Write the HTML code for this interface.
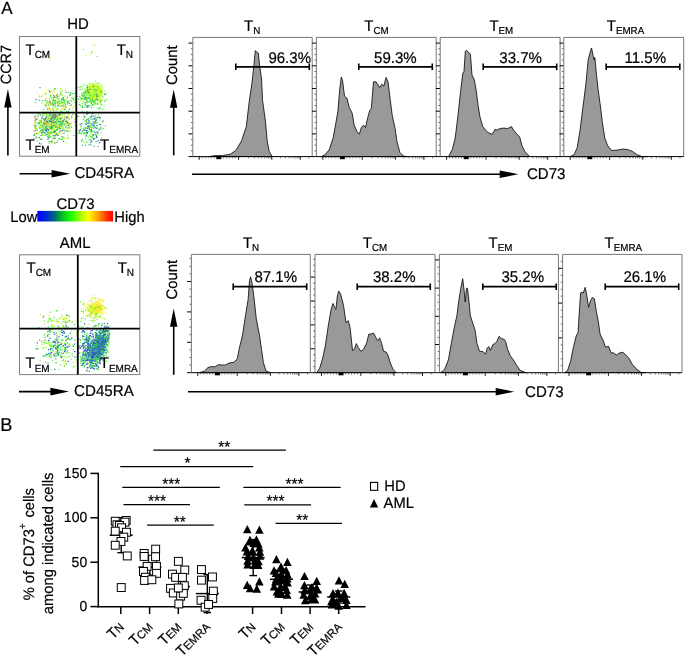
<!DOCTYPE html><html><head><meta charset="utf-8"><style>html,body{margin:0;padding:0;background:#fff;width:685px;height:655px;overflow:hidden}svg{display:block;will-change:transform}</style></head><body><svg width="685" height="655" viewBox="0 0 685 655" font-family='"Liberation Sans", sans-serif' fill="#000">
<style>text{stroke:#000;stroke-width:0.2px;text-rendering:geometricPrecision}</style>
<rect width="685" height="655" fill="#fff"/>
<defs><linearGradient id="cb" x1="0" x2="1" y1="0" y2="0"><stop offset="0" stop-color="rgb(0, 0, 255)"/><stop offset="0.1" stop-color="rgb(0, 32, 232)"/><stop offset="0.22" stop-color="rgb(0, 96, 128)"/><stop offset="0.33" stop-color="rgb(0, 192, 32)"/><stop offset="0.45" stop-color="rgb(32, 255, 0)"/><stop offset="0.58" stop-color="rgb(176, 255, 0)"/><stop offset="0.67" stop-color="rgb(255, 255, 0)"/><stop offset="0.8" stop-color="rgb(255, 160, 0)"/><stop offset="0.92" stop-color="rgb(255, 48, 0)"/><stop offset="1.0" stop-color="rgb(255, 0, 0)"/></linearGradient></defs>
<text transform="translate(1.20,13.80) scale(1,1.03)" font-size="17.00">A</text>
<text transform="translate(67.30,29.30) scale(1,1.03)" font-size="14.94">HD</text>
<path d="M95.2 92.0h1.2v1.2h-1.2zM96.0 89.4h1.2v1.2h-1.2zM90.3 92.4h1.2v1.2h-1.2zM88.9 91.0h1.2v1.2h-1.2zM93.8 89.7h1.2v1.2h-1.2zM94.4 91.5h1.2v1.2h-1.2zM97.4 85.5h1.2v1.2h-1.2zM96.7 91.2h1.2v1.2h-1.2zM92.1 92.9h1.2v1.2h-1.2zM91.7 87.0h1.2v1.2h-1.2zM92.7 94.9h1.2v1.2h-1.2zM100.1 90.9h1.2v1.2h-1.2zM95.4 90.7h1.2v1.2h-1.2zM89.5 91.2h1.2v1.2h-1.2zM96.7 91.9h1.2v1.2h-1.2zM89.9 94.2h1.2v1.2h-1.2zM89.8 92.1h1.2v1.2h-1.2zM97.9 88.4h1.2v1.2h-1.2zM91.6 92.4h1.2v1.2h-1.2zM89.5 83.6h1.2v1.2h-1.2zM93.7 98.1h1.2v1.2h-1.2zM97.9 91.4h1.2v1.2h-1.2zM92.5 92.0h1.2v1.2h-1.2zM89.8 89.2h1.2v1.2h-1.2zM88.2 97.9h1.2v1.2h-1.2zM91.8 93.9h1.2v1.2h-1.2zM95.2 89.9h1.2v1.2h-1.2zM93.4 90.7h1.2v1.2h-1.2zM96.7 96.9h1.2v1.2h-1.2zM95.0 83.1h1.2v1.2h-1.2zM96.0 85.1h1.2v1.2h-1.2zM90.5 87.8h1.2v1.2h-1.2zM95.4 88.7h1.2v1.2h-1.2zM97.0 90.1h1.2v1.2h-1.2zM98.5 88.0h1.2v1.2h-1.2zM93.8 92.2h1.2v1.2h-1.2zM96.2 95.4h1.2v1.2h-1.2zM88.9 96.6h1.2v1.2h-1.2zM94.4 94.8h1.2v1.2h-1.2zM93.2 90.9h1.2v1.2h-1.2zM96.2 98.3h1.2v1.2h-1.2zM94.3 94.1h1.2v1.2h-1.2zM93.1 90.4h1.2v1.2h-1.2zM87.6 92.5h1.2v1.2h-1.2zM100.1 94.4h1.2v1.2h-1.2zM94.8 89.5h1.2v1.2h-1.2zM95.2 89.9h1.2v1.2h-1.2zM95.2 92.9h1.2v1.2h-1.2zM94.8 91.8h1.2v1.2h-1.2zM87.3 92.2h1.2v1.2h-1.2zM93.8 87.1h1.2v1.2h-1.2zM96.1 90.0h1.2v1.2h-1.2zM97.2 85.9h1.2v1.2h-1.2zM94.7 88.7h1.2v1.2h-1.2zM98.1 90.4h1.2v1.2h-1.2zM99.4 94.5h1.2v1.2h-1.2zM87.3 92.7h1.2v1.2h-1.2zM90.9 98.3h1.2v1.2h-1.2zM96.4 91.3h1.2v1.2h-1.2zM93.6 87.4h1.2v1.2h-1.2zM90.4 96.0h1.2v1.2h-1.2zM101.4 84.3h1.2v1.2h-1.2zM93.9 93.0h1.2v1.2h-1.2zM89.7 96.4h1.2v1.2h-1.2zM92.4 84.0h1.2v1.2h-1.2zM95.0 91.6h1.2v1.2h-1.2zM90.2 88.9h1.2v1.2h-1.2zM94.9 89.7h1.2v1.2h-1.2zM94.6 92.4h1.2v1.2h-1.2zM91.8 90.9h1.2v1.2h-1.2zM94.9 86.9h1.2v1.2h-1.2zM95.8 85.0h1.2v1.2h-1.2zM98.0 96.9h1.2v1.2h-1.2zM97.8 85.5h1.2v1.2h-1.2zM93.6 98.7h1.2v1.2h-1.2zM98.3 94.5h1.2v1.2h-1.2zM96.3 85.1h1.2v1.2h-1.2zM87.2 93.3h1.2v1.2h-1.2zM97.6 90.6h1.2v1.2h-1.2zM93.4 100.2h1.2v1.2h-1.2zM99.4 92.8h1.2v1.2h-1.2zM90.1 98.2h1.2v1.2h-1.2zM90.3 85.7h1.2v1.2h-1.2zM90.6 88.2h1.2v1.2h-1.2zM96.7 89.1h1.2v1.2h-1.2zM94.3 88.1h1.2v1.2h-1.2zM90.1 91.5h1.2v1.2h-1.2zM91.0 91.9h1.2v1.2h-1.2zM93.1 100.6h1.2v1.2h-1.2zM91.0 93.5h1.2v1.2h-1.2zM86.0 92.3h1.2v1.2h-1.2zM95.2 85.7h1.2v1.2h-1.2zM87.3 89.4h1.2v1.2h-1.2zM93.7 91.8h1.2v1.2h-1.2zM92.3 92.4h1.2v1.2h-1.2zM89.5 95.0h1.2v1.2h-1.2zM95.1 95.9h1.2v1.2h-1.2zM91.3 98.5h1.2v1.2h-1.2zM95.4 91.5h1.2v1.2h-1.2zM93.3 85.9h1.2v1.2h-1.2zM92.3 85.9h1.2v1.2h-1.2zM96.2 95.4h1.2v1.2h-1.2zM91.6 95.9h1.2v1.2h-1.2zM87.0 89.9h1.2v1.2h-1.2zM92.3 95.1h1.2v1.2h-1.2zM94.5 90.8h1.2v1.2h-1.2zM97.0 91.1h1.2v1.2h-1.2zM91.3 92.8h1.2v1.2h-1.2zM94.6 94.9h1.2v1.2h-1.2zM95.4 89.3h1.2v1.2h-1.2zM92.0 89.7h1.2v1.2h-1.2zM91.7 92.1h1.2v1.2h-1.2zM97.2 88.5h1.2v1.2h-1.2zM92.6 96.4h1.2v1.2h-1.2zM95.4 88.5h1.2v1.2h-1.2zM95.7 90.4h1.2v1.2h-1.2zM85.1 91.1h1.2v1.2h-1.2zM91.1 89.0h1.2v1.2h-1.2zM95.2 86.2h1.2v1.2h-1.2zM97.5 90.8h1.2v1.2h-1.2zM90.5 87.3h1.2v1.2h-1.2zM97.5 95.7h1.2v1.2h-1.2zM90.2 88.9h1.2v1.2h-1.2zM92.9 87.4h1.2v1.2h-1.2zM95.1 92.7h1.2v1.2h-1.2zM85.4 96.8h1.2v1.2h-1.2zM94.5 89.0h1.2v1.2h-1.2zM88.2 101.7h1.2v1.2h-1.2zM97.1 102.5h1.2v1.2h-1.2zM91.8 91.1h1.2v1.2h-1.2zM97.0 89.7h1.2v1.2h-1.2zM89.2 90.1h1.2v1.2h-1.2zM96.0 93.5h1.2v1.2h-1.2zM93.5 92.2h1.2v1.2h-1.2zM86.0 88.9h1.2v1.2h-1.2zM101.1 88.8h1.2v1.2h-1.2zM94.6 97.4h1.2v1.2h-1.2zM90.2 92.2h1.2v1.2h-1.2zM89.9 92.2h1.2v1.2h-1.2zM85.2 98.8h1.2v1.2h-1.2zM94.0 91.7h1.2v1.2h-1.2zM99.0 94.7h1.2v1.2h-1.2zM92.7 89.2h1.2v1.2h-1.2zM93.5 85.6h1.2v1.2h-1.2zM97.6 90.4h1.2v1.2h-1.2zM90.1 90.1h1.2v1.2h-1.2zM99.5 89.0h1.2v1.2h-1.2zM98.0 99.2h1.2v1.2h-1.2zM94.3 91.2h1.2v1.2h-1.2zM97.4 92.8h1.2v1.2h-1.2zM96.5 89.5h1.2v1.2h-1.2zM95.1 98.5h1.2v1.2h-1.2zM89.1 97.6h1.2v1.2h-1.2zM87.5 86.3h1.2v1.2h-1.2zM97.7 89.1h1.2v1.2h-1.2zM100.8 90.6h1.2v1.2h-1.2zM88.7 87.1h1.2v1.2h-1.2zM90.0 92.4h1.2v1.2h-1.2zM88.7 90.8h1.2v1.2h-1.2zM91.0 98.9h1.2v1.2h-1.2zM96.8 89.0h1.2v1.2h-1.2zM95.2 95.4h1.2v1.2h-1.2zM91.7 94.6h1.2v1.2h-1.2zM90.2 91.4h1.2v1.2h-1.2zM94.7 87.7h1.2v1.2h-1.2zM89.8 91.7h1.2v1.2h-1.2zM97.4 103.2h1.2v1.2h-1.2zM92.4 87.8h1.2v1.2h-1.2zM92.4 95.1h1.2v1.2h-1.2zM91.5 89.1h1.2v1.2h-1.2zM92.3 91.2h1.2v1.2h-1.2zM100.3 92.5h1.2v1.2h-1.2zM94.0 96.1h1.2v1.2h-1.2zM96.6 95.1h1.2v1.2h-1.2zM94.3 88.3h1.2v1.2h-1.2zM93.3 83.5h1.2v1.2h-1.2zM87.2 90.1h1.2v1.2h-1.2zM89.0 94.7h1.2v1.2h-1.2zM92.4 96.6h1.2v1.2h-1.2zM90.6 88.3h1.2v1.2h-1.2zM91.4 93.4h1.2v1.2h-1.2zM96.6 91.3h1.2v1.2h-1.2zM93.7 91.5h1.2v1.2h-1.2zM97.5 83.0h1.2v1.2h-1.2zM93.0 90.2h1.2v1.2h-1.2zM94.6 93.2h1.2v1.2h-1.2zM90.7 89.6h1.2v1.2h-1.2zM91.4 86.0h1.2v1.2h-1.2zM90.9 90.0h1.2v1.2h-1.2zM99.8 91.6h1.2v1.2h-1.2zM90.3 92.4h1.2v1.2h-1.2zM91.2 88.5h1.2v1.2h-1.2zM89.6 92.6h1.2v1.2h-1.2zM95.2 88.8h1.2v1.2h-1.2zM91.1 96.3h1.2v1.2h-1.2zM90.6 99.7h1.2v1.2h-1.2zM91.5 89.6h1.2v1.2h-1.2zM92.3 83.4h1.2v1.2h-1.2zM89.3 86.3h1.2v1.2h-1.2zM100.2 96.3h1.2v1.2h-1.2zM98.1 87.4h1.2v1.2h-1.2zM94.9 93.7h1.2v1.2h-1.2zM97.9 91.6h1.2v1.2h-1.2zM91.1 86.6h1.2v1.2h-1.2zM89.9 93.3h1.2v1.2h-1.2zM93.7 91.0h1.2v1.2h-1.2zM98.5 92.0h1.2v1.2h-1.2zM92.9 91.4h1.2v1.2h-1.2zM92.0 88.2h1.2v1.2h-1.2zM95.2 91.6h1.2v1.2h-1.2zM92.7 99.6h1.2v1.2h-1.2zM88.4 90.5h1.2v1.2h-1.2zM86.3 98.4h1.2v1.2h-1.2zM93.4 92.4h1.2v1.2h-1.2zM88.9 91.6h1.2v1.2h-1.2zM91.3 83.2h1.2v1.2h-1.2zM90.5 86.7h1.2v1.2h-1.2zM98.4 97.5h1.2v1.2h-1.2zM95.6 86.3h1.2v1.2h-1.2zM82.6 97.2h1.2v1.2h-1.2zM80.8 98.2h1.2v1.2h-1.2zM87.4 87.5h1.2v1.2h-1.2zM78.9 101.7h1.2v1.2h-1.2zM38.4 95.3h1.2v1.2h-1.2zM53.4 112.2h1.2v1.2h-1.2zM48.8 97.7h1.2v1.2h-1.2zM72.4 106.8h1.2v1.2h-1.2zM66.7 101.1h1.2v1.2h-1.2zM62.8 103.5h1.2v1.2h-1.2zM61.3 101.3h1.2v1.2h-1.2zM36.8 92.4h1.2v1.2h-1.2zM60.2 88.0h1.2v1.2h-1.2zM52.9 97.2h1.2v1.2h-1.2zM62.7 107.9h1.2v1.2h-1.2zM66.3 129.2h1.2v1.2h-1.2zM73.9 118.5h1.2v1.2h-1.2zM49.9 117.7h1.2v1.2h-1.2zM52.7 118.6h1.2v1.2h-1.2zM76.7 129.9h1.2v1.2h-1.2zM55.3 135.0h1.2v1.2h-1.2zM51.5 119.4h1.2v1.2h-1.2zM46.4 126.3h1.2v1.2h-1.2zM39.4 126.4h1.2v1.2h-1.2zM52.6 129.9h1.2v1.2h-1.2zM58.2 120.6h1.2v1.2h-1.2zM42.1 133.4h1.2v1.2h-1.2zM51.6 131.7h1.2v1.2h-1.2zM40.1 125.8h1.2v1.2h-1.2zM59.2 118.5h1.2v1.2h-1.2zM59.5 120.9h1.2v1.2h-1.2zM55.7 119.1h1.2v1.2h-1.2zM48.5 129.7h1.2v1.2h-1.2zM54.3 123.8h1.2v1.2h-1.2zM54.6 113.9h1.2v1.2h-1.2zM61.4 130.1h1.2v1.2h-1.2zM52.5 127.3h1.2v1.2h-1.2zM54.4 124.8h1.2v1.2h-1.2zM65.8 127.8h1.2v1.2h-1.2zM52.6 121.2h1.2v1.2h-1.2zM46.0 128.1h1.2v1.2h-1.2zM35.2 119.3h1.2v1.2h-1.2zM62.9 123.0h1.2v1.2h-1.2zM42.2 129.9h1.2v1.2h-1.2zM46.4 55.5h1.2v1.2h-1.2z" fill="#befa32"/>
<path d="M92.2 88.3h1.2v1.2h-1.2zM99.4 92.3h1.2v1.2h-1.2zM88.6 94.9h1.2v1.2h-1.2zM92.1 85.6h1.2v1.2h-1.2zM98.2 88.6h1.2v1.2h-1.2zM97.5 91.9h1.2v1.2h-1.2zM99.8 94.8h1.2v1.2h-1.2zM92.8 83.5h1.2v1.2h-1.2zM93.8 89.7h1.2v1.2h-1.2zM92.7 89.1h1.2v1.2h-1.2zM94.3 91.9h1.2v1.2h-1.2zM99.9 99.9h1.2v1.2h-1.2zM97.3 84.9h1.2v1.2h-1.2zM94.2 91.0h1.2v1.2h-1.2zM93.3 85.6h1.2v1.2h-1.2zM90.0 93.7h1.2v1.2h-1.2zM85.2 91.9h1.2v1.2h-1.2zM94.2 97.6h1.2v1.2h-1.2zM96.0 87.6h1.2v1.2h-1.2zM94.3 91.7h1.2v1.2h-1.2zM97.5 88.4h1.2v1.2h-1.2zM93.2 90.9h1.2v1.2h-1.2zM89.0 93.3h1.2v1.2h-1.2zM93.2 100.2h1.2v1.2h-1.2zM90.2 96.0h1.2v1.2h-1.2zM94.9 101.5h1.2v1.2h-1.2zM94.5 87.2h1.2v1.2h-1.2zM100.4 91.3h1.2v1.2h-1.2zM89.8 93.4h1.2v1.2h-1.2zM93.8 90.1h1.2v1.2h-1.2zM92.8 88.5h1.2v1.2h-1.2zM94.0 85.6h1.2v1.2h-1.2zM97.4 87.9h1.2v1.2h-1.2zM96.6 84.8h1.2v1.2h-1.2zM89.6 85.6h1.2v1.2h-1.2zM95.5 87.3h1.2v1.2h-1.2zM96.3 89.0h1.2v1.2h-1.2zM101.6 92.2h1.2v1.2h-1.2zM97.3 95.1h1.2v1.2h-1.2zM92.4 95.4h1.2v1.2h-1.2zM93.6 91.6h1.2v1.2h-1.2zM93.5 99.8h1.2v1.2h-1.2zM91.6 91.7h1.2v1.2h-1.2zM92.5 90.2h1.2v1.2h-1.2zM95.5 93.2h1.2v1.2h-1.2zM95.4 90.7h1.2v1.2h-1.2zM96.0 94.1h1.2v1.2h-1.2zM91.5 95.8h1.2v1.2h-1.2zM96.7 86.0h1.2v1.2h-1.2zM96.0 90.6h1.2v1.2h-1.2zM89.2 88.2h1.2v1.2h-1.2zM93.7 90.7h1.2v1.2h-1.2zM92.8 95.2h1.2v1.2h-1.2zM88.0 90.4h1.2v1.2h-1.2zM87.9 91.2h1.2v1.2h-1.2zM93.6 90.8h1.2v1.2h-1.2zM90.0 102.8h1.2v1.2h-1.2zM97.1 88.5h1.2v1.2h-1.2zM93.9 90.0h1.2v1.2h-1.2zM86.9 91.2h1.2v1.2h-1.2zM96.5 88.3h1.2v1.2h-1.2zM98.6 92.9h1.2v1.2h-1.2zM97.1 102.4h1.2v1.2h-1.2zM97.3 93.3h1.2v1.2h-1.2zM94.7 87.5h1.2v1.2h-1.2zM92.2 96.4h1.2v1.2h-1.2zM91.4 97.0h1.2v1.2h-1.2zM96.5 82.5h1.2v1.2h-1.2zM93.1 96.0h1.2v1.2h-1.2zM90.4 93.6h1.2v1.2h-1.2zM94.3 91.3h1.2v1.2h-1.2zM97.8 99.5h1.2v1.2h-1.2zM85.8 87.5h1.2v1.2h-1.2zM94.5 92.8h1.2v1.2h-1.2zM90.7 96.2h1.2v1.2h-1.2zM87.8 87.3h1.2v1.2h-1.2zM97.0 82.6h1.2v1.2h-1.2zM91.0 92.1h1.2v1.2h-1.2zM94.6 89.2h1.2v1.2h-1.2zM91.5 94.6h1.2v1.2h-1.2zM92.0 96.4h1.2v1.2h-1.2zM96.0 92.1h1.2v1.2h-1.2zM86.7 90.9h1.2v1.2h-1.2zM92.5 92.9h1.2v1.2h-1.2zM93.4 84.1h1.2v1.2h-1.2zM94.8 86.3h1.2v1.2h-1.2zM87.0 90.5h1.2v1.2h-1.2zM93.2 91.7h1.2v1.2h-1.2zM84.2 93.4h1.2v1.2h-1.2zM92.1 97.0h1.2v1.2h-1.2zM95.7 93.0h1.2v1.2h-1.2zM92.1 95.3h1.2v1.2h-1.2zM97.1 92.8h1.2v1.2h-1.2zM95.3 97.3h1.2v1.2h-1.2zM95.0 84.9h1.2v1.2h-1.2zM96.2 97.3h1.2v1.2h-1.2zM88.5 93.3h1.2v1.2h-1.2zM96.3 94.2h1.2v1.2h-1.2zM95.7 90.7h1.2v1.2h-1.2zM94.6 96.1h1.2v1.2h-1.2zM98.8 91.8h1.2v1.2h-1.2zM88.3 93.9h1.2v1.2h-1.2zM100.0 85.6h1.2v1.2h-1.2zM88.1 92.4h1.2v1.2h-1.2zM91.7 94.7h1.2v1.2h-1.2zM90.6 91.3h1.2v1.2h-1.2zM95.7 89.2h1.2v1.2h-1.2zM100.4 90.1h1.2v1.2h-1.2zM89.3 92.0h1.2v1.2h-1.2zM97.3 86.4h1.2v1.2h-1.2zM94.4 91.8h1.2v1.2h-1.2zM91.2 97.6h1.2v1.2h-1.2zM89.9 88.4h1.2v1.2h-1.2zM94.8 89.9h1.2v1.2h-1.2zM91.9 90.3h1.2v1.2h-1.2zM88.9 93.7h1.2v1.2h-1.2zM92.7 90.3h1.2v1.2h-1.2zM88.5 87.1h1.2v1.2h-1.2zM90.8 87.8h1.2v1.2h-1.2zM96.6 91.6h1.2v1.2h-1.2zM97.9 86.0h1.2v1.2h-1.2zM94.3 101.6h1.2v1.2h-1.2zM91.8 96.3h1.2v1.2h-1.2zM88.7 86.1h1.2v1.2h-1.2zM89.3 95.2h1.2v1.2h-1.2zM99.6 92.8h1.2v1.2h-1.2zM93.3 94.5h1.2v1.2h-1.2zM93.5 89.6h1.2v1.2h-1.2zM96.8 88.3h1.2v1.2h-1.2zM99.0 95.9h1.2v1.2h-1.2zM92.6 91.6h1.2v1.2h-1.2zM96.0 90.2h1.2v1.2h-1.2zM89.6 97.1h1.2v1.2h-1.2zM99.7 98.5h1.2v1.2h-1.2zM91.4 87.0h1.2v1.2h-1.2zM97.7 86.9h1.2v1.2h-1.2zM94.2 90.6h1.2v1.2h-1.2zM96.6 99.3h1.2v1.2h-1.2zM99.5 99.7h1.2v1.2h-1.2zM93.3 93.4h1.2v1.2h-1.2zM91.8 95.3h1.2v1.2h-1.2zM95.0 90.4h1.2v1.2h-1.2zM85.1 99.7h1.2v1.2h-1.2zM84.9 99.3h1.2v1.2h-1.2zM99.3 82.8h1.2v1.2h-1.2zM85.8 98.2h1.2v1.2h-1.2zM91.7 96.7h1.2v1.2h-1.2zM81.2 86.0h1.2v1.2h-1.2zM92.5 101.6h1.2v1.2h-1.2zM86.9 100.8h1.2v1.2h-1.2zM66.6 97.3h1.2v1.2h-1.2zM50.0 95.0h1.2v1.2h-1.2zM56.3 101.4h1.2v1.2h-1.2zM44.7 107.3h1.2v1.2h-1.2zM56.9 95.0h1.2v1.2h-1.2zM55.1 96.2h1.2v1.2h-1.2zM57.0 93.2h1.2v1.2h-1.2zM42.4 113.4h1.2v1.2h-1.2zM47.5 127.0h1.2v1.2h-1.2zM61.7 137.0h1.2v1.2h-1.2zM55.7 121.6h1.2v1.2h-1.2zM49.4 131.7h1.2v1.2h-1.2zM42.5 121.5h1.2v1.2h-1.2zM58.3 116.1h1.2v1.2h-1.2zM52.7 131.9h1.2v1.2h-1.2zM56.3 133.0h1.2v1.2h-1.2zM48.4 113.7h1.2v1.2h-1.2zM41.8 135.1h1.2v1.2h-1.2zM66.2 142.3h1.2v1.2h-1.2zM58.5 125.1h1.2v1.2h-1.2zM62.8 126.5h1.2v1.2h-1.2zM59.6 120.9h1.2v1.2h-1.2zM52.4 126.1h1.2v1.2h-1.2zM40.9 125.3h1.2v1.2h-1.2zM47.2 134.7h1.2v1.2h-1.2zM63.3 121.0h1.2v1.2h-1.2zM54.1 122.2h1.2v1.2h-1.2zM52.3 131.4h1.2v1.2h-1.2zM58.0 126.6h1.2v1.2h-1.2zM43.3 129.8h1.2v1.2h-1.2zM44.7 122.0h1.2v1.2h-1.2zM43.9 120.5h1.2v1.2h-1.2zM86.4 121.7h1.2v1.2h-1.2zM95.1 118.0h1.2v1.2h-1.2zM87.3 135.4h1.2v1.2h-1.2zM85.6 127.3h1.2v1.2h-1.2zM84.7 125.7h1.2v1.2h-1.2zM89.8 127.1h1.2v1.2h-1.2zM84.0 117.9h1.2v1.2h-1.2zM83.4 132.6h1.2v1.2h-1.2zM85.7 55.4h1.2v1.2h-1.2zM91.1 51.0h1.2v1.2h-1.2zM90.1 53.2h1.2v1.2h-1.2z" fill="#aafa32"/>
<path d="M88.8 84.0h1.2v1.2h-1.2zM98.6 95.8h1.2v1.2h-1.2zM95.4 86.6h1.2v1.2h-1.2zM97.4 83.1h1.2v1.2h-1.2zM100.1 90.1h1.2v1.2h-1.2zM97.4 91.9h1.2v1.2h-1.2zM93.9 91.6h1.2v1.2h-1.2zM92.4 89.7h1.2v1.2h-1.2zM93.4 95.0h1.2v1.2h-1.2zM92.6 90.4h1.2v1.2h-1.2zM98.0 92.9h1.2v1.2h-1.2zM90.1 93.8h1.2v1.2h-1.2zM90.0 85.5h1.2v1.2h-1.2zM94.3 86.3h1.2v1.2h-1.2zM90.7 93.9h1.2v1.2h-1.2zM96.8 91.1h1.2v1.2h-1.2zM92.6 94.9h1.2v1.2h-1.2zM94.1 100.3h1.2v1.2h-1.2zM99.6 94.5h1.2v1.2h-1.2zM89.2 92.4h1.2v1.2h-1.2zM100.2 92.4h1.2v1.2h-1.2zM98.8 91.2h1.2v1.2h-1.2zM93.6 97.3h1.2v1.2h-1.2zM92.9 92.2h1.2v1.2h-1.2zM88.3 93.1h1.2v1.2h-1.2zM92.9 88.7h1.2v1.2h-1.2zM96.6 96.4h1.2v1.2h-1.2zM93.9 99.4h1.2v1.2h-1.2zM88.2 88.4h1.2v1.2h-1.2zM94.9 97.5h1.2v1.2h-1.2zM92.2 100.5h1.2v1.2h-1.2zM94.7 98.4h1.2v1.2h-1.2zM93.1 92.1h1.2v1.2h-1.2zM91.0 93.6h1.2v1.2h-1.2zM91.2 92.3h1.2v1.2h-1.2zM92.0 86.7h1.2v1.2h-1.2zM96.3 94.6h1.2v1.2h-1.2zM93.9 98.5h1.2v1.2h-1.2zM85.2 91.3h1.2v1.2h-1.2zM97.6 90.6h1.2v1.2h-1.2zM89.4 88.2h1.2v1.2h-1.2zM92.2 84.8h1.2v1.2h-1.2zM86.3 93.1h1.2v1.2h-1.2zM95.9 92.6h1.2v1.2h-1.2zM94.1 89.1h1.2v1.2h-1.2zM96.4 93.2h1.2v1.2h-1.2zM87.1 85.8h1.2v1.2h-1.2zM97.5 89.2h1.2v1.2h-1.2zM93.3 88.4h1.2v1.2h-1.2zM96.8 96.8h1.2v1.2h-1.2zM93.7 94.8h1.2v1.2h-1.2zM95.2 90.9h1.2v1.2h-1.2zM92.2 94.3h1.2v1.2h-1.2zM94.1 85.3h1.2v1.2h-1.2zM102.1 87.3h1.2v1.2h-1.2zM86.1 98.1h1.2v1.2h-1.2zM80.0 105.0h1.2v1.2h-1.2zM98.9 107.2h1.2v1.2h-1.2zM96.6 107.3h1.2v1.2h-1.2zM87.8 92.8h1.2v1.2h-1.2zM82.4 98.6h1.2v1.2h-1.2zM90.6 86.4h1.2v1.2h-1.2zM84.2 98.2h1.2v1.2h-1.2zM95.7 103.2h1.2v1.2h-1.2zM44.1 91.9h1.2v1.2h-1.2zM72.2 109.6h1.2v1.2h-1.2zM55.5 95.4h1.2v1.2h-1.2zM64.9 98.1h1.2v1.2h-1.2zM56.5 108.4h1.2v1.2h-1.2zM72.0 97.5h1.2v1.2h-1.2zM57.7 108.0h1.2v1.2h-1.2zM46.0 92.8h1.2v1.2h-1.2zM70.7 104.3h1.2v1.2h-1.2zM64.4 95.5h1.2v1.2h-1.2zM63.7 130.1h1.2v1.2h-1.2zM48.4 131.9h1.2v1.2h-1.2zM35.3 117.3h1.2v1.2h-1.2zM54.4 127.4h1.2v1.2h-1.2zM74.4 124.8h1.2v1.2h-1.2zM47.5 118.9h1.2v1.2h-1.2zM62.9 128.0h1.2v1.2h-1.2zM67.7 121.7h1.2v1.2h-1.2zM65.9 121.6h1.2v1.2h-1.2zM49.1 118.0h1.2v1.2h-1.2zM57.4 117.0h1.2v1.2h-1.2zM58.8 132.6h1.2v1.2h-1.2zM56.4 118.8h1.2v1.2h-1.2zM60.0 121.8h1.2v1.2h-1.2zM45.8 127.4h1.2v1.2h-1.2zM71.0 122.4h1.2v1.2h-1.2zM42.0 131.4h1.2v1.2h-1.2zM37.4 132.5h1.2v1.2h-1.2zM45.0 127.1h1.2v1.2h-1.2zM63.3 118.3h1.2v1.2h-1.2zM69.8 123.7h1.2v1.2h-1.2zM53.5 128.4h1.2v1.2h-1.2zM44.0 128.4h1.2v1.2h-1.2zM43.7 129.0h1.2v1.2h-1.2zM51.8 127.8h1.2v1.2h-1.2zM53.6 121.9h1.2v1.2h-1.2zM64.2 115.8h1.2v1.2h-1.2zM36.7 140.4h1.2v1.2h-1.2zM50.5 124.6h1.2v1.2h-1.2zM50.0 126.4h1.2v1.2h-1.2zM42.3 134.6h1.2v1.2h-1.2zM80.6 127.2h1.2v1.2h-1.2zM85.2 121.1h1.2v1.2h-1.2zM82.6 116.5h1.2v1.2h-1.2zM81.4 139.9h1.2v1.2h-1.2zM97.0 133.9h1.2v1.2h-1.2z" fill="#96fa32"/>
<path d="M93.3 92.7h1.2v1.2h-1.2zM96.6 88.7h1.2v1.2h-1.2zM92.8 89.4h1.2v1.2h-1.2zM90.5 89.5h1.2v1.2h-1.2zM96.7 94.4h1.2v1.2h-1.2zM92.6 89.5h1.2v1.2h-1.2zM100.0 89.8h1.2v1.2h-1.2zM90.3 94.3h1.2v1.2h-1.2zM92.1 88.0h1.2v1.2h-1.2zM100.8 99.8h1.2v1.2h-1.2zM101.0 91.8h1.2v1.2h-1.2zM99.9 85.3h1.2v1.2h-1.2zM90.9 96.8h1.2v1.2h-1.2zM91.1 94.6h1.2v1.2h-1.2zM98.3 93.0h1.2v1.2h-1.2zM95.1 93.5h1.2v1.2h-1.2zM89.7 95.9h1.2v1.2h-1.2zM95.5 90.5h1.2v1.2h-1.2zM83.6 94.4h1.2v1.2h-1.2zM93.1 96.8h1.2v1.2h-1.2zM81.4 93.8h1.2v1.2h-1.2zM90.3 98.8h1.2v1.2h-1.2zM89.5 82.8h1.2v1.2h-1.2zM93.8 85.3h1.2v1.2h-1.2zM92.2 104.9h1.2v1.2h-1.2zM92.6 97.3h1.2v1.2h-1.2zM103.7 90.8h1.2v1.2h-1.2zM79.6 97.1h1.2v1.2h-1.2zM83.8 103.6h1.2v1.2h-1.2zM79.7 99.7h1.2v1.2h-1.2zM51.5 103.9h1.2v1.2h-1.2zM70.0 93.7h1.2v1.2h-1.2zM57.4 95.4h1.2v1.2h-1.2zM63.6 100.5h1.2v1.2h-1.2zM50.1 109.4h1.2v1.2h-1.2zM60.9 100.6h1.2v1.2h-1.2zM55.5 112.2h1.2v1.2h-1.2zM58.9 103.6h1.2v1.2h-1.2zM62.2 102.5h1.2v1.2h-1.2zM58.1 95.8h1.2v1.2h-1.2zM41.0 95.9h1.2v1.2h-1.2zM54.5 96.0h1.2v1.2h-1.2zM60.6 88.9h1.2v1.2h-1.2zM61.3 98.5h1.2v1.2h-1.2zM61.8 90.3h1.2v1.2h-1.2zM72.8 98.3h1.2v1.2h-1.2zM58.4 102.3h1.2v1.2h-1.2zM58.5 97.9h1.2v1.2h-1.2zM39.8 120.7h1.2v1.2h-1.2zM35.1 128.3h1.2v1.2h-1.2zM49.7 121.0h1.2v1.2h-1.2zM49.0 137.2h1.2v1.2h-1.2zM53.8 129.0h1.2v1.2h-1.2zM57.0 140.1h1.2v1.2h-1.2zM58.1 126.8h1.2v1.2h-1.2zM59.0 122.3h1.2v1.2h-1.2zM48.7 123.5h1.2v1.2h-1.2zM34.0 126.5h1.2v1.2h-1.2zM53.2 118.8h1.2v1.2h-1.2zM50.6 116.7h1.2v1.2h-1.2zM50.3 128.3h1.2v1.2h-1.2zM46.5 123.6h1.2v1.2h-1.2zM53.3 124.2h1.2v1.2h-1.2zM52.7 114.9h1.2v1.2h-1.2zM55.8 119.3h1.2v1.2h-1.2zM45.5 116.8h1.2v1.2h-1.2zM58.7 131.6h1.2v1.2h-1.2zM34.9 126.9h1.2v1.2h-1.2zM51.7 122.0h1.2v1.2h-1.2zM56.9 126.9h1.2v1.2h-1.2zM69.1 125.2h1.2v1.2h-1.2zM57.2 113.0h1.2v1.2h-1.2zM68.0 137.6h1.2v1.2h-1.2zM39.9 122.1h1.2v1.2h-1.2zM39.5 138.6h1.2v1.2h-1.2zM61.6 116.5h1.2v1.2h-1.2zM53.5 124.0h1.2v1.2h-1.2zM53.4 131.0h1.2v1.2h-1.2zM54.9 123.2h1.2v1.2h-1.2zM50.1 121.2h1.2v1.2h-1.2zM35.6 114.4h1.2v1.2h-1.2zM46.7 133.6h1.2v1.2h-1.2zM44.5 123.2h1.2v1.2h-1.2zM55.0 121.5h1.2v1.2h-1.2zM37.2 117.9h1.2v1.2h-1.2zM58.6 120.6h1.2v1.2h-1.2zM58.2 132.8h1.2v1.2h-1.2zM86.3 133.0h1.2v1.2h-1.2zM100.4 132.0h1.2v1.2h-1.2zM101.8 121.5h1.2v1.2h-1.2zM82.5 128.1h1.2v1.2h-1.2zM89.4 123.5h1.2v1.2h-1.2zM83.4 128.9h1.2v1.2h-1.2zM96.9 122.8h1.2v1.2h-1.2zM89.3 112.6h1.2v1.2h-1.2zM82.9 49.0h1.2v1.2h-1.2zM93.7 44.5h1.2v1.2h-1.2z" fill="#82fa32"/>
<path d="M94.3 86.9h1.2v1.2h-1.2zM90.8 86.2h1.2v1.2h-1.2zM88.7 92.0h1.2v1.2h-1.2zM94.0 93.4h1.2v1.2h-1.2zM91.5 89.6h1.2v1.2h-1.2zM95.8 87.8h1.2v1.2h-1.2zM94.2 86.3h1.2v1.2h-1.2zM92.6 86.2h1.2v1.2h-1.2zM90.1 85.7h1.2v1.2h-1.2zM95.1 90.4h1.2v1.2h-1.2zM94.9 92.3h1.2v1.2h-1.2zM101.7 89.9h1.2v1.2h-1.2zM91.3 95.0h1.2v1.2h-1.2zM92.5 87.4h1.2v1.2h-1.2zM95.2 93.6h1.2v1.2h-1.2zM88.6 92.9h1.2v1.2h-1.2zM90.8 87.1h1.2v1.2h-1.2zM94.6 93.1h1.2v1.2h-1.2zM93.8 96.4h1.2v1.2h-1.2zM96.4 97.0h1.2v1.2h-1.2zM96.3 91.7h1.2v1.2h-1.2zM91.3 93.5h1.2v1.2h-1.2zM98.5 96.9h1.2v1.2h-1.2zM88.2 87.0h1.2v1.2h-1.2zM93.9 89.8h1.2v1.2h-1.2zM99.7 86.1h1.2v1.2h-1.2zM96.8 103.9h1.2v1.2h-1.2zM99.9 88.2h1.2v1.2h-1.2zM97.0 88.0h1.2v1.2h-1.2zM92.6 95.6h1.2v1.2h-1.2zM97.2 99.5h1.2v1.2h-1.2zM98.7 86.9h1.2v1.2h-1.2zM93.5 93.6h1.2v1.2h-1.2zM94.7 86.9h1.2v1.2h-1.2zM92.2 87.4h1.2v1.2h-1.2zM89.6 87.2h1.2v1.2h-1.2zM91.6 91.5h1.2v1.2h-1.2zM94.5 88.9h1.2v1.2h-1.2zM91.9 88.5h1.2v1.2h-1.2zM94.9 100.6h1.2v1.2h-1.2zM89.8 97.0h1.2v1.2h-1.2zM91.5 88.1h1.2v1.2h-1.2zM98.8 87.7h1.2v1.2h-1.2zM95.5 86.9h1.2v1.2h-1.2zM92.6 88.8h1.2v1.2h-1.2zM94.4 93.3h1.2v1.2h-1.2zM92.0 96.2h1.2v1.2h-1.2zM93.9 97.9h1.2v1.2h-1.2zM92.8 93.0h1.2v1.2h-1.2zM92.2 98.7h1.2v1.2h-1.2zM49.1 91.7h1.2v1.2h-1.2zM49.9 101.7h1.2v1.2h-1.2zM48.5 101.7h1.2v1.2h-1.2zM55.6 98.4h1.2v1.2h-1.2zM51.6 101.4h1.2v1.2h-1.2zM51.7 108.7h1.2v1.2h-1.2zM43.9 103.4h1.2v1.2h-1.2zM73.6 99.9h1.2v1.2h-1.2zM59.1 104.4h1.2v1.2h-1.2zM52.3 101.4h1.2v1.2h-1.2zM53.6 92.1h1.2v1.2h-1.2zM62.4 105.0h1.2v1.2h-1.2zM50.8 133.8h1.2v1.2h-1.2zM43.8 124.4h1.2v1.2h-1.2zM37.6 132.8h1.2v1.2h-1.2zM37.2 113.2h1.2v1.2h-1.2zM37.9 121.9h1.2v1.2h-1.2zM59.7 121.0h1.2v1.2h-1.2zM52.5 129.8h1.2v1.2h-1.2zM47.2 114.7h1.2v1.2h-1.2zM53.4 116.2h1.2v1.2h-1.2zM54.4 126.1h1.2v1.2h-1.2zM75.0 125.1h1.2v1.2h-1.2zM46.5 123.0h1.2v1.2h-1.2zM49.4 127.1h1.2v1.2h-1.2zM65.8 119.8h1.2v1.2h-1.2zM62.3 114.8h1.2v1.2h-1.2zM89.7 128.6h1.2v1.2h-1.2z" fill="#e6fa32"/>
<path d="M94.3 87.0h1.2v1.2h-1.2zM93.6 90.1h1.2v1.2h-1.2zM98.7 90.1h1.2v1.2h-1.2zM94.0 96.4h1.2v1.2h-1.2zM94.8 89.4h1.2v1.2h-1.2zM93.2 91.3h1.2v1.2h-1.2zM90.6 95.2h1.2v1.2h-1.2zM87.9 92.5h1.2v1.2h-1.2zM90.1 91.3h1.2v1.2h-1.2zM88.9 89.4h1.2v1.2h-1.2zM87.0 89.3h1.2v1.2h-1.2zM89.1 87.3h1.2v1.2h-1.2zM92.0 90.1h1.2v1.2h-1.2zM88.5 89.6h1.2v1.2h-1.2zM93.4 96.1h1.2v1.2h-1.2zM97.3 95.3h1.2v1.2h-1.2zM96.0 95.6h1.2v1.2h-1.2zM88.4 100.5h1.2v1.2h-1.2zM92.8 92.3h1.2v1.2h-1.2zM92.1 98.1h1.2v1.2h-1.2zM93.3 90.9h1.2v1.2h-1.2zM97.9 98.6h1.2v1.2h-1.2zM93.7 87.3h1.2v1.2h-1.2zM90.4 97.4h1.2v1.2h-1.2zM95.0 98.4h1.2v1.2h-1.2zM101.5 94.1h1.2v1.2h-1.2zM88.4 83.8h1.2v1.2h-1.2zM91.3 90.4h1.2v1.2h-1.2zM98.3 96.7h1.2v1.2h-1.2zM90.3 86.9h1.2v1.2h-1.2zM86.4 93.9h1.2v1.2h-1.2zM89.0 96.1h1.2v1.2h-1.2zM93.8 86.6h1.2v1.2h-1.2zM91.0 91.0h1.2v1.2h-1.2zM93.8 84.4h1.2v1.2h-1.2zM93.8 91.7h1.2v1.2h-1.2zM89.8 91.8h1.2v1.2h-1.2zM92.2 91.4h1.2v1.2h-1.2zM96.5 90.9h1.2v1.2h-1.2zM87.9 92.9h1.2v1.2h-1.2zM91.5 86.6h1.2v1.2h-1.2zM91.2 86.7h1.2v1.2h-1.2zM94.4 93.7h1.2v1.2h-1.2zM93.8 88.8h1.2v1.2h-1.2zM93.9 89.5h1.2v1.2h-1.2zM100.8 94.9h1.2v1.2h-1.2zM95.2 93.3h1.2v1.2h-1.2zM93.8 89.7h1.2v1.2h-1.2zM97.1 91.2h1.2v1.2h-1.2zM87.9 89.2h1.2v1.2h-1.2zM93.0 96.3h1.2v1.2h-1.2zM94.9 91.4h1.2v1.2h-1.2zM89.9 90.5h1.2v1.2h-1.2zM93.6 96.0h1.2v1.2h-1.2zM96.0 97.1h1.2v1.2h-1.2zM93.2 94.7h1.2v1.2h-1.2zM95.0 97.1h1.2v1.2h-1.2zM101.9 99.8h1.2v1.2h-1.2zM93.0 91.7h1.2v1.2h-1.2zM91.9 89.2h1.2v1.2h-1.2zM89.1 88.1h1.2v1.2h-1.2zM86.1 89.3h1.2v1.2h-1.2zM94.2 94.7h1.2v1.2h-1.2zM95.6 93.8h1.2v1.2h-1.2zM91.4 92.4h1.2v1.2h-1.2zM93.8 89.0h1.2v1.2h-1.2zM95.3 91.6h1.2v1.2h-1.2zM94.4 92.1h1.2v1.2h-1.2zM93.6 88.1h1.2v1.2h-1.2zM93.9 87.2h1.2v1.2h-1.2zM93.0 87.9h1.2v1.2h-1.2zM94.1 95.1h1.2v1.2h-1.2zM85.5 89.8h1.2v1.2h-1.2zM97.7 90.5h1.2v1.2h-1.2zM95.6 90.2h1.2v1.2h-1.2zM94.9 96.7h1.2v1.2h-1.2zM96.7 87.9h1.2v1.2h-1.2zM93.7 95.1h1.2v1.2h-1.2zM93.7 94.7h1.2v1.2h-1.2zM93.9 85.4h1.2v1.2h-1.2zM93.4 96.3h1.2v1.2h-1.2zM93.6 92.1h1.2v1.2h-1.2zM92.4 96.3h1.2v1.2h-1.2zM89.8 98.7h1.2v1.2h-1.2zM93.0 94.5h1.2v1.2h-1.2zM101.5 94.0h1.2v1.2h-1.2zM97.5 87.2h1.2v1.2h-1.2zM91.4 88.2h1.2v1.2h-1.2zM93.3 88.2h1.2v1.2h-1.2zM89.7 95.2h1.2v1.2h-1.2zM93.3 91.5h1.2v1.2h-1.2zM90.3 85.1h1.2v1.2h-1.2zM94.9 89.7h1.2v1.2h-1.2zM92.0 95.8h1.2v1.2h-1.2zM93.3 91.4h1.2v1.2h-1.2zM97.6 91.9h1.2v1.2h-1.2zM93.0 93.7h1.2v1.2h-1.2zM98.7 94.7h1.2v1.2h-1.2zM99.4 97.0h1.2v1.2h-1.2zM99.8 88.1h1.2v1.2h-1.2zM97.7 92.9h1.2v1.2h-1.2zM96.9 91.5h1.2v1.2h-1.2zM96.0 89.7h1.2v1.2h-1.2zM95.7 97.9h1.2v1.2h-1.2zM98.9 88.4h1.2v1.2h-1.2zM87.6 95.2h1.2v1.2h-1.2zM97.5 93.2h1.2v1.2h-1.2zM92.9 83.0h1.2v1.2h-1.2zM97.8 87.3h1.2v1.2h-1.2zM101.7 91.5h1.2v1.2h-1.2zM94.9 94.0h1.2v1.2h-1.2zM90.2 97.6h1.2v1.2h-1.2zM92.1 89.8h1.2v1.2h-1.2zM93.6 93.2h1.2v1.2h-1.2zM100.6 86.9h1.2v1.2h-1.2zM97.1 93.8h1.2v1.2h-1.2zM98.7 100.5h1.2v1.2h-1.2zM93.6 90.5h1.2v1.2h-1.2zM87.1 93.8h1.2v1.2h-1.2zM88.9 95.8h1.2v1.2h-1.2zM93.7 88.2h1.2v1.2h-1.2zM99.0 93.6h1.2v1.2h-1.2zM97.0 90.5h1.2v1.2h-1.2zM94.5 88.2h1.2v1.2h-1.2zM95.1 88.1h1.2v1.2h-1.2zM93.1 88.5h1.2v1.2h-1.2zM92.2 95.5h1.2v1.2h-1.2zM85.5 92.4h1.2v1.2h-1.2zM96.4 91.9h1.2v1.2h-1.2zM85.9 93.9h1.2v1.2h-1.2zM95.4 96.3h1.2v1.2h-1.2zM98.9 92.6h1.2v1.2h-1.2zM88.7 95.3h1.2v1.2h-1.2zM84.5 92.4h1.2v1.2h-1.2zM93.1 94.9h1.2v1.2h-1.2zM87.1 89.0h1.2v1.2h-1.2zM97.3 96.7h1.2v1.2h-1.2zM101.2 95.4h1.2v1.2h-1.2zM90.9 89.9h1.2v1.2h-1.2zM97.6 93.7h1.2v1.2h-1.2zM91.0 96.2h1.2v1.2h-1.2zM90.7 93.5h1.2v1.2h-1.2zM98.5 87.0h1.2v1.2h-1.2zM90.1 92.1h1.2v1.2h-1.2zM94.3 88.0h1.2v1.2h-1.2zM94.0 96.7h1.2v1.2h-1.2zM96.9 95.6h1.2v1.2h-1.2zM94.8 101.1h1.2v1.2h-1.2zM95.4 87.8h1.2v1.2h-1.2zM91.2 99.6h1.2v1.2h-1.2zM84.7 90.9h1.2v1.2h-1.2zM95.1 98.2h1.2v1.2h-1.2zM91.9 97.9h1.2v1.2h-1.2zM99.3 100.4h1.2v1.2h-1.2zM91.0 90.4h1.2v1.2h-1.2zM89.8 91.4h1.2v1.2h-1.2zM87.8 91.0h1.2v1.2h-1.2zM93.4 93.2h1.2v1.2h-1.2zM96.5 91.7h1.2v1.2h-1.2zM96.9 92.0h1.2v1.2h-1.2zM90.9 86.2h1.2v1.2h-1.2zM93.7 85.2h1.2v1.2h-1.2zM89.8 84.6h1.2v1.2h-1.2zM95.2 99.2h1.2v1.2h-1.2zM91.4 104.4h1.2v1.2h-1.2zM67.4 111.5h1.2v1.2h-1.2zM53.7 88.3h1.2v1.2h-1.2zM54.1 95.8h1.2v1.2h-1.2zM53.6 102.3h1.2v1.2h-1.2zM52.0 108.7h1.2v1.2h-1.2zM49.9 108.7h1.2v1.2h-1.2zM62.1 102.3h1.2v1.2h-1.2zM64.7 106.0h1.2v1.2h-1.2zM49.2 105.3h1.2v1.2h-1.2zM72.6 106.3h1.2v1.2h-1.2zM63.2 98.9h1.2v1.2h-1.2zM40.7 132.8h1.2v1.2h-1.2zM40.4 121.0h1.2v1.2h-1.2zM67.8 113.7h1.2v1.2h-1.2zM69.4 127.9h1.2v1.2h-1.2zM46.0 118.5h1.2v1.2h-1.2zM65.9 118.6h1.2v1.2h-1.2zM59.6 124.0h1.2v1.2h-1.2zM62.9 112.9h1.2v1.2h-1.2zM50.3 117.1h1.2v1.2h-1.2zM47.2 119.9h1.2v1.2h-1.2zM53.1 122.2h1.2v1.2h-1.2zM54.0 116.8h1.2v1.2h-1.2zM35.2 129.6h1.2v1.2h-1.2zM61.1 126.5h1.2v1.2h-1.2zM42.9 119.3h1.2v1.2h-1.2zM59.3 133.7h1.2v1.2h-1.2zM44.5 133.2h1.2v1.2h-1.2zM61.2 133.6h1.2v1.2h-1.2zM57.6 132.8h1.2v1.2h-1.2zM54.9 117.1h1.2v1.2h-1.2zM50.8 140.1h1.2v1.2h-1.2zM35.0 133.4h1.2v1.2h-1.2zM49.8 58.1h1.2v1.2h-1.2z" fill="#d2fa32"/>
<path d="M89.5 90.8h1.2v1.2h-1.2zM92.5 87.6h1.2v1.2h-1.2zM98.2 92.0h1.2v1.2h-1.2zM93.6 93.4h1.2v1.2h-1.2zM85.2 98.6h1.2v1.2h-1.2zM96.9 91.0h1.2v1.2h-1.2zM79.1 87.3h1.2v1.2h-1.2zM54.6 109.8h1.2v1.2h-1.2zM61.2 102.9h1.2v1.2h-1.2zM56.0 108.7h1.2v1.2h-1.2zM54.7 103.6h1.2v1.2h-1.2zM62.1 108.2h1.2v1.2h-1.2zM59.3 103.5h1.2v1.2h-1.2zM76.3 104.1h1.2v1.2h-1.2zM57.0 101.2h1.2v1.2h-1.2zM68.0 100.9h1.2v1.2h-1.2zM56.5 96.2h1.2v1.2h-1.2zM46.0 89.2h1.2v1.2h-1.2zM36.5 98.1h1.2v1.2h-1.2zM34.2 119.7h1.2v1.2h-1.2zM49.4 119.2h1.2v1.2h-1.2zM54.6 131.1h1.2v1.2h-1.2zM53.1 129.0h1.2v1.2h-1.2zM37.5 136.5h1.2v1.2h-1.2zM47.0 127.7h1.2v1.2h-1.2zM56.7 132.3h1.2v1.2h-1.2zM59.6 121.3h1.2v1.2h-1.2zM69.1 126.2h1.2v1.2h-1.2zM50.7 112.6h1.2v1.2h-1.2zM59.1 132.5h1.2v1.2h-1.2zM53.2 128.7h1.2v1.2h-1.2zM53.9 133.1h1.2v1.2h-1.2zM65.2 137.6h1.2v1.2h-1.2zM35.2 118.9h1.2v1.2h-1.2zM53.8 121.4h1.2v1.2h-1.2zM65.7 120.7h1.2v1.2h-1.2zM58.5 133.2h1.2v1.2h-1.2zM51.8 121.7h1.2v1.2h-1.2zM53.9 129.5h1.2v1.2h-1.2zM53.4 124.9h1.2v1.2h-1.2zM52.1 112.6h1.2v1.2h-1.2zM53.0 122.2h1.2v1.2h-1.2zM45.9 113.0h1.2v1.2h-1.2zM52.5 133.7h1.2v1.2h-1.2zM45.6 121.3h1.2v1.2h-1.2zM55.9 128.5h1.2v1.2h-1.2zM50.8 127.6h1.2v1.2h-1.2zM69.4 132.5h1.2v1.2h-1.2zM64.5 112.7h1.2v1.2h-1.2zM49.7 134.0h1.2v1.2h-1.2zM53.4 132.3h1.2v1.2h-1.2zM44.4 122.5h1.2v1.2h-1.2zM57.6 114.8h1.2v1.2h-1.2zM96.3 134.7h1.2v1.2h-1.2z" fill="#fafa32"/>
<path d="M87.7 92.7h1.2v1.2h-1.2zM94.7 80.4h1.2v1.2h-1.2zM81.7 97.7h1.2v1.2h-1.2zM92.6 94.6h1.2v1.2h-1.2zM92.6 104.3h1.2v1.2h-1.2zM91.0 102.2h1.2v1.2h-1.2zM77.2 87.1h1.2v1.2h-1.2zM84.6 97.4h1.2v1.2h-1.2zM103.7 105.4h1.2v1.2h-1.2zM86.4 105.3h1.2v1.2h-1.2zM81.4 99.0h1.2v1.2h-1.2zM87.8 97.9h1.2v1.2h-1.2zM90.2 88.6h1.2v1.2h-1.2zM93.8 89.6h1.2v1.2h-1.2zM86.0 99.7h1.2v1.2h-1.2zM92.8 86.0h1.2v1.2h-1.2zM79.5 86.1h1.2v1.2h-1.2zM94.1 103.5h1.2v1.2h-1.2zM91.6 104.7h1.2v1.2h-1.2zM88.6 87.1h1.2v1.2h-1.2zM99.3 107.0h1.2v1.2h-1.2zM81.6 92.5h1.2v1.2h-1.2zM63.1 104.3h1.2v1.2h-1.2zM44.8 93.9h1.2v1.2h-1.2zM60.6 105.6h1.2v1.2h-1.2zM57.5 99.3h1.2v1.2h-1.2zM58.6 104.8h1.2v1.2h-1.2zM66.0 110.8h1.2v1.2h-1.2zM54.2 101.4h1.2v1.2h-1.2zM55.4 106.2h1.2v1.2h-1.2zM70.7 97.3h1.2v1.2h-1.2zM52.6 105.2h1.2v1.2h-1.2zM44.8 111.5h1.2v1.2h-1.2zM50.5 96.8h1.2v1.2h-1.2zM54.2 88.3h1.2v1.2h-1.2zM61.2 105.2h1.2v1.2h-1.2zM65.5 106.5h1.2v1.2h-1.2zM41.1 132.6h1.2v1.2h-1.2zM56.9 129.1h1.2v1.2h-1.2zM63.1 136.6h1.2v1.2h-1.2zM68.8 127.2h1.2v1.2h-1.2zM44.3 122.0h1.2v1.2h-1.2zM57.7 115.2h1.2v1.2h-1.2zM51.6 114.8h1.2v1.2h-1.2zM43.7 124.5h1.2v1.2h-1.2zM53.7 142.2h1.2v1.2h-1.2zM57.9 120.2h1.2v1.2h-1.2zM35.5 138.0h1.2v1.2h-1.2zM59.0 114.3h1.2v1.2h-1.2zM60.3 117.6h1.2v1.2h-1.2zM48.5 121.9h1.2v1.2h-1.2zM67.2 135.2h1.2v1.2h-1.2zM51.2 132.2h1.2v1.2h-1.2zM42.2 130.8h1.2v1.2h-1.2zM52.2 114.2h1.2v1.2h-1.2zM45.3 122.8h1.2v1.2h-1.2zM51.6 140.1h1.2v1.2h-1.2zM61.4 124.4h1.2v1.2h-1.2zM49.0 136.1h1.2v1.2h-1.2zM40.6 122.4h1.2v1.2h-1.2zM51.5 113.9h1.2v1.2h-1.2zM47.7 125.3h1.2v1.2h-1.2zM33.3 124.5h1.2v1.2h-1.2zM89.3 134.6h1.2v1.2h-1.2zM95.4 117.5h1.2v1.2h-1.2zM86.2 127.3h1.2v1.2h-1.2zM87.7 136.3h1.2v1.2h-1.2zM88.9 126.9h1.2v1.2h-1.2zM96.5 117.5h1.2v1.2h-1.2zM82.8 118.9h1.2v1.2h-1.2zM96.5 55.9h1.2v1.2h-1.2z" fill="#5afa32"/>
<path d="M79.5 89.0h1.2v1.2h-1.2zM99.2 100.4h1.2v1.2h-1.2zM84.2 94.3h1.2v1.2h-1.2zM82.7 95.1h1.2v1.2h-1.2zM84.1 97.6h1.2v1.2h-1.2zM90.7 102.8h1.2v1.2h-1.2zM50.3 103.5h1.2v1.2h-1.2zM46.0 101.7h1.2v1.2h-1.2zM46.2 128.5h1.2v1.2h-1.2zM54.7 125.8h1.2v1.2h-1.2zM54.6 118.4h1.2v1.2h-1.2zM49.0 133.1h1.2v1.2h-1.2zM43.1 112.8h1.2v1.2h-1.2zM48.3 137.3h1.2v1.2h-1.2zM38.9 131.2h1.2v1.2h-1.2zM56.8 126.3h1.2v1.2h-1.2zM39.2 127.3h1.2v1.2h-1.2zM64.1 113.4h1.2v1.2h-1.2zM71.1 117.0h1.2v1.2h-1.2zM61.2 117.9h1.2v1.2h-1.2zM92.6 121.2h1.2v1.2h-1.2zM96.6 127.3h1.2v1.2h-1.2zM91.1 123.9h1.2v1.2h-1.2zM90.8 124.3h1.2v1.2h-1.2z" fill="#46e632"/>
<path d="M103.8 93.7h1.2v1.2h-1.2zM86.5 97.0h1.2v1.2h-1.2zM84.4 97.1h1.2v1.2h-1.2zM87.1 89.3h1.2v1.2h-1.2zM84.9 91.3h1.2v1.2h-1.2zM96.5 94.0h1.2v1.2h-1.2zM87.5 104.9h1.2v1.2h-1.2zM83.5 98.4h1.2v1.2h-1.2zM84.9 92.0h1.2v1.2h-1.2zM96.7 95.7h1.2v1.2h-1.2zM92.5 85.7h1.2v1.2h-1.2zM44.6 99.8h1.2v1.2h-1.2zM56.3 94.4h1.2v1.2h-1.2zM65.5 91.8h1.2v1.2h-1.2zM46.9 108.6h1.2v1.2h-1.2zM53.2 114.0h1.2v1.2h-1.2zM65.6 124.4h1.2v1.2h-1.2zM61.4 121.1h1.2v1.2h-1.2zM63.6 124.2h1.2v1.2h-1.2zM53.3 116.6h1.2v1.2h-1.2zM50.6 125.1h1.2v1.2h-1.2zM57.5 114.5h1.2v1.2h-1.2zM47.7 117.7h1.2v1.2h-1.2zM60.0 118.5h1.2v1.2h-1.2zM61.5 136.0h1.2v1.2h-1.2zM55.8 115.8h1.2v1.2h-1.2zM48.9 114.3h1.2v1.2h-1.2zM44.8 130.0h1.2v1.2h-1.2zM56.0 122.5h1.2v1.2h-1.2zM48.3 120.4h1.2v1.2h-1.2zM60.7 124.1h1.2v1.2h-1.2zM48.6 141.1h1.2v1.2h-1.2zM55.3 121.6h1.2v1.2h-1.2zM48.4 136.5h1.2v1.2h-1.2zM46.9 117.7h1.2v1.2h-1.2zM56.6 118.9h1.2v1.2h-1.2zM33.1 138.3h1.2v1.2h-1.2zM47.4 133.2h1.2v1.2h-1.2zM34.6 120.2h1.2v1.2h-1.2zM55.3 134.1h1.2v1.2h-1.2zM49.0 128.0h1.2v1.2h-1.2zM52.7 134.9h1.2v1.2h-1.2zM43.1 128.8h1.2v1.2h-1.2zM48.6 126.4h1.2v1.2h-1.2zM54.2 131.8h1.2v1.2h-1.2zM56.7 117.1h1.2v1.2h-1.2zM66.7 130.7h1.2v1.2h-1.2zM54.0 117.6h1.2v1.2h-1.2zM56.6 115.3h1.2v1.2h-1.2zM86.5 132.8h1.2v1.2h-1.2zM95.5 141.1h1.2v1.2h-1.2zM90.7 116.3h1.2v1.2h-1.2zM86.4 119.1h1.2v1.2h-1.2zM95.7 119.5h1.2v1.2h-1.2zM96.0 127.7h1.2v1.2h-1.2zM88.2 121.3h1.2v1.2h-1.2zM92.4 125.3h1.2v1.2h-1.2zM84.3 132.3h1.2v1.2h-1.2zM89.7 139.1h1.2v1.2h-1.2zM88.2 122.9h1.2v1.2h-1.2zM99.9 123.9h1.2v1.2h-1.2zM91.7 118.5h1.2v1.2h-1.2zM78.7 132.3h1.2v1.2h-1.2z" fill="#329682"/>
<path d="M94.6 103.0h1.2v1.2h-1.2zM87.4 91.6h1.2v1.2h-1.2zM78.0 98.6h1.2v1.2h-1.2zM97.1 98.9h1.2v1.2h-1.2zM82.2 95.0h1.2v1.2h-1.2zM91.9 98.1h1.2v1.2h-1.2zM88.9 105.3h1.2v1.2h-1.2zM89.5 95.2h1.2v1.2h-1.2zM97.1 103.3h1.2v1.2h-1.2zM90.5 101.1h1.2v1.2h-1.2zM81.5 107.1h1.2v1.2h-1.2zM98.1 108.3h1.2v1.2h-1.2zM86.3 99.1h1.2v1.2h-1.2zM83.6 95.2h1.2v1.2h-1.2zM92.1 104.3h1.2v1.2h-1.2zM105.4 93.0h1.2v1.2h-1.2zM84.5 102.6h1.2v1.2h-1.2zM62.5 97.7h1.2v1.2h-1.2zM59.4 93.9h1.2v1.2h-1.2zM52.7 109.7h1.2v1.2h-1.2zM65.3 106.7h1.2v1.2h-1.2zM68.0 101.4h1.2v1.2h-1.2zM57.2 104.7h1.2v1.2h-1.2zM71.6 97.9h1.2v1.2h-1.2zM57.5 101.9h1.2v1.2h-1.2zM61.5 94.2h1.2v1.2h-1.2zM54.5 102.5h1.2v1.2h-1.2zM60.8 99.5h1.2v1.2h-1.2zM67.7 91.7h1.2v1.2h-1.2zM73.2 99.1h1.2v1.2h-1.2zM48.1 104.2h1.2v1.2h-1.2zM63.7 99.5h1.2v1.2h-1.2zM57.0 95.6h1.2v1.2h-1.2zM54.6 88.3h1.2v1.2h-1.2zM68.9 94.8h1.2v1.2h-1.2zM74.1 92.7h1.2v1.2h-1.2zM46.2 124.5h1.2v1.2h-1.2zM60.3 117.7h1.2v1.2h-1.2zM61.4 124.4h1.2v1.2h-1.2zM41.5 115.7h1.2v1.2h-1.2zM67.6 126.8h1.2v1.2h-1.2zM55.9 123.9h1.2v1.2h-1.2zM49.9 128.0h1.2v1.2h-1.2zM57.3 128.4h1.2v1.2h-1.2zM56.8 128.2h1.2v1.2h-1.2zM40.4 124.3h1.2v1.2h-1.2zM44.9 125.8h1.2v1.2h-1.2zM58.6 117.4h1.2v1.2h-1.2zM58.2 138.3h1.2v1.2h-1.2zM45.2 129.0h1.2v1.2h-1.2zM48.6 134.4h1.2v1.2h-1.2zM68.9 123.3h1.2v1.2h-1.2zM35.4 122.2h1.2v1.2h-1.2zM47.2 135.8h1.2v1.2h-1.2zM63.6 123.4h1.2v1.2h-1.2zM59.8 117.9h1.2v1.2h-1.2zM33.9 134.9h1.2v1.2h-1.2zM66.9 116.6h1.2v1.2h-1.2zM61.8 113.2h1.2v1.2h-1.2zM59.9 114.3h1.2v1.2h-1.2zM65.4 120.5h1.2v1.2h-1.2zM50.3 121.5h1.2v1.2h-1.2zM50.1 121.5h1.2v1.2h-1.2zM51.2 120.0h1.2v1.2h-1.2zM38.7 123.0h1.2v1.2h-1.2zM47.7 123.3h1.2v1.2h-1.2zM55.0 131.0h1.2v1.2h-1.2zM50.7 121.1h1.2v1.2h-1.2zM41.2 126.9h1.2v1.2h-1.2zM66.9 130.2h1.2v1.2h-1.2zM38.7 121.9h1.2v1.2h-1.2zM45.4 120.6h1.2v1.2h-1.2zM50.3 141.0h1.2v1.2h-1.2zM59.8 114.1h1.2v1.2h-1.2zM44.7 120.9h1.2v1.2h-1.2zM45.4 126.9h1.2v1.2h-1.2zM56.3 129.8h1.2v1.2h-1.2zM69.6 130.4h1.2v1.2h-1.2zM59.2 125.2h1.2v1.2h-1.2zM61.3 125.9h1.2v1.2h-1.2zM53.1 117.1h1.2v1.2h-1.2zM90.0 142.1h1.2v1.2h-1.2zM86.3 141.5h1.2v1.2h-1.2zM96.3 121.7h1.2v1.2h-1.2zM96.2 122.0h1.2v1.2h-1.2zM89.9 129.9h1.2v1.2h-1.2zM83.5 132.2h1.2v1.2h-1.2zM89.4 119.2h1.2v1.2h-1.2zM93.3 123.1h1.2v1.2h-1.2zM91.3 126.8h1.2v1.2h-1.2zM88.3 144.1h1.2v1.2h-1.2zM104.9 125.4h1.2v1.2h-1.2zM90.3 115.9h1.2v1.2h-1.2zM83.8 133.3h1.2v1.2h-1.2zM94.8 121.2h1.2v1.2h-1.2zM85.8 134.4h1.2v1.2h-1.2zM99.9 127.6h1.2v1.2h-1.2zM95.7 135.0h1.2v1.2h-1.2zM93.8 118.3h1.2v1.2h-1.2zM100.5 128.9h1.2v1.2h-1.2zM79.8 129.6h1.2v1.2h-1.2zM84.7 127.5h1.2v1.2h-1.2zM89.7 116.7h1.2v1.2h-1.2zM101.4 137.4h1.2v1.2h-1.2zM95.0 122.4h1.2v1.2h-1.2zM86.7 129.9h1.2v1.2h-1.2zM78.6 129.4h1.2v1.2h-1.2zM81.6 139.1h1.2v1.2h-1.2zM94.8 120.5h1.2v1.2h-1.2z" fill="#32d246"/>
<path d="M87.2 90.3h1.2v1.2h-1.2zM86.5 101.2h1.2v1.2h-1.2zM85.1 97.3h1.2v1.2h-1.2zM91.7 99.8h1.2v1.2h-1.2zM86.7 86.9h1.2v1.2h-1.2zM88.3 91.7h1.2v1.2h-1.2zM87.9 97.8h1.2v1.2h-1.2zM81.8 105.5h1.2v1.2h-1.2zM49.3 101.0h1.2v1.2h-1.2zM49.0 91.3h1.2v1.2h-1.2zM52.9 99.3h1.2v1.2h-1.2zM44.7 105.0h1.2v1.2h-1.2zM52.7 96.8h1.2v1.2h-1.2zM61.5 101.8h1.2v1.2h-1.2zM58.1 102.5h1.2v1.2h-1.2zM64.8 106.8h1.2v1.2h-1.2zM54.0 96.6h1.2v1.2h-1.2zM67.1 102.6h1.2v1.2h-1.2zM41.7 125.6h1.2v1.2h-1.2zM43.7 132.2h1.2v1.2h-1.2zM54.3 131.2h1.2v1.2h-1.2zM46.4 127.9h1.2v1.2h-1.2zM55.5 120.9h1.2v1.2h-1.2zM41.0 138.8h1.2v1.2h-1.2zM39.7 114.3h1.2v1.2h-1.2zM54.5 130.0h1.2v1.2h-1.2zM61.5 123.1h1.2v1.2h-1.2zM41.6 129.5h1.2v1.2h-1.2zM46.2 128.3h1.2v1.2h-1.2zM49.5 126.3h1.2v1.2h-1.2zM51.1 141.2h1.2v1.2h-1.2zM49.7 114.4h1.2v1.2h-1.2zM50.4 132.0h1.2v1.2h-1.2zM54.7 137.4h1.2v1.2h-1.2zM56.3 133.7h1.2v1.2h-1.2zM58.9 124.9h1.2v1.2h-1.2zM38.7 137.0h1.2v1.2h-1.2zM63.7 119.0h1.2v1.2h-1.2zM68.5 118.4h1.2v1.2h-1.2zM40.3 134.9h1.2v1.2h-1.2zM39.9 130.6h1.2v1.2h-1.2zM55.2 120.9h1.2v1.2h-1.2zM51.1 128.8h1.2v1.2h-1.2zM45.2 131.9h1.2v1.2h-1.2zM44.6 123.2h1.2v1.2h-1.2zM63.4 129.2h1.2v1.2h-1.2zM52.8 125.3h1.2v1.2h-1.2zM85.7 119.8h1.2v1.2h-1.2zM94.4 117.4h1.2v1.2h-1.2zM98.9 142.1h1.2v1.2h-1.2zM98.3 129.4h1.2v1.2h-1.2zM93.6 130.9h1.2v1.2h-1.2zM92.6 124.9h1.2v1.2h-1.2zM91.9 113.0h1.2v1.2h-1.2zM94.5 115.4h1.2v1.2h-1.2zM89.1 125.9h1.2v1.2h-1.2zM84.9 129.5h1.2v1.2h-1.2z" fill="#328296"/>
<path d="M89.4 88.7h1.2v1.2h-1.2zM95.7 90.0h1.2v1.2h-1.2zM81.6 94.8h1.2v1.2h-1.2zM85.1 98.2h1.2v1.2h-1.2zM88.5 101.0h1.2v1.2h-1.2zM95.5 92.9h1.2v1.2h-1.2zM95.1 99.6h1.2v1.2h-1.2zM86.6 111.2h1.2v1.2h-1.2zM86.9 105.1h1.2v1.2h-1.2zM86.7 88.4h1.2v1.2h-1.2zM92.9 102.0h1.2v1.2h-1.2zM46.1 105.0h1.2v1.2h-1.2zM57.5 105.0h1.2v1.2h-1.2zM49.2 102.5h1.2v1.2h-1.2zM56.8 102.2h1.2v1.2h-1.2zM71.8 93.0h1.2v1.2h-1.2zM54.2 102.2h1.2v1.2h-1.2zM67.9 110.6h1.2v1.2h-1.2zM54.8 100.1h1.2v1.2h-1.2zM50.4 90.7h1.2v1.2h-1.2zM55.9 95.0h1.2v1.2h-1.2zM52.3 100.3h1.2v1.2h-1.2zM61.2 98.8h1.2v1.2h-1.2zM67.0 96.4h1.2v1.2h-1.2zM38.7 99.8h1.2v1.2h-1.2zM41.7 100.2h1.2v1.2h-1.2zM50.4 124.2h1.2v1.2h-1.2zM50.2 128.3h1.2v1.2h-1.2zM49.5 119.9h1.2v1.2h-1.2zM60.1 120.5h1.2v1.2h-1.2zM36.5 133.2h1.2v1.2h-1.2zM52.2 114.8h1.2v1.2h-1.2zM40.6 143.2h1.2v1.2h-1.2zM44.4 134.7h1.2v1.2h-1.2zM66.6 120.7h1.2v1.2h-1.2zM44.1 125.1h1.2v1.2h-1.2zM41.4 133.2h1.2v1.2h-1.2zM54.2 123.4h1.2v1.2h-1.2zM54.9 124.7h1.2v1.2h-1.2zM56.6 141.8h1.2v1.2h-1.2zM50.2 120.9h1.2v1.2h-1.2zM51.2 121.3h1.2v1.2h-1.2zM40.3 138.8h1.2v1.2h-1.2zM51.9 114.3h1.2v1.2h-1.2zM59.2 124.3h1.2v1.2h-1.2zM59.0 117.9h1.2v1.2h-1.2zM51.7 120.8h1.2v1.2h-1.2zM62.9 121.0h1.2v1.2h-1.2zM38.3 113.6h1.2v1.2h-1.2zM45.4 129.0h1.2v1.2h-1.2zM51.7 127.4h1.2v1.2h-1.2zM33.1 134.7h1.2v1.2h-1.2zM41.1 121.4h1.2v1.2h-1.2zM54.2 142.0h1.2v1.2h-1.2zM36.7 129.5h1.2v1.2h-1.2zM40.2 120.1h1.2v1.2h-1.2zM43.7 123.6h1.2v1.2h-1.2zM86.3 131.7h1.2v1.2h-1.2zM81.8 131.3h1.2v1.2h-1.2zM85.7 123.9h1.2v1.2h-1.2zM80.5 125.6h1.2v1.2h-1.2zM97.4 146.1h1.2v1.2h-1.2zM87.2 113.1h1.2v1.2h-1.2zM98.5 128.5h1.2v1.2h-1.2zM87.6 117.9h1.2v1.2h-1.2zM81.1 140.8h1.2v1.2h-1.2zM93.1 134.3h1.2v1.2h-1.2zM92.0 134.6h1.2v1.2h-1.2z" fill="#32be5a"/>
<path d="M101.1 104.3h1.2v1.2h-1.2zM102.4 96.0h1.2v1.2h-1.2zM100.1 101.2h1.2v1.2h-1.2zM97.2 87.3h1.2v1.2h-1.2zM87.8 97.0h1.2v1.2h-1.2zM81.8 103.1h1.2v1.2h-1.2zM99.9 102.2h1.2v1.2h-1.2zM86.3 98.9h1.2v1.2h-1.2zM85.2 96.1h1.2v1.2h-1.2zM92.6 95.7h1.2v1.2h-1.2zM90.7 103.0h1.2v1.2h-1.2zM82.4 85.4h1.2v1.2h-1.2zM83.5 83.8h1.2v1.2h-1.2zM89.1 97.1h1.2v1.2h-1.2zM81.6 110.4h1.2v1.2h-1.2zM89.5 93.4h1.2v1.2h-1.2zM93.2 100.4h1.2v1.2h-1.2zM93.9 91.6h1.2v1.2h-1.2zM105.9 99.0h1.2v1.2h-1.2zM100.8 103.8h1.2v1.2h-1.2zM83.3 95.7h1.2v1.2h-1.2zM89.8 99.8h1.2v1.2h-1.2zM82.9 101.3h1.2v1.2h-1.2zM51.6 102.5h1.2v1.2h-1.2zM45.9 103.4h1.2v1.2h-1.2zM49.8 95.8h1.2v1.2h-1.2zM57.2 101.6h1.2v1.2h-1.2zM50.3 94.6h1.2v1.2h-1.2zM66.9 102.5h1.2v1.2h-1.2zM64.5 99.8h1.2v1.2h-1.2zM62.9 105.9h1.2v1.2h-1.2zM59.9 102.7h1.2v1.2h-1.2zM64.2 102.1h1.2v1.2h-1.2zM48.5 107.2h1.2v1.2h-1.2zM72.8 99.3h1.2v1.2h-1.2zM60.0 110.7h1.2v1.2h-1.2zM70.7 104.2h1.2v1.2h-1.2zM64.1 102.9h1.2v1.2h-1.2zM55.6 111.5h1.2v1.2h-1.2zM63.7 101.0h1.2v1.2h-1.2zM53.9 100.0h1.2v1.2h-1.2zM62.3 102.1h1.2v1.2h-1.2zM47.3 102.3h1.2v1.2h-1.2zM60.7 123.5h1.2v1.2h-1.2zM45.2 132.4h1.2v1.2h-1.2zM53.4 124.5h1.2v1.2h-1.2zM56.0 129.2h1.2v1.2h-1.2zM61.2 128.3h1.2v1.2h-1.2zM36.9 118.4h1.2v1.2h-1.2zM57.2 120.9h1.2v1.2h-1.2zM59.6 126.4h1.2v1.2h-1.2zM72.1 114.0h1.2v1.2h-1.2zM47.6 135.1h1.2v1.2h-1.2zM46.3 115.6h1.2v1.2h-1.2zM48.5 120.6h1.2v1.2h-1.2zM52.7 124.1h1.2v1.2h-1.2zM41.9 125.2h1.2v1.2h-1.2zM64.9 130.5h1.2v1.2h-1.2zM46.8 135.5h1.2v1.2h-1.2zM42.7 129.1h1.2v1.2h-1.2zM43.6 119.0h1.2v1.2h-1.2zM43.0 126.4h1.2v1.2h-1.2zM59.5 114.8h1.2v1.2h-1.2zM57.7 122.3h1.2v1.2h-1.2zM50.6 131.1h1.2v1.2h-1.2zM45.0 119.1h1.2v1.2h-1.2zM42.9 128.2h1.2v1.2h-1.2zM60.1 138.8h1.2v1.2h-1.2zM54.0 119.1h1.2v1.2h-1.2zM53.5 126.4h1.2v1.2h-1.2zM51.2 122.9h1.2v1.2h-1.2zM67.1 117.2h1.2v1.2h-1.2zM43.5 118.8h1.2v1.2h-1.2zM43.8 129.8h1.2v1.2h-1.2zM46.3 114.3h1.2v1.2h-1.2zM51.2 119.7h1.2v1.2h-1.2zM51.6 127.3h1.2v1.2h-1.2zM43.5 127.4h1.2v1.2h-1.2zM59.7 126.1h1.2v1.2h-1.2zM46.8 120.9h1.2v1.2h-1.2zM38.7 120.4h1.2v1.2h-1.2zM47.7 116.0h1.2v1.2h-1.2zM42.9 127.3h1.2v1.2h-1.2zM43.0 123.1h1.2v1.2h-1.2zM58.8 137.9h1.2v1.2h-1.2zM54.5 119.1h1.2v1.2h-1.2zM41.1 131.5h1.2v1.2h-1.2zM39.1 127.7h1.2v1.2h-1.2zM51.8 137.5h1.2v1.2h-1.2zM45.3 113.2h1.2v1.2h-1.2zM62.2 123.6h1.2v1.2h-1.2zM49.0 135.6h1.2v1.2h-1.2zM55.9 119.9h1.2v1.2h-1.2zM44.5 118.7h1.2v1.2h-1.2zM46.0 121.4h1.2v1.2h-1.2zM35.1 127.6h1.2v1.2h-1.2zM46.8 136.4h1.2v1.2h-1.2zM51.3 131.3h1.2v1.2h-1.2zM61.6 119.7h1.2v1.2h-1.2zM55.5 123.5h1.2v1.2h-1.2zM62.0 122.1h1.2v1.2h-1.2zM94.8 126.7h1.2v1.2h-1.2zM91.0 114.7h1.2v1.2h-1.2zM92.0 131.2h1.2v1.2h-1.2zM84.1 132.9h1.2v1.2h-1.2zM89.7 125.8h1.2v1.2h-1.2zM93.1 123.2h1.2v1.2h-1.2zM85.1 138.2h1.2v1.2h-1.2zM93.4 130.2h1.2v1.2h-1.2zM87.8 130.9h1.2v1.2h-1.2zM92.6 127.5h1.2v1.2h-1.2zM99.0 119.6h1.2v1.2h-1.2zM96.5 132.9h1.2v1.2h-1.2zM90.5 117.5h1.2v1.2h-1.2zM94.8 126.7h1.2v1.2h-1.2zM98.1 114.3h1.2v1.2h-1.2zM90.4 136.7h1.2v1.2h-1.2zM90.3 123.4h1.2v1.2h-1.2zM85.6 120.4h1.2v1.2h-1.2zM83.3 114.5h1.2v1.2h-1.2zM91.0 136.6h1.2v1.2h-1.2zM84.7 135.4h1.2v1.2h-1.2z" fill="#46fa32"/>
<path d="M91.5 95.2h1.2v1.2h-1.2zM84.1 90.4h1.2v1.2h-1.2zM95.0 100.4h1.2v1.2h-1.2zM99.2 90.4h1.2v1.2h-1.2zM85.4 105.3h1.2v1.2h-1.2zM105.5 94.2h1.2v1.2h-1.2zM94.7 93.9h1.2v1.2h-1.2zM100.6 104.1h1.2v1.2h-1.2zM85.9 91.7h1.2v1.2h-1.2zM79.5 87.1h1.2v1.2h-1.2zM71.1 100.9h1.2v1.2h-1.2zM67.1 112.1h1.2v1.2h-1.2zM51.4 98.5h1.2v1.2h-1.2zM60.1 100.4h1.2v1.2h-1.2zM49.4 110.3h1.2v1.2h-1.2zM59.8 92.6h1.2v1.2h-1.2zM74.1 102.1h1.2v1.2h-1.2zM53.3 100.8h1.2v1.2h-1.2zM53.3 90.3h1.2v1.2h-1.2zM56.5 109.3h1.2v1.2h-1.2zM76.5 95.9h1.2v1.2h-1.2zM53.6 98.9h1.2v1.2h-1.2zM61.1 110.5h1.2v1.2h-1.2zM75.8 107.8h1.2v1.2h-1.2zM58.8 98.0h1.2v1.2h-1.2zM58.3 100.7h1.2v1.2h-1.2zM60.7 100.3h1.2v1.2h-1.2zM54.4 106.5h1.2v1.2h-1.2zM56.7 103.2h1.2v1.2h-1.2zM40.3 131.9h1.2v1.2h-1.2zM57.7 118.7h1.2v1.2h-1.2zM48.7 115.9h1.2v1.2h-1.2zM76.7 115.8h1.2v1.2h-1.2zM53.9 124.0h1.2v1.2h-1.2zM42.5 124.3h1.2v1.2h-1.2zM56.0 134.4h1.2v1.2h-1.2zM51.0 125.8h1.2v1.2h-1.2zM66.2 137.9h1.2v1.2h-1.2zM54.9 131.4h1.2v1.2h-1.2zM47.0 132.1h1.2v1.2h-1.2zM58.2 128.0h1.2v1.2h-1.2zM61.5 126.1h1.2v1.2h-1.2zM54.5 125.1h1.2v1.2h-1.2zM52.3 118.9h1.2v1.2h-1.2zM50.9 119.6h1.2v1.2h-1.2zM40.6 120.6h1.2v1.2h-1.2zM48.1 129.7h1.2v1.2h-1.2zM41.1 126.5h1.2v1.2h-1.2zM45.7 122.4h1.2v1.2h-1.2zM51.1 115.6h1.2v1.2h-1.2zM61.1 120.9h1.2v1.2h-1.2zM48.6 142.8h1.2v1.2h-1.2zM55.3 122.2h1.2v1.2h-1.2zM43.5 124.0h1.2v1.2h-1.2zM48.2 132.4h1.2v1.2h-1.2zM52.0 121.0h1.2v1.2h-1.2zM47.2 131.9h1.2v1.2h-1.2zM56.1 116.7h1.2v1.2h-1.2zM52.9 122.5h1.2v1.2h-1.2zM50.8 120.8h1.2v1.2h-1.2zM51.9 115.1h1.2v1.2h-1.2zM48.6 121.6h1.2v1.2h-1.2zM59.7 127.9h1.2v1.2h-1.2zM56.7 119.7h1.2v1.2h-1.2zM59.6 124.3h1.2v1.2h-1.2zM43.6 124.8h1.2v1.2h-1.2zM63.5 123.7h1.2v1.2h-1.2zM57.9 120.8h1.2v1.2h-1.2zM44.0 121.7h1.2v1.2h-1.2zM60.2 129.7h1.2v1.2h-1.2zM38.3 126.4h1.2v1.2h-1.2zM55.3 117.7h1.2v1.2h-1.2zM56.1 125.1h1.2v1.2h-1.2zM50.0 136.1h1.2v1.2h-1.2zM46.4 121.3h1.2v1.2h-1.2zM89.9 132.4h1.2v1.2h-1.2zM78.4 115.7h1.2v1.2h-1.2zM83.7 142.1h1.2v1.2h-1.2zM91.3 51.8h1.2v1.2h-1.2z" fill="#6efa32"/>
<path d="M82.1 106.0h1.2v1.2h-1.2zM92.9 101.3h1.2v1.2h-1.2zM86.8 101.4h1.2v1.2h-1.2zM84.2 106.8h1.2v1.2h-1.2zM81.6 88.5h1.2v1.2h-1.2zM82.1 95.5h1.2v1.2h-1.2zM94.2 94.2h1.2v1.2h-1.2zM85.0 104.0h1.2v1.2h-1.2zM102.1 108.7h1.2v1.2h-1.2zM88.8 105.8h1.2v1.2h-1.2zM85.4 102.0h1.2v1.2h-1.2zM99.5 107.7h1.2v1.2h-1.2zM94.2 100.5h1.2v1.2h-1.2zM84.4 89.4h1.2v1.2h-1.2zM48.4 89.8h1.2v1.2h-1.2zM52.3 107.7h1.2v1.2h-1.2zM34.9 102.0h1.2v1.2h-1.2zM51.4 104.6h1.2v1.2h-1.2zM69.8 93.3h1.2v1.2h-1.2zM54.9 102.9h1.2v1.2h-1.2zM42.7 109.2h1.2v1.2h-1.2zM55.4 101.1h1.2v1.2h-1.2zM64.6 108.2h1.2v1.2h-1.2zM74.5 101.9h1.2v1.2h-1.2zM47.6 101.4h1.2v1.2h-1.2zM61.8 97.8h1.2v1.2h-1.2zM46.6 100.3h1.2v1.2h-1.2zM52.8 111.7h1.2v1.2h-1.2zM55.3 126.5h1.2v1.2h-1.2zM52.3 124.7h1.2v1.2h-1.2zM39.5 125.5h1.2v1.2h-1.2zM51.2 120.9h1.2v1.2h-1.2zM49.4 132.5h1.2v1.2h-1.2zM49.3 115.8h1.2v1.2h-1.2zM40.7 119.6h1.2v1.2h-1.2zM65.0 126.7h1.2v1.2h-1.2zM58.2 123.5h1.2v1.2h-1.2zM51.3 120.0h1.2v1.2h-1.2zM54.4 124.3h1.2v1.2h-1.2zM51.2 142.2h1.2v1.2h-1.2zM40.3 129.8h1.2v1.2h-1.2zM58.6 114.7h1.2v1.2h-1.2zM43.3 115.1h1.2v1.2h-1.2zM51.3 120.3h1.2v1.2h-1.2zM53.4 136.5h1.2v1.2h-1.2zM42.5 131.8h1.2v1.2h-1.2zM52.0 122.0h1.2v1.2h-1.2zM58.8 126.5h1.2v1.2h-1.2zM55.9 115.9h1.2v1.2h-1.2zM35.7 125.0h1.2v1.2h-1.2zM60.5 138.8h1.2v1.2h-1.2zM37.9 123.4h1.2v1.2h-1.2zM42.0 124.7h1.2v1.2h-1.2zM53.1 124.2h1.2v1.2h-1.2zM48.7 127.8h1.2v1.2h-1.2zM65.5 126.1h1.2v1.2h-1.2zM35.6 127.8h1.2v1.2h-1.2zM51.4 116.9h1.2v1.2h-1.2zM52.9 125.5h1.2v1.2h-1.2zM42.0 113.1h1.2v1.2h-1.2zM53.8 124.3h1.2v1.2h-1.2zM73.1 135.0h1.2v1.2h-1.2zM91.7 136.3h1.2v1.2h-1.2zM88.9 129.1h1.2v1.2h-1.2zM84.9 144.6h1.2v1.2h-1.2zM85.7 130.1h1.2v1.2h-1.2zM89.2 121.4h1.2v1.2h-1.2zM94.1 126.3h1.2v1.2h-1.2zM83.3 127.6h1.2v1.2h-1.2zM92.7 137.7h1.2v1.2h-1.2zM79.5 131.9h1.2v1.2h-1.2zM77.8 132.7h1.2v1.2h-1.2zM85.5 132.9h1.2v1.2h-1.2zM90.5 135.9h1.2v1.2h-1.2zM84.3 120.6h1.2v1.2h-1.2zM87.7 125.2h1.2v1.2h-1.2zM90.6 129.4h1.2v1.2h-1.2zM100.9 126.4h1.2v1.2h-1.2zM96.1 125.0h1.2v1.2h-1.2zM89.6 125.4h1.2v1.2h-1.2zM92.2 138.2h1.2v1.2h-1.2zM102.6 128.1h1.2v1.2h-1.2zM86.4 127.7h1.2v1.2h-1.2z" fill="#46e646"/>
<path d="M90.9 107.0h1.2v1.2h-1.2zM79.1 104.1h1.2v1.2h-1.2zM96.1 95.2h1.2v1.2h-1.2zM86.2 85.1h1.2v1.2h-1.2zM100.6 91.5h1.2v1.2h-1.2zM82.9 92.9h1.2v1.2h-1.2zM94.2 88.7h1.2v1.2h-1.2zM87.2 106.7h1.2v1.2h-1.2zM80.8 97.8h1.2v1.2h-1.2zM86.1 106.1h1.2v1.2h-1.2zM104.3 100.6h1.2v1.2h-1.2zM96.2 97.4h1.2v1.2h-1.2zM53.0 94.8h1.2v1.2h-1.2zM39.4 87.1h1.2v1.2h-1.2zM62.6 97.1h1.2v1.2h-1.2zM69.1 108.6h1.2v1.2h-1.2zM52.2 102.7h1.2v1.2h-1.2zM58.4 100.8h1.2v1.2h-1.2zM70.1 92.6h1.2v1.2h-1.2zM63.9 108.9h1.2v1.2h-1.2zM54.4 104.6h1.2v1.2h-1.2zM69.0 102.8h1.2v1.2h-1.2zM67.4 100.8h1.2v1.2h-1.2zM64.8 104.3h1.2v1.2h-1.2zM70.2 99.9h1.2v1.2h-1.2zM41.0 117.6h1.2v1.2h-1.2zM59.8 125.6h1.2v1.2h-1.2zM51.2 117.5h1.2v1.2h-1.2zM48.8 117.9h1.2v1.2h-1.2zM56.3 114.6h1.2v1.2h-1.2zM48.6 131.0h1.2v1.2h-1.2zM56.3 129.0h1.2v1.2h-1.2zM67.6 122.4h1.2v1.2h-1.2zM49.5 112.7h1.2v1.2h-1.2zM53.1 131.6h1.2v1.2h-1.2zM54.8 113.5h1.2v1.2h-1.2zM50.7 118.0h1.2v1.2h-1.2zM56.3 133.6h1.2v1.2h-1.2zM47.8 129.5h1.2v1.2h-1.2zM65.2 120.6h1.2v1.2h-1.2zM59.9 121.9h1.2v1.2h-1.2zM41.5 128.9h1.2v1.2h-1.2zM45.2 118.0h1.2v1.2h-1.2zM56.1 126.2h1.2v1.2h-1.2zM37.2 122.7h1.2v1.2h-1.2zM70.8 126.6h1.2v1.2h-1.2zM60.0 123.5h1.2v1.2h-1.2zM47.8 118.0h1.2v1.2h-1.2zM34.1 133.5h1.2v1.2h-1.2zM53.8 130.9h1.2v1.2h-1.2zM46.1 126.0h1.2v1.2h-1.2zM53.0 117.3h1.2v1.2h-1.2zM52.4 125.8h1.2v1.2h-1.2zM90.7 131.2h1.2v1.2h-1.2zM99.5 117.2h1.2v1.2h-1.2zM93.3 145.7h1.2v1.2h-1.2zM86.3 131.4h1.2v1.2h-1.2zM80.7 133.0h1.2v1.2h-1.2zM93.3 121.6h1.2v1.2h-1.2zM81.9 144.7h1.2v1.2h-1.2zM95.0 133.9h1.2v1.2h-1.2zM93.1 125.4h1.2v1.2h-1.2zM96.3 137.1h1.2v1.2h-1.2z" fill="#32aa6e"/>
<path d="M83.5 92.0h1.2v1.2h-1.2zM46.0 134.1h1.2v1.2h-1.2zM66.2 116.3h1.2v1.2h-1.2zM88.4 121.5h1.2v1.2h-1.2z" fill="#32aa82"/>
<path d="M79.1 95.8h1.2v1.2h-1.2zM90.9 101.9h1.2v1.2h-1.2zM86.1 94.6h1.2v1.2h-1.2zM100.7 100.0h1.2v1.2h-1.2zM60.4 92.4h1.2v1.2h-1.2zM69.4 104.9h1.2v1.2h-1.2zM44.3 122.8h1.2v1.2h-1.2zM61.6 138.8h1.2v1.2h-1.2zM67.2 130.9h1.2v1.2h-1.2zM49.7 127.5h1.2v1.2h-1.2zM91.8 135.2h1.2v1.2h-1.2zM88.4 139.4h1.2v1.2h-1.2zM87.1 125.5h1.2v1.2h-1.2z" fill="#32e646"/>
<path d="M89.2 98.5h1.2v1.2h-1.2zM69.6 94.7h1.2v1.2h-1.2zM61.5 121.8h1.2v1.2h-1.2z" fill="#32d25a"/>
<path d="M96.5 99.0h1.2v1.2h-1.2zM35.4 99.0h1.2v1.2h-1.2zM63.0 140.8h1.2v1.2h-1.2zM48.9 120.2h1.2v1.2h-1.2zM52.9 120.0h1.2v1.2h-1.2zM55.3 126.5h1.2v1.2h-1.2zM47.0 122.2h1.2v1.2h-1.2zM42.2 131.6h1.2v1.2h-1.2zM42.4 117.8h1.2v1.2h-1.2zM61.7 130.0h1.2v1.2h-1.2zM35.5 136.5h1.2v1.2h-1.2zM37.2 115.6h1.2v1.2h-1.2zM94.2 137.7h1.2v1.2h-1.2zM91.1 141.1h1.2v1.2h-1.2zM98.6 116.9h1.2v1.2h-1.2zM87.8 125.6h1.2v1.2h-1.2zM81.1 123.0h1.2v1.2h-1.2zM96.3 131.3h1.2v1.2h-1.2z" fill="#3282aa"/>
<path d="M42.2 94.2h1.2v1.2h-1.2zM54.9 95.6h1.2v1.2h-1.2zM48.8 98.3h1.2v1.2h-1.2zM60.0 91.0h1.2v1.2h-1.2zM58.8 105.6h1.2v1.2h-1.2zM45.4 104.8h1.2v1.2h-1.2zM49.3 99.8h1.2v1.2h-1.2zM74.5 104.9h1.2v1.2h-1.2zM75.3 101.8h1.2v1.2h-1.2zM49.2 108.0h1.2v1.2h-1.2zM73.0 97.5h1.2v1.2h-1.2zM60.9 107.9h1.2v1.2h-1.2zM41.3 102.9h1.2v1.2h-1.2zM56.3 94.4h1.2v1.2h-1.2zM46.3 119.8h1.2v1.2h-1.2zM48.8 127.3h1.2v1.2h-1.2zM58.6 125.0h1.2v1.2h-1.2zM50.6 128.9h1.2v1.2h-1.2zM45.5 124.0h1.2v1.2h-1.2zM43.8 123.8h1.2v1.2h-1.2zM49.4 117.6h1.2v1.2h-1.2zM52.8 122.2h1.2v1.2h-1.2zM39.3 119.8h1.2v1.2h-1.2zM63.4 137.5h1.2v1.2h-1.2zM46.5 122.0h1.2v1.2h-1.2zM33.9 122.8h1.2v1.2h-1.2zM46.8 125.8h1.2v1.2h-1.2zM64.0 117.0h1.2v1.2h-1.2zM67.8 117.1h1.2v1.2h-1.2zM51.5 121.0h1.2v1.2h-1.2zM43.7 112.8h1.2v1.2h-1.2zM67.5 121.7h1.2v1.2h-1.2zM53.8 138.1h1.2v1.2h-1.2zM50.0 124.7h1.2v1.2h-1.2zM47.0 123.7h1.2v1.2h-1.2zM35.4 118.6h1.2v1.2h-1.2zM53.1 118.0h1.2v1.2h-1.2zM46.1 120.0h1.2v1.2h-1.2zM55.4 116.4h1.2v1.2h-1.2zM53.8 115.3h1.2v1.2h-1.2zM57.6 115.0h1.2v1.2h-1.2zM61.5 117.0h1.2v1.2h-1.2z" fill="#fabe32"/>
<path d="M64.7 107.2h1.2v1.2h-1.2zM47.8 107.3h1.2v1.2h-1.2zM64.5 89.7h1.2v1.2h-1.2zM51.7 92.5h1.2v1.2h-1.2zM63.9 106.6h1.2v1.2h-1.2zM47.6 101.4h1.2v1.2h-1.2zM59.1 95.2h1.2v1.2h-1.2zM52.6 103.4h1.2v1.2h-1.2zM57.8 103.3h1.2v1.2h-1.2zM65.8 107.0h1.2v1.2h-1.2zM58.4 101.7h1.2v1.2h-1.2zM68.2 112.9h1.2v1.2h-1.2zM39.2 130.8h1.2v1.2h-1.2zM56.8 117.3h1.2v1.2h-1.2zM65.6 122.6h1.2v1.2h-1.2zM58.6 116.8h1.2v1.2h-1.2zM47.0 134.9h1.2v1.2h-1.2zM68.7 122.7h1.2v1.2h-1.2zM67.7 124.4h1.2v1.2h-1.2zM36.9 123.2h1.2v1.2h-1.2zM52.1 121.0h1.2v1.2h-1.2zM48.5 127.4h1.2v1.2h-1.2zM68.2 115.1h1.2v1.2h-1.2zM65.6 124.9h1.2v1.2h-1.2zM43.8 119.9h1.2v1.2h-1.2zM61.3 128.5h1.2v1.2h-1.2zM48.4 130.8h1.2v1.2h-1.2zM66.1 124.2h1.2v1.2h-1.2zM47.2 117.7h1.2v1.2h-1.2zM39.4 125.1h1.2v1.2h-1.2zM39.9 126.7h1.2v1.2h-1.2zM40.7 125.9h1.2v1.2h-1.2zM34.2 128.1h1.2v1.2h-1.2zM46.7 118.2h1.2v1.2h-1.2zM66.7 127.7h1.2v1.2h-1.2zM54.6 123.5h1.2v1.2h-1.2zM55.6 126.2h1.2v1.2h-1.2zM46.5 122.6h1.2v1.2h-1.2zM55.5 115.6h1.2v1.2h-1.2zM56.5 124.1h1.2v1.2h-1.2z" fill="#fae632"/>
<path d="M68.9 95.0h1.2v1.2h-1.2zM66.7 103.6h1.2v1.2h-1.2zM69.4 122.9h1.2v1.2h-1.2zM46.5 122.5h1.2v1.2h-1.2zM46.4 124.1h1.2v1.2h-1.2zM59.2 131.4h1.2v1.2h-1.2zM51.3 121.2h1.2v1.2h-1.2z" fill="#fa9632"/>
<path d="M48.3 108.4h1.2v1.2h-1.2zM45.7 98.1h1.2v1.2h-1.2zM39.2 95.7h1.2v1.2h-1.2zM56.8 94.6h1.2v1.2h-1.2zM54.1 142.5h1.2v1.2h-1.2zM35.8 132.3h1.2v1.2h-1.2zM49.3 123.2h1.2v1.2h-1.2zM44.3 119.7h1.2v1.2h-1.2zM70.9 115.7h1.2v1.2h-1.2zM45.0 128.1h1.2v1.2h-1.2zM57.0 133.2h1.2v1.2h-1.2zM52.7 129.2h1.2v1.2h-1.2zM61.5 120.3h1.2v1.2h-1.2zM33.3 130.5h1.2v1.2h-1.2zM56.4 115.0h1.2v1.2h-1.2zM52.7 125.9h1.2v1.2h-1.2zM55.1 118.4h1.2v1.2h-1.2z" fill="#faaa32"/>
<path d="M44.3 112.2h1.2v1.2h-1.2zM56.6 97.3h1.2v1.2h-1.2zM34.3 115.9h1.2v1.2h-1.2zM51.0 127.1h1.2v1.2h-1.2zM51.0 121.5h1.2v1.2h-1.2zM51.2 120.1h1.2v1.2h-1.2zM54.9 115.2h1.2v1.2h-1.2zM74.4 121.2h1.2v1.2h-1.2zM44.7 118.4h1.2v1.2h-1.2zM54.3 135.1h1.2v1.2h-1.2zM67.9 124.8h1.2v1.2h-1.2zM35.7 118.9h1.2v1.2h-1.2zM59.3 127.8h1.2v1.2h-1.2zM53.5 138.1h1.2v1.2h-1.2zM76.5 115.9h1.2v1.2h-1.2zM58.8 113.6h1.2v1.2h-1.2zM55.2 115.9h1.2v1.2h-1.2zM51.2 118.2h1.2v1.2h-1.2zM52.9 121.5h1.2v1.2h-1.2zM79.6 123.7h1.2v1.2h-1.2zM92.9 134.1h1.2v1.2h-1.2zM86.3 113.7h1.2v1.2h-1.2zM99.2 116.7h1.2v1.2h-1.2zM99.1 124.1h1.2v1.2h-1.2zM96.2 124.9h1.2v1.2h-1.2zM94.6 132.1h1.2v1.2h-1.2zM84.1 116.0h1.2v1.2h-1.2zM90.9 130.2h1.2v1.2h-1.2zM82.5 129.9h1.2v1.2h-1.2zM85.3 123.3h1.2v1.2h-1.2zM97.1 116.8h1.2v1.2h-1.2z" fill="#326eaa"/>
<path d="M60.8 108.3h1.2v1.2h-1.2zM50.2 91.0h1.2v1.2h-1.2zM50.1 104.1h1.2v1.2h-1.2zM61.1 94.7h1.2v1.2h-1.2zM44.9 104.0h1.2v1.2h-1.2zM66.7 99.3h1.2v1.2h-1.2zM46.4 115.5h1.2v1.2h-1.2zM44.5 121.0h1.2v1.2h-1.2zM62.2 120.1h1.2v1.2h-1.2zM41.5 114.8h1.2v1.2h-1.2zM45.6 119.9h1.2v1.2h-1.2zM50.0 122.2h1.2v1.2h-1.2zM55.6 120.8h1.2v1.2h-1.2zM60.5 125.6h1.2v1.2h-1.2zM53.5 121.1h1.2v1.2h-1.2zM41.1 127.7h1.2v1.2h-1.2zM49.7 128.9h1.2v1.2h-1.2zM54.2 124.7h1.2v1.2h-1.2zM42.7 123.0h1.2v1.2h-1.2zM59.9 125.8h1.2v1.2h-1.2zM47.2 123.6h1.2v1.2h-1.2zM52.7 120.5h1.2v1.2h-1.2zM50.9 124.6h1.2v1.2h-1.2zM46.7 118.2h1.2v1.2h-1.2zM50.8 119.7h1.2v1.2h-1.2zM47.6 118.3h1.2v1.2h-1.2zM47.1 123.2h1.2v1.2h-1.2zM34.4 127.1h1.2v1.2h-1.2zM48.5 132.2h1.2v1.2h-1.2z" fill="#fad232"/>
<path d="M53.0 104.3h1.2v1.2h-1.2zM62.8 99.2h1.2v1.2h-1.2zM43.6 119.2h1.2v1.2h-1.2zM54.2 121.5h1.2v1.2h-1.2zM46.1 120.5h1.2v1.2h-1.2zM38.9 142.7h1.2v1.2h-1.2zM46.8 121.4h1.2v1.2h-1.2zM65.7 117.2h1.2v1.2h-1.2zM58.3 120.9h1.2v1.2h-1.2zM51.8 115.6h1.2v1.2h-1.2zM49.9 120.9h1.2v1.2h-1.2zM52.9 116.4h1.2v1.2h-1.2zM59.2 130.3h1.2v1.2h-1.2zM51.4 117.7h1.2v1.2h-1.2zM49.9 119.3h1.2v1.2h-1.2zM46.2 130.8h1.2v1.2h-1.2zM67.0 122.3h1.2v1.2h-1.2zM51.0 125.4h1.2v1.2h-1.2zM54.1 114.6h1.2v1.2h-1.2zM88.8 128.2h1.2v1.2h-1.2zM78.8 130.4h1.2v1.2h-1.2zM94.4 121.4h1.2v1.2h-1.2zM90.9 128.7h1.2v1.2h-1.2zM86.9 132.1h1.2v1.2h-1.2zM87.1 127.7h1.2v1.2h-1.2zM86.6 122.5h1.2v1.2h-1.2zM87.7 126.3h1.2v1.2h-1.2zM92.6 115.5h1.2v1.2h-1.2zM87.9 119.5h1.2v1.2h-1.2zM85.8 135.3h1.2v1.2h-1.2z" fill="#326ebe"/>
<path d="M50.4 102.5h1.2v1.2h-1.2zM47.3 111.4h1.2v1.2h-1.2zM34.1 117.5h1.2v1.2h-1.2z" fill="#fa8232"/>
<path d="M61.5 105.5h1.2v1.2h-1.2zM65.3 122.5h1.2v1.2h-1.2z" fill="#32be6e"/>
<path d="M34.5 125.5h1.2v1.2h-1.2zM45.6 116.5h1.2v1.2h-1.2zM43.2 122.7h1.2v1.2h-1.2zM97.4 132.1h1.2v1.2h-1.2zM97.7 140.1h1.2v1.2h-1.2z" fill="#325ae6"/>
<path d="M34.7 129.9h1.2v1.2h-1.2zM46.0 129.6h1.2v1.2h-1.2zM54.1 117.2h1.2v1.2h-1.2zM57.5 134.9h1.2v1.2h-1.2zM62.5 120.3h1.2v1.2h-1.2zM47.6 129.0h1.2v1.2h-1.2zM102.4 120.6h1.2v1.2h-1.2zM80.1 129.2h1.2v1.2h-1.2zM93.8 124.4h1.2v1.2h-1.2zM94.2 127.4h1.2v1.2h-1.2zM91.4 123.1h1.2v1.2h-1.2zM90.7 140.4h1.2v1.2h-1.2zM96.0 136.1h1.2v1.2h-1.2zM93.5 118.6h1.2v1.2h-1.2zM83.8 129.4h1.2v1.2h-1.2zM95.4 119.4h1.2v1.2h-1.2z" fill="#325ad2"/>
<path d="M47.4 138.6h1.2v1.2h-1.2zM90.2 144.4h1.2v1.2h-1.2z" fill="#3246fa"/>
<path d="M63.4 132.7h1.2v1.2h-1.2z" fill="#329696"/>
<path d="M86.0 129.9h1.2v1.2h-1.2z" fill="#3246e6"/>
<path d="M92.9 138.8h1.2v1.2h-1.2z" fill="#325abe"/>
<rect x="19.5" y="36.5" width="120.3" height="119.7" fill="none" stroke="#808080" stroke-width="1"/>
<line x1="76.3" y1="36.5" x2="76.3" y2="156.2" stroke="#000" stroke-width="1.8"/>
<line x1="19.5" y1="112.6" x2="139.8" y2="112.6" stroke="#000" stroke-width="1.8"/>
<text transform="translate(25.50,54.70) scale(1,1.03)" font-size="14.94">T<tspan font-size="9.99" dy="3.20">CM</tspan></text>
<text transform="translate(116.70,54.70) scale(1,1.03)" font-size="14.94">T<tspan font-size="9.99" dy="3.20">N</tspan></text>
<text transform="translate(25.50,149.70) scale(1,1.03)" font-size="14.94">T<tspan font-size="9.99" dy="3.59">EM</tspan></text>
<text transform="translate(100.10,149.70) scale(1,1.03)" font-size="14.94">T<tspan font-size="9.99" dy="3.59">EMRA</tspan></text>
<text transform="translate(11.20,84.20) rotate(-90) scale(1,1.03)" font-size="14.42">CCR7</text>
<line x1="7.9" y1="155.6" x2="7.9" y2="106.39999999999999" stroke="#000" stroke-width="1.6"/>
<path d="M4.2,107.39999999999999 L7.9,89.1 L11.600000000000001,107.39999999999999 Z" fill="#000"/>
<line x1="19.6" y1="173.8" x2="52.6" y2="173.8" stroke="#000" stroke-width="1.6"/>
<path d="M51.6,170.0 L70.2,173.8 L51.6,177.60000000000002 Z" fill="#000"/>
<text transform="translate(74.40,178.40) scale(1,1.03)" font-size="15.14">CD45RA</text>
<text transform="translate(177.40,85.00) rotate(-90) scale(1,1.03)" font-size="14.83">Count</text>
<line x1="173.7" y1="155.4" x2="173.7" y2="106.8" stroke="#000" stroke-width="1.6"/>
<path d="M170.0,107.8 L173.7,89.5 L177.39999999999998,107.8 Z" fill="#000"/>
<line x1="188.5" y1="156.6" x2="192.8" y2="156.6" stroke="#000" stroke-width="1"/>
<line x1="190.9" y1="150.9" x2="192.8" y2="150.9" stroke="#444" stroke-width="0.8"/>
<line x1="190.9" y1="145.2" x2="192.8" y2="145.2" stroke="#444" stroke-width="0.8"/>
<line x1="190.9" y1="139.6" x2="192.8" y2="139.6" stroke="#444" stroke-width="0.8"/>
<line x1="188.5" y1="133.9" x2="192.8" y2="133.9" stroke="#000" stroke-width="1"/>
<line x1="190.9" y1="128.2" x2="192.8" y2="128.2" stroke="#444" stroke-width="0.8"/>
<line x1="190.9" y1="122.6" x2="192.8" y2="122.6" stroke="#444" stroke-width="0.8"/>
<line x1="190.9" y1="116.9" x2="192.8" y2="116.9" stroke="#444" stroke-width="0.8"/>
<line x1="188.5" y1="111.2" x2="192.8" y2="111.2" stroke="#000" stroke-width="1"/>
<line x1="190.9" y1="105.5" x2="192.8" y2="105.5" stroke="#444" stroke-width="0.8"/>
<line x1="190.9" y1="99.8" x2="192.8" y2="99.8" stroke="#444" stroke-width="0.8"/>
<line x1="190.9" y1="94.2" x2="192.8" y2="94.2" stroke="#444" stroke-width="0.8"/>
<line x1="188.5" y1="88.5" x2="192.8" y2="88.5" stroke="#000" stroke-width="1"/>
<line x1="190.9" y1="82.8" x2="192.8" y2="82.8" stroke="#444" stroke-width="0.8"/>
<line x1="190.9" y1="77.2" x2="192.8" y2="77.2" stroke="#444" stroke-width="0.8"/>
<line x1="190.9" y1="71.5" x2="192.8" y2="71.5" stroke="#444" stroke-width="0.8"/>
<line x1="188.5" y1="65.8" x2="192.8" y2="65.8" stroke="#000" stroke-width="1"/>
<line x1="190.9" y1="60.1" x2="192.8" y2="60.1" stroke="#444" stroke-width="0.8"/>
<line x1="190.9" y1="54.4" x2="192.8" y2="54.4" stroke="#444" stroke-width="0.8"/>
<line x1="190.9" y1="48.8" x2="192.8" y2="48.8" stroke="#444" stroke-width="0.8"/>
<line x1="188.5" y1="43.1" x2="192.8" y2="43.1" stroke="#000" stroke-width="1"/>
<path d="M192.8,156.6 V37.4 H312.20000000000005 V156.6" fill="none" stroke="#777" stroke-width="1"/>
<path d="M209.1,156.6 L214.8,155.6 L222.4,155.6 L230.1,154.3 L235.8,150.5 L241.5,140.9 L246.3,126.6 L249.2,101.8 L252.0,82.7 L253.9,65.5 L255.3,50.6 L256.8,52.2 L258.3,53.1 L259.7,66.5 L261.6,78.9 L262.5,99.9 L265.4,120.9 L267.3,141.9 L269.2,151.4 L272.1,156.6Z" fill="#999" stroke="#000" stroke-width="0.8" stroke-linejoin="round"/>
<line x1="192.8" y1="156.6" x2="312.20000000000005" y2="156.6" stroke="#000" stroke-width="1"/>
<line x1="199.20000000000002" y1="156.6" x2="199.20000000000002" y2="159.79999999999998" stroke="#000" stroke-width="0.9"/>
<line x1="238.60000000000002" y1="156.6" x2="238.60000000000002" y2="159.79999999999998" stroke="#000" stroke-width="0.9"/>
<line x1="271.8" y1="156.6" x2="271.8" y2="159.79999999999998" stroke="#000" stroke-width="0.9"/>
<line x1="300.3" y1="156.6" x2="300.3" y2="159.79999999999998" stroke="#000" stroke-width="0.9"/>
<line x1="202.2" y1="156.6" x2="202.2" y2="158.4" stroke="#444" stroke-width="0.7"/>
<line x1="205.2" y1="156.6" x2="205.2" y2="158.4" stroke="#444" stroke-width="0.7"/>
<line x1="208.2" y1="156.6" x2="208.2" y2="158.4" stroke="#444" stroke-width="0.7"/>
<line x1="211.2" y1="156.6" x2="211.2" y2="158.4" stroke="#444" stroke-width="0.7"/>
<line x1="214.2" y1="156.6" x2="214.2" y2="158.4" stroke="#444" stroke-width="0.7"/>
<line x1="223.3" y1="156.6" x2="223.3" y2="158.4" stroke="#444" stroke-width="0.7"/>
<line x1="226.3" y1="156.6" x2="226.3" y2="158.4" stroke="#444" stroke-width="0.7"/>
<line x1="229.3" y1="156.6" x2="229.3" y2="158.4" stroke="#444" stroke-width="0.7"/>
<line x1="232.3" y1="156.6" x2="232.3" y2="158.4" stroke="#444" stroke-width="0.7"/>
<line x1="235.3" y1="156.6" x2="235.3" y2="158.4" stroke="#444" stroke-width="0.7"/>
<line x1="248.6" y1="156.6" x2="248.6" y2="158.4" stroke="#444" stroke-width="0.7"/>
<line x1="254.4" y1="156.6" x2="254.4" y2="158.4" stroke="#444" stroke-width="0.7"/>
<line x1="258.6" y1="156.6" x2="258.6" y2="158.4" stroke="#444" stroke-width="0.7"/>
<line x1="261.8" y1="156.6" x2="261.8" y2="158.4" stroke="#444" stroke-width="0.7"/>
<line x1="264.4" y1="156.6" x2="264.4" y2="158.4" stroke="#444" stroke-width="0.7"/>
<line x1="266.7" y1="156.6" x2="266.7" y2="158.4" stroke="#444" stroke-width="0.7"/>
<line x1="268.6" y1="156.6" x2="268.6" y2="158.4" stroke="#444" stroke-width="0.7"/>
<line x1="270.3" y1="156.6" x2="270.3" y2="158.4" stroke="#444" stroke-width="0.7"/>
<line x1="280.4" y1="156.6" x2="280.4" y2="158.4" stroke="#444" stroke-width="0.7"/>
<line x1="285.4" y1="156.6" x2="285.4" y2="158.4" stroke="#444" stroke-width="0.7"/>
<line x1="289.0" y1="156.6" x2="289.0" y2="158.4" stroke="#444" stroke-width="0.7"/>
<line x1="291.7" y1="156.6" x2="291.7" y2="158.4" stroke="#444" stroke-width="0.7"/>
<line x1="294.0" y1="156.6" x2="294.0" y2="158.4" stroke="#444" stroke-width="0.7"/>
<line x1="295.9" y1="156.6" x2="295.9" y2="158.4" stroke="#444" stroke-width="0.7"/>
<line x1="297.5" y1="156.6" x2="297.5" y2="158.4" stroke="#444" stroke-width="0.7"/>
<line x1="299.0" y1="156.6" x2="299.0" y2="158.4" stroke="#444" stroke-width="0.7"/>
<line x1="308.9" y1="156.6" x2="308.9" y2="158.4" stroke="#444" stroke-width="0.7"/>
<rect x="216.3" y="156.6" width="5" height="2.6" fill="#000"/>
<line x1="235.8" y1="66.8" x2="309.3" y2="66.8" stroke="#000" stroke-width="1.8"/>
<line x1="235.8" y1="63.5" x2="235.8" y2="70.1" stroke="#000" stroke-width="1.6"/>
<line x1="309.3" y1="63.5" x2="309.3" y2="70.1" stroke="#000" stroke-width="1.6"/>
<text transform="translate(268.40,62.50) scale(1,1.03)" font-size="15.04">96.3%</text>
<text transform="translate(244.00,30.70) scale(1,1.03)" font-size="14.94">T<tspan font-size="9.79" dy="2.91">N</tspan></text>
<line x1="312.09999999999997" y1="156.6" x2="316.4" y2="156.6" stroke="#000" stroke-width="1"/>
<line x1="314.5" y1="150.9" x2="316.4" y2="150.9" stroke="#444" stroke-width="0.8"/>
<line x1="314.5" y1="145.2" x2="316.4" y2="145.2" stroke="#444" stroke-width="0.8"/>
<line x1="314.5" y1="139.6" x2="316.4" y2="139.6" stroke="#444" stroke-width="0.8"/>
<line x1="312.09999999999997" y1="133.9" x2="316.4" y2="133.9" stroke="#000" stroke-width="1"/>
<line x1="314.5" y1="128.2" x2="316.4" y2="128.2" stroke="#444" stroke-width="0.8"/>
<line x1="314.5" y1="122.6" x2="316.4" y2="122.6" stroke="#444" stroke-width="0.8"/>
<line x1="314.5" y1="116.9" x2="316.4" y2="116.9" stroke="#444" stroke-width="0.8"/>
<line x1="312.09999999999997" y1="111.2" x2="316.4" y2="111.2" stroke="#000" stroke-width="1"/>
<line x1="314.5" y1="105.5" x2="316.4" y2="105.5" stroke="#444" stroke-width="0.8"/>
<line x1="314.5" y1="99.8" x2="316.4" y2="99.8" stroke="#444" stroke-width="0.8"/>
<line x1="314.5" y1="94.2" x2="316.4" y2="94.2" stroke="#444" stroke-width="0.8"/>
<line x1="312.09999999999997" y1="88.5" x2="316.4" y2="88.5" stroke="#000" stroke-width="1"/>
<line x1="314.5" y1="82.8" x2="316.4" y2="82.8" stroke="#444" stroke-width="0.8"/>
<line x1="314.5" y1="77.2" x2="316.4" y2="77.2" stroke="#444" stroke-width="0.8"/>
<line x1="314.5" y1="71.5" x2="316.4" y2="71.5" stroke="#444" stroke-width="0.8"/>
<line x1="312.09999999999997" y1="65.8" x2="316.4" y2="65.8" stroke="#000" stroke-width="1"/>
<line x1="314.5" y1="60.1" x2="316.4" y2="60.1" stroke="#444" stroke-width="0.8"/>
<line x1="314.5" y1="54.4" x2="316.4" y2="54.4" stroke="#444" stroke-width="0.8"/>
<line x1="314.5" y1="48.8" x2="316.4" y2="48.8" stroke="#444" stroke-width="0.8"/>
<line x1="312.09999999999997" y1="43.1" x2="316.4" y2="43.1" stroke="#000" stroke-width="1"/>
<path d="M316.4,156.6 V37.4 H436.2 V156.6" fill="none" stroke="#777" stroke-width="1"/>
<path d="M321.6,156.6 L325.5,154.3 L329.3,149.5 L333.1,138.1 L335.9,122.8 L337.9,111.3 L339.8,88.4 L341.3,77.0 L342.6,80.8 L344.5,96.1 L346.8,98.0 L349.3,107.5 L352.2,113.2 L354.1,124.7 L356.9,131.4 L359.4,134.2 L361.3,127.6 L363.6,125.1 L365.5,127.6 L367.4,119.0 L369.7,110.4 L371.3,108.5 L373.5,81.8 L376.0,81.8 L377.9,84.6 L379.8,87.5 L381.7,84.2 L383.7,86.1 L386.1,77.4 L388.0,81.8 L390.0,98.0 L392.2,115.2 L395.1,128.5 L397.0,141.9 L399.9,152.4 L403.7,156.2 L407.5,156.6Z" fill="#999" stroke="#000" stroke-width="0.8" stroke-linejoin="round"/>
<line x1="316.4" y1="156.6" x2="436.2" y2="156.6" stroke="#000" stroke-width="1"/>
<line x1="322.79999999999995" y1="156.6" x2="322.79999999999995" y2="159.79999999999998" stroke="#000" stroke-width="0.9"/>
<line x1="362.2" y1="156.6" x2="362.2" y2="159.79999999999998" stroke="#000" stroke-width="0.9"/>
<line x1="395.4" y1="156.6" x2="395.4" y2="159.79999999999998" stroke="#000" stroke-width="0.9"/>
<line x1="423.9" y1="156.6" x2="423.9" y2="159.79999999999998" stroke="#000" stroke-width="0.9"/>
<line x1="325.8" y1="156.6" x2="325.8" y2="158.4" stroke="#444" stroke-width="0.7"/>
<line x1="328.8" y1="156.6" x2="328.8" y2="158.4" stroke="#444" stroke-width="0.7"/>
<line x1="331.8" y1="156.6" x2="331.8" y2="158.4" stroke="#444" stroke-width="0.7"/>
<line x1="334.8" y1="156.6" x2="334.8" y2="158.4" stroke="#444" stroke-width="0.7"/>
<line x1="337.8" y1="156.6" x2="337.8" y2="158.4" stroke="#444" stroke-width="0.7"/>
<line x1="346.9" y1="156.6" x2="346.9" y2="158.4" stroke="#444" stroke-width="0.7"/>
<line x1="349.9" y1="156.6" x2="349.9" y2="158.4" stroke="#444" stroke-width="0.7"/>
<line x1="352.9" y1="156.6" x2="352.9" y2="158.4" stroke="#444" stroke-width="0.7"/>
<line x1="355.9" y1="156.6" x2="355.9" y2="158.4" stroke="#444" stroke-width="0.7"/>
<line x1="358.9" y1="156.6" x2="358.9" y2="158.4" stroke="#444" stroke-width="0.7"/>
<line x1="372.2" y1="156.6" x2="372.2" y2="158.4" stroke="#444" stroke-width="0.7"/>
<line x1="378.0" y1="156.6" x2="378.0" y2="158.4" stroke="#444" stroke-width="0.7"/>
<line x1="382.2" y1="156.6" x2="382.2" y2="158.4" stroke="#444" stroke-width="0.7"/>
<line x1="385.4" y1="156.6" x2="385.4" y2="158.4" stroke="#444" stroke-width="0.7"/>
<line x1="388.0" y1="156.6" x2="388.0" y2="158.4" stroke="#444" stroke-width="0.7"/>
<line x1="390.3" y1="156.6" x2="390.3" y2="158.4" stroke="#444" stroke-width="0.7"/>
<line x1="392.2" y1="156.6" x2="392.2" y2="158.4" stroke="#444" stroke-width="0.7"/>
<line x1="393.9" y1="156.6" x2="393.9" y2="158.4" stroke="#444" stroke-width="0.7"/>
<line x1="404.0" y1="156.6" x2="404.0" y2="158.4" stroke="#444" stroke-width="0.7"/>
<line x1="409.0" y1="156.6" x2="409.0" y2="158.4" stroke="#444" stroke-width="0.7"/>
<line x1="412.6" y1="156.6" x2="412.6" y2="158.4" stroke="#444" stroke-width="0.7"/>
<line x1="415.3" y1="156.6" x2="415.3" y2="158.4" stroke="#444" stroke-width="0.7"/>
<line x1="417.6" y1="156.6" x2="417.6" y2="158.4" stroke="#444" stroke-width="0.7"/>
<line x1="419.5" y1="156.6" x2="419.5" y2="158.4" stroke="#444" stroke-width="0.7"/>
<line x1="421.1" y1="156.6" x2="421.1" y2="158.4" stroke="#444" stroke-width="0.7"/>
<line x1="422.6" y1="156.6" x2="422.6" y2="158.4" stroke="#444" stroke-width="0.7"/>
<line x1="432.5" y1="156.6" x2="432.5" y2="158.4" stroke="#444" stroke-width="0.7"/>
<rect x="339.9" y="156.6" width="5" height="2.6" fill="#000"/>
<line x1="358.8" y1="66.8" x2="432.3" y2="66.8" stroke="#000" stroke-width="1.8"/>
<line x1="358.8" y1="63.5" x2="358.8" y2="70.1" stroke="#000" stroke-width="1.6"/>
<line x1="432.3" y1="63.5" x2="432.3" y2="70.1" stroke="#000" stroke-width="1.6"/>
<text transform="translate(374.10,62.50) scale(1,1.03)" font-size="15.04">59.3%</text>
<text transform="translate(364.30,30.70) scale(1,1.03)" font-size="14.94">T<tspan font-size="9.79" dy="2.91">CM</tspan></text>
<line x1="435.9" y1="156.6" x2="440.2" y2="156.6" stroke="#000" stroke-width="1"/>
<line x1="438.3" y1="150.9" x2="440.2" y2="150.9" stroke="#444" stroke-width="0.8"/>
<line x1="438.3" y1="145.2" x2="440.2" y2="145.2" stroke="#444" stroke-width="0.8"/>
<line x1="438.3" y1="139.6" x2="440.2" y2="139.6" stroke="#444" stroke-width="0.8"/>
<line x1="435.9" y1="133.9" x2="440.2" y2="133.9" stroke="#000" stroke-width="1"/>
<line x1="438.3" y1="128.2" x2="440.2" y2="128.2" stroke="#444" stroke-width="0.8"/>
<line x1="438.3" y1="122.6" x2="440.2" y2="122.6" stroke="#444" stroke-width="0.8"/>
<line x1="438.3" y1="116.9" x2="440.2" y2="116.9" stroke="#444" stroke-width="0.8"/>
<line x1="435.9" y1="111.2" x2="440.2" y2="111.2" stroke="#000" stroke-width="1"/>
<line x1="438.3" y1="105.5" x2="440.2" y2="105.5" stroke="#444" stroke-width="0.8"/>
<line x1="438.3" y1="99.8" x2="440.2" y2="99.8" stroke="#444" stroke-width="0.8"/>
<line x1="438.3" y1="94.2" x2="440.2" y2="94.2" stroke="#444" stroke-width="0.8"/>
<line x1="435.9" y1="88.5" x2="440.2" y2="88.5" stroke="#000" stroke-width="1"/>
<line x1="438.3" y1="82.8" x2="440.2" y2="82.8" stroke="#444" stroke-width="0.8"/>
<line x1="438.3" y1="77.2" x2="440.2" y2="77.2" stroke="#444" stroke-width="0.8"/>
<line x1="438.3" y1="71.5" x2="440.2" y2="71.5" stroke="#444" stroke-width="0.8"/>
<line x1="435.9" y1="65.8" x2="440.2" y2="65.8" stroke="#000" stroke-width="1"/>
<line x1="438.3" y1="60.1" x2="440.2" y2="60.1" stroke="#444" stroke-width="0.8"/>
<line x1="438.3" y1="54.4" x2="440.2" y2="54.4" stroke="#444" stroke-width="0.8"/>
<line x1="438.3" y1="48.8" x2="440.2" y2="48.8" stroke="#444" stroke-width="0.8"/>
<line x1="435.9" y1="43.1" x2="440.2" y2="43.1" stroke="#000" stroke-width="1"/>
<path d="M440.2,156.6 V37.4 H560.1 V156.6" fill="none" stroke="#777" stroke-width="1"/>
<path d="M448.5,156.6 L452.3,149.5 L455.2,138.1 L458.0,115.2 L460.5,92.3 L462.8,73.2 L464.0,71.3 L465.3,51.2 L466.6,50.3 L468.5,52.2 L470.4,54.1 L472.0,75.1 L474.3,79.8 L476.2,90.3 L478.1,105.6 L480.0,117.1 L482.8,126.6 L486.7,131.4 L489.5,133.3 L492.4,134.2 L494.9,129.5 L497.2,130.0 L500.0,128.5 L503.8,128.1 L507.7,128.5 L511.5,126.6 L513.4,130.0 L516.2,133.3 L519.7,137.1 L522.0,145.7 L524.8,151.4 L529.6,156.6Z" fill="#999" stroke="#000" stroke-width="0.8" stroke-linejoin="round"/>
<line x1="440.2" y1="156.6" x2="560.1" y2="156.6" stroke="#000" stroke-width="1"/>
<line x1="446.59999999999997" y1="156.6" x2="446.59999999999997" y2="159.79999999999998" stroke="#000" stroke-width="0.9"/>
<line x1="486.0" y1="156.6" x2="486.0" y2="159.79999999999998" stroke="#000" stroke-width="0.9"/>
<line x1="519.2" y1="156.6" x2="519.2" y2="159.79999999999998" stroke="#000" stroke-width="0.9"/>
<line x1="547.7" y1="156.6" x2="547.7" y2="159.79999999999998" stroke="#000" stroke-width="0.9"/>
<line x1="449.6" y1="156.6" x2="449.6" y2="158.4" stroke="#444" stroke-width="0.7"/>
<line x1="452.6" y1="156.6" x2="452.6" y2="158.4" stroke="#444" stroke-width="0.7"/>
<line x1="455.6" y1="156.6" x2="455.6" y2="158.4" stroke="#444" stroke-width="0.7"/>
<line x1="458.6" y1="156.6" x2="458.6" y2="158.4" stroke="#444" stroke-width="0.7"/>
<line x1="461.6" y1="156.6" x2="461.6" y2="158.4" stroke="#444" stroke-width="0.7"/>
<line x1="470.7" y1="156.6" x2="470.7" y2="158.4" stroke="#444" stroke-width="0.7"/>
<line x1="473.7" y1="156.6" x2="473.7" y2="158.4" stroke="#444" stroke-width="0.7"/>
<line x1="476.7" y1="156.6" x2="476.7" y2="158.4" stroke="#444" stroke-width="0.7"/>
<line x1="479.7" y1="156.6" x2="479.7" y2="158.4" stroke="#444" stroke-width="0.7"/>
<line x1="482.7" y1="156.6" x2="482.7" y2="158.4" stroke="#444" stroke-width="0.7"/>
<line x1="496.0" y1="156.6" x2="496.0" y2="158.4" stroke="#444" stroke-width="0.7"/>
<line x1="501.8" y1="156.6" x2="501.8" y2="158.4" stroke="#444" stroke-width="0.7"/>
<line x1="506.0" y1="156.6" x2="506.0" y2="158.4" stroke="#444" stroke-width="0.7"/>
<line x1="509.2" y1="156.6" x2="509.2" y2="158.4" stroke="#444" stroke-width="0.7"/>
<line x1="511.8" y1="156.6" x2="511.8" y2="158.4" stroke="#444" stroke-width="0.7"/>
<line x1="514.1" y1="156.6" x2="514.1" y2="158.4" stroke="#444" stroke-width="0.7"/>
<line x1="516.0" y1="156.6" x2="516.0" y2="158.4" stroke="#444" stroke-width="0.7"/>
<line x1="517.7" y1="156.6" x2="517.7" y2="158.4" stroke="#444" stroke-width="0.7"/>
<line x1="527.8" y1="156.6" x2="527.8" y2="158.4" stroke="#444" stroke-width="0.7"/>
<line x1="532.8" y1="156.6" x2="532.8" y2="158.4" stroke="#444" stroke-width="0.7"/>
<line x1="536.4" y1="156.6" x2="536.4" y2="158.4" stroke="#444" stroke-width="0.7"/>
<line x1="539.1" y1="156.6" x2="539.1" y2="158.4" stroke="#444" stroke-width="0.7"/>
<line x1="541.4" y1="156.6" x2="541.4" y2="158.4" stroke="#444" stroke-width="0.7"/>
<line x1="543.3" y1="156.6" x2="543.3" y2="158.4" stroke="#444" stroke-width="0.7"/>
<line x1="544.9" y1="156.6" x2="544.9" y2="158.4" stroke="#444" stroke-width="0.7"/>
<line x1="546.4" y1="156.6" x2="546.4" y2="158.4" stroke="#444" stroke-width="0.7"/>
<line x1="556.3" y1="156.6" x2="556.3" y2="158.4" stroke="#444" stroke-width="0.7"/>
<rect x="463.7" y="156.6" width="5" height="2.6" fill="#000"/>
<line x1="483.2" y1="66.8" x2="556.7" y2="66.8" stroke="#000" stroke-width="1.8"/>
<line x1="483.2" y1="63.5" x2="483.2" y2="70.1" stroke="#000" stroke-width="1.6"/>
<line x1="556.7" y1="63.5" x2="556.7" y2="70.1" stroke="#000" stroke-width="1.6"/>
<text transform="translate(499.30,62.50) scale(1,1.03)" font-size="15.04">33.7%</text>
<text transform="translate(489.40,30.70) scale(1,1.03)" font-size="14.94">T<tspan font-size="9.79" dy="2.91">EM</tspan></text>
<line x1="559.5" y1="156.6" x2="563.8" y2="156.6" stroke="#000" stroke-width="1"/>
<line x1="561.9" y1="150.9" x2="563.8" y2="150.9" stroke="#444" stroke-width="0.8"/>
<line x1="561.9" y1="145.2" x2="563.8" y2="145.2" stroke="#444" stroke-width="0.8"/>
<line x1="561.9" y1="139.6" x2="563.8" y2="139.6" stroke="#444" stroke-width="0.8"/>
<line x1="559.5" y1="133.9" x2="563.8" y2="133.9" stroke="#000" stroke-width="1"/>
<line x1="561.9" y1="128.2" x2="563.8" y2="128.2" stroke="#444" stroke-width="0.8"/>
<line x1="561.9" y1="122.6" x2="563.8" y2="122.6" stroke="#444" stroke-width="0.8"/>
<line x1="561.9" y1="116.9" x2="563.8" y2="116.9" stroke="#444" stroke-width="0.8"/>
<line x1="559.5" y1="111.2" x2="563.8" y2="111.2" stroke="#000" stroke-width="1"/>
<line x1="561.9" y1="105.5" x2="563.8" y2="105.5" stroke="#444" stroke-width="0.8"/>
<line x1="561.9" y1="99.8" x2="563.8" y2="99.8" stroke="#444" stroke-width="0.8"/>
<line x1="561.9" y1="94.2" x2="563.8" y2="94.2" stroke="#444" stroke-width="0.8"/>
<line x1="559.5" y1="88.5" x2="563.8" y2="88.5" stroke="#000" stroke-width="1"/>
<line x1="561.9" y1="82.8" x2="563.8" y2="82.8" stroke="#444" stroke-width="0.8"/>
<line x1="561.9" y1="77.2" x2="563.8" y2="77.2" stroke="#444" stroke-width="0.8"/>
<line x1="561.9" y1="71.5" x2="563.8" y2="71.5" stroke="#444" stroke-width="0.8"/>
<line x1="559.5" y1="65.8" x2="563.8" y2="65.8" stroke="#000" stroke-width="1"/>
<line x1="561.9" y1="60.1" x2="563.8" y2="60.1" stroke="#444" stroke-width="0.8"/>
<line x1="561.9" y1="54.4" x2="563.8" y2="54.4" stroke="#444" stroke-width="0.8"/>
<line x1="561.9" y1="48.8" x2="563.8" y2="48.8" stroke="#444" stroke-width="0.8"/>
<line x1="559.5" y1="43.1" x2="563.8" y2="43.1" stroke="#000" stroke-width="1"/>
<path d="M563.8,156.6 V37.4 H683.6999999999999 V156.6" fill="none" stroke="#777" stroke-width="1"/>
<path d="M570.5,156.6 L574.3,154.3 L577.2,147.6 L580.0,130.4 L582.9,107.5 L585.8,84.6 L588.2,59.8 L590.2,52.2 L591.5,48.0 L592.8,54.1 L594.0,59.8 L594.9,57.5 L596.3,73.2 L598.2,90.3 L600.1,103.7 L602.4,122.8 L604.8,138.1 L607.7,145.7 L611.5,150.5 L617.3,150.1 L623.0,149.1 L627.7,149.5 L632.5,151.4 L637.3,154.8 L642.1,156.6 L647.8,156.6Z" fill="#999" stroke="#000" stroke-width="0.8" stroke-linejoin="round"/>
<line x1="563.8" y1="156.6" x2="683.6999999999999" y2="156.6" stroke="#000" stroke-width="1"/>
<line x1="570.1999999999999" y1="156.6" x2="570.1999999999999" y2="159.79999999999998" stroke="#000" stroke-width="0.9"/>
<line x1="609.5999999999999" y1="156.6" x2="609.5999999999999" y2="159.79999999999998" stroke="#000" stroke-width="0.9"/>
<line x1="642.8" y1="156.6" x2="642.8" y2="159.79999999999998" stroke="#000" stroke-width="0.9"/>
<line x1="671.3" y1="156.6" x2="671.3" y2="159.79999999999998" stroke="#000" stroke-width="0.9"/>
<line x1="573.2" y1="156.6" x2="573.2" y2="158.4" stroke="#444" stroke-width="0.7"/>
<line x1="576.2" y1="156.6" x2="576.2" y2="158.4" stroke="#444" stroke-width="0.7"/>
<line x1="579.2" y1="156.6" x2="579.2" y2="158.4" stroke="#444" stroke-width="0.7"/>
<line x1="582.2" y1="156.6" x2="582.2" y2="158.4" stroke="#444" stroke-width="0.7"/>
<line x1="585.2" y1="156.6" x2="585.2" y2="158.4" stroke="#444" stroke-width="0.7"/>
<line x1="594.3" y1="156.6" x2="594.3" y2="158.4" stroke="#444" stroke-width="0.7"/>
<line x1="597.3" y1="156.6" x2="597.3" y2="158.4" stroke="#444" stroke-width="0.7"/>
<line x1="600.3" y1="156.6" x2="600.3" y2="158.4" stroke="#444" stroke-width="0.7"/>
<line x1="603.3" y1="156.6" x2="603.3" y2="158.4" stroke="#444" stroke-width="0.7"/>
<line x1="606.3" y1="156.6" x2="606.3" y2="158.4" stroke="#444" stroke-width="0.7"/>
<line x1="619.6" y1="156.6" x2="619.6" y2="158.4" stroke="#444" stroke-width="0.7"/>
<line x1="625.4" y1="156.6" x2="625.4" y2="158.4" stroke="#444" stroke-width="0.7"/>
<line x1="629.6" y1="156.6" x2="629.6" y2="158.4" stroke="#444" stroke-width="0.7"/>
<line x1="632.8" y1="156.6" x2="632.8" y2="158.4" stroke="#444" stroke-width="0.7"/>
<line x1="635.4" y1="156.6" x2="635.4" y2="158.4" stroke="#444" stroke-width="0.7"/>
<line x1="637.7" y1="156.6" x2="637.7" y2="158.4" stroke="#444" stroke-width="0.7"/>
<line x1="639.6" y1="156.6" x2="639.6" y2="158.4" stroke="#444" stroke-width="0.7"/>
<line x1="641.3" y1="156.6" x2="641.3" y2="158.4" stroke="#444" stroke-width="0.7"/>
<line x1="651.4" y1="156.6" x2="651.4" y2="158.4" stroke="#444" stroke-width="0.7"/>
<line x1="656.4" y1="156.6" x2="656.4" y2="158.4" stroke="#444" stroke-width="0.7"/>
<line x1="660.0" y1="156.6" x2="660.0" y2="158.4" stroke="#444" stroke-width="0.7"/>
<line x1="662.7" y1="156.6" x2="662.7" y2="158.4" stroke="#444" stroke-width="0.7"/>
<line x1="665.0" y1="156.6" x2="665.0" y2="158.4" stroke="#444" stroke-width="0.7"/>
<line x1="666.9" y1="156.6" x2="666.9" y2="158.4" stroke="#444" stroke-width="0.7"/>
<line x1="668.5" y1="156.6" x2="668.5" y2="158.4" stroke="#444" stroke-width="0.7"/>
<line x1="670.0" y1="156.6" x2="670.0" y2="158.4" stroke="#444" stroke-width="0.7"/>
<line x1="679.9" y1="156.6" x2="679.9" y2="158.4" stroke="#444" stroke-width="0.7"/>
<rect x="587.3" y="156.6" width="5" height="2.6" fill="#000"/>
<line x1="606.2" y1="66.8" x2="679.8" y2="66.8" stroke="#000" stroke-width="1.8"/>
<line x1="606.2" y1="63.5" x2="606.2" y2="70.1" stroke="#000" stroke-width="1.6"/>
<line x1="679.8" y1="63.5" x2="679.8" y2="70.1" stroke="#000" stroke-width="1.6"/>
<text transform="translate(624.50,62.50) scale(1,1.03)" font-size="15.04">11.5%</text>
<text transform="translate(606.80,30.70) scale(1,1.03)" font-size="14.94">T<tspan font-size="9.79" dy="2.91">EMRA</tspan></text>
<line x1="192" y1="174.2" x2="500.69999999999993" y2="174.2" stroke="#000" stroke-width="1.6"/>
<path d="M499.69999999999993,170.39999999999998 L518.3,174.2 L499.69999999999993,178.0 Z" fill="#000"/>
<text transform="translate(527.00,178.80) scale(1,1.03)" font-size="15.04">CD73</text>
<text transform="translate(56.40,209.00) scale(1,1.03)" font-size="14.94">CD73</text>
<rect x="37.3" y="210.9" width="75.8" height="10.6" fill="url(#cb)"/>
<text transform="translate(10.30,221.60) scale(1,1.03)" font-size="14.73">Low</text>
<text transform="translate(114.30,221.60) scale(1,1.03)" font-size="14.73">High</text>
<text transform="translate(59.80,248.30) scale(1,1.03)" font-size="14.94">AML</text>
<path d="M92.8 303.7h1.2v1.2h-1.2zM94.2 307.4h1.2v1.2h-1.2zM89.1 312.5h1.2v1.2h-1.2zM98.5 309.5h1.2v1.2h-1.2zM95.3 305.4h1.2v1.2h-1.2zM96.9 312.9h1.2v1.2h-1.2zM88.8 307.9h1.2v1.2h-1.2zM96.8 311.9h1.2v1.2h-1.2zM95.5 306.0h1.2v1.2h-1.2zM94.3 304.8h1.2v1.2h-1.2zM99.9 299.3h1.2v1.2h-1.2zM95.1 311.3h1.2v1.2h-1.2zM97.4 309.6h1.2v1.2h-1.2zM90.8 311.6h1.2v1.2h-1.2zM97.0 305.8h1.2v1.2h-1.2zM91.3 308.7h1.2v1.2h-1.2zM88.5 308.4h1.2v1.2h-1.2zM92.2 309.5h1.2v1.2h-1.2zM95.2 303.0h1.2v1.2h-1.2zM87.0 305.5h1.2v1.2h-1.2zM95.2 307.1h1.2v1.2h-1.2zM94.5 311.3h1.2v1.2h-1.2zM96.5 301.3h1.2v1.2h-1.2zM93.0 312.1h1.2v1.2h-1.2zM94.1 303.1h1.2v1.2h-1.2zM92.6 307.0h1.2v1.2h-1.2zM92.4 306.9h1.2v1.2h-1.2zM85.9 306.1h1.2v1.2h-1.2zM92.8 308.8h1.2v1.2h-1.2zM96.1 308.7h1.2v1.2h-1.2zM94.7 308.1h1.2v1.2h-1.2zM85.3 305.9h1.2v1.2h-1.2zM92.1 309.6h1.2v1.2h-1.2zM94.7 306.4h1.2v1.2h-1.2zM86.3 303.3h1.2v1.2h-1.2zM94.8 313.2h1.2v1.2h-1.2zM94.5 310.3h1.2v1.2h-1.2zM94.7 304.4h1.2v1.2h-1.2zM97.3 307.0h1.2v1.2h-1.2zM96.2 308.4h1.2v1.2h-1.2zM95.3 306.4h1.2v1.2h-1.2zM95.9 303.8h1.2v1.2h-1.2zM93.7 310.6h1.2v1.2h-1.2zM90.2 308.9h1.2v1.2h-1.2zM91.3 305.8h1.2v1.2h-1.2zM92.6 309.6h1.2v1.2h-1.2zM97.7 310.2h1.2v1.2h-1.2zM91.2 304.6h1.2v1.2h-1.2zM93.7 312.3h1.2v1.2h-1.2zM96.5 308.4h1.2v1.2h-1.2zM96.8 304.2h1.2v1.2h-1.2zM95.6 307.5h1.2v1.2h-1.2zM94.2 311.3h1.2v1.2h-1.2zM91.5 303.6h1.2v1.2h-1.2zM98.4 302.7h1.2v1.2h-1.2zM95.8 309.4h1.2v1.2h-1.2zM88.5 305.6h1.2v1.2h-1.2zM98.0 302.6h1.2v1.2h-1.2zM93.9 305.4h1.2v1.2h-1.2zM95.7 304.0h1.2v1.2h-1.2zM96.2 310.6h1.2v1.2h-1.2zM91.6 311.6h1.2v1.2h-1.2zM99.3 305.5h1.2v1.2h-1.2zM94.2 307.6h1.2v1.2h-1.2zM90.8 309.3h1.2v1.2h-1.2zM93.6 302.9h1.2v1.2h-1.2zM93.2 309.4h1.2v1.2h-1.2zM94.0 304.8h1.2v1.2h-1.2zM93.2 308.1h1.2v1.2h-1.2zM96.0 305.5h1.2v1.2h-1.2zM98.9 305.6h1.2v1.2h-1.2zM95.0 299.7h1.2v1.2h-1.2zM95.7 314.6h1.2v1.2h-1.2zM100.0 302.7h1.2v1.2h-1.2zM94.2 308.1h1.2v1.2h-1.2zM100.3 306.5h1.2v1.2h-1.2zM93.7 303.6h1.2v1.2h-1.2zM96.5 307.7h1.2v1.2h-1.2zM103.4 307.1h1.2v1.2h-1.2zM95.2 310.3h1.2v1.2h-1.2zM95.5 312.3h1.2v1.2h-1.2zM98.8 306.4h1.2v1.2h-1.2zM97.6 312.4h1.2v1.2h-1.2zM94.2 304.2h1.2v1.2h-1.2zM100.0 307.5h1.2v1.2h-1.2zM89.6 308.2h1.2v1.2h-1.2zM92.4 310.1h1.2v1.2h-1.2zM93.7 307.4h1.2v1.2h-1.2zM90.9 306.4h1.2v1.2h-1.2zM100.2 300.9h1.2v1.2h-1.2zM90.2 312.9h1.2v1.2h-1.2zM97.6 301.2h1.2v1.2h-1.2zM94.5 315.6h1.2v1.2h-1.2zM98.2 305.0h1.2v1.2h-1.2zM95.9 310.2h1.2v1.2h-1.2zM94.0 305.3h1.2v1.2h-1.2zM94.7 307.0h1.2v1.2h-1.2zM89.0 304.8h1.2v1.2h-1.2zM97.4 304.0h1.2v1.2h-1.2zM91.8 308.8h1.2v1.2h-1.2zM99.2 307.4h1.2v1.2h-1.2zM96.6 310.7h1.2v1.2h-1.2zM98.5 311.3h1.2v1.2h-1.2zM90.6 314.7h1.2v1.2h-1.2zM105.8 312.6h1.2v1.2h-1.2zM93.3 298.1h1.2v1.2h-1.2zM95.4 307.8h1.2v1.2h-1.2zM94.0 303.3h1.2v1.2h-1.2zM98.7 298.0h1.2v1.2h-1.2zM96.1 307.5h1.2v1.2h-1.2zM93.9 309.2h1.2v1.2h-1.2zM97.0 312.3h1.2v1.2h-1.2zM95.7 312.1h1.2v1.2h-1.2zM94.5 302.5h1.2v1.2h-1.2zM95.2 313.3h1.2v1.2h-1.2zM99.1 308.2h1.2v1.2h-1.2zM98.4 312.7h1.2v1.2h-1.2zM97.7 310.8h1.2v1.2h-1.2zM88.1 309.4h1.2v1.2h-1.2zM96.6 306.6h1.2v1.2h-1.2zM102.3 304.4h1.2v1.2h-1.2zM86.1 312.9h1.2v1.2h-1.2zM91.0 302.0h1.2v1.2h-1.2zM99.0 307.9h1.2v1.2h-1.2zM96.8 306.2h1.2v1.2h-1.2zM92.1 307.1h1.2v1.2h-1.2zM99.3 312.1h1.2v1.2h-1.2zM92.8 311.3h1.2v1.2h-1.2zM98.0 305.5h1.2v1.2h-1.2zM90.6 309.0h1.2v1.2h-1.2zM94.5 306.1h1.2v1.2h-1.2zM92.5 311.7h1.2v1.2h-1.2zM99.0 304.4h1.2v1.2h-1.2zM97.5 312.0h1.2v1.2h-1.2zM95.3 310.6h1.2v1.2h-1.2zM100.1 311.6h1.2v1.2h-1.2zM98.0 308.1h1.2v1.2h-1.2zM97.2 308.5h1.2v1.2h-1.2zM100.0 310.5h1.2v1.2h-1.2zM96.8 310.6h1.2v1.2h-1.2zM100.3 308.9h1.2v1.2h-1.2zM95.9 300.9h1.2v1.2h-1.2zM95.0 314.7h1.2v1.2h-1.2zM96.1 305.3h1.2v1.2h-1.2zM94.9 304.3h1.2v1.2h-1.2zM90.5 312.6h1.2v1.2h-1.2zM100.9 299.8h1.2v1.2h-1.2zM100.3 302.5h1.2v1.2h-1.2zM95.0 305.6h1.2v1.2h-1.2zM101.0 308.1h1.2v1.2h-1.2zM96.3 305.4h1.2v1.2h-1.2zM93.6 305.2h1.2v1.2h-1.2zM87.3 301.2h1.2v1.2h-1.2zM99.9 308.1h1.2v1.2h-1.2zM93.2 306.4h1.2v1.2h-1.2zM94.7 307.7h1.2v1.2h-1.2zM95.4 309.5h1.2v1.2h-1.2zM101.8 306.2h1.2v1.2h-1.2zM93.0 307.1h1.2v1.2h-1.2zM97.4 310.3h1.2v1.2h-1.2zM95.5 307.2h1.2v1.2h-1.2zM92.3 307.5h1.2v1.2h-1.2zM91.5 306.9h1.2v1.2h-1.2zM94.5 305.9h1.2v1.2h-1.2zM94.1 308.8h1.2v1.2h-1.2zM95.1 305.8h1.2v1.2h-1.2zM92.8 307.1h1.2v1.2h-1.2zM95.7 310.1h1.2v1.2h-1.2zM90.2 309.5h1.2v1.2h-1.2zM92.8 307.8h1.2v1.2h-1.2zM103.1 305.0h1.2v1.2h-1.2zM90.4 311.5h1.2v1.2h-1.2zM94.9 319.8h1.2v1.2h-1.2zM98.9 308.2h1.2v1.2h-1.2zM93.1 308.2h1.2v1.2h-1.2zM98.9 298.7h1.2v1.2h-1.2zM101.5 306.1h1.2v1.2h-1.2zM89.9 306.6h1.2v1.2h-1.2zM103.3 310.4h1.2v1.2h-1.2zM88.7 310.0h1.2v1.2h-1.2zM96.7 308.0h1.2v1.2h-1.2zM92.7 307.3h1.2v1.2h-1.2zM99.7 311.2h1.2v1.2h-1.2zM94.5 305.7h1.2v1.2h-1.2zM98.0 311.4h1.2v1.2h-1.2zM100.0 308.0h1.2v1.2h-1.2zM91.5 305.6h1.2v1.2h-1.2zM96.2 308.5h1.2v1.2h-1.2zM88.9 311.5h1.2v1.2h-1.2zM91.9 310.0h1.2v1.2h-1.2zM97.0 312.9h1.2v1.2h-1.2zM86.4 309.2h1.2v1.2h-1.2zM97.7 300.2h1.2v1.2h-1.2zM98.2 316.3h1.2v1.2h-1.2zM100.9 313.6h1.2v1.2h-1.2zM102.5 313.1h1.2v1.2h-1.2zM85.1 307.2h1.2v1.2h-1.2zM90.8 297.2h1.2v1.2h-1.2zM63.9 360.8h1.2v1.2h-1.2zM75.4 319.4h1.2v1.2h-1.2zM41.4 315.9h1.2v1.2h-1.2zM65.7 317.2h1.2v1.2h-1.2zM63.7 318.9h1.2v1.2h-1.2zM58.0 321.9h1.2v1.2h-1.2zM61.9 318.7h1.2v1.2h-1.2zM51.8 329.4h1.2v1.2h-1.2zM64.0 317.9h1.2v1.2h-1.2z" fill="#fafa32"/>
<path d="M83.9 302.3h1.2v1.2h-1.2zM98.4 308.3h1.2v1.2h-1.2zM94.4 311.9h1.2v1.2h-1.2zM92.9 308.7h1.2v1.2h-1.2zM90.5 311.0h1.2v1.2h-1.2zM90.7 297.4h1.2v1.2h-1.2zM95.9 308.7h1.2v1.2h-1.2zM95.1 309.4h1.2v1.2h-1.2zM91.1 301.2h1.2v1.2h-1.2zM94.9 316.6h1.2v1.2h-1.2zM93.9 307.7h1.2v1.2h-1.2zM91.0 307.6h1.2v1.2h-1.2zM95.8 312.3h1.2v1.2h-1.2zM98.7 310.1h1.2v1.2h-1.2zM92.2 303.7h1.2v1.2h-1.2zM102.0 298.7h1.2v1.2h-1.2zM97.3 307.7h1.2v1.2h-1.2zM96.3 304.7h1.2v1.2h-1.2zM95.7 313.1h1.2v1.2h-1.2zM93.4 310.1h1.2v1.2h-1.2zM89.9 311.6h1.2v1.2h-1.2zM99.9 305.7h1.2v1.2h-1.2zM90.9 308.6h1.2v1.2h-1.2zM97.1 302.8h1.2v1.2h-1.2zM92.9 312.4h1.2v1.2h-1.2zM87.7 310.1h1.2v1.2h-1.2zM97.0 309.8h1.2v1.2h-1.2zM99.3 315.8h1.2v1.2h-1.2zM101.0 309.7h1.2v1.2h-1.2zM87.6 308.2h1.2v1.2h-1.2zM91.9 309.8h1.2v1.2h-1.2zM94.9 302.2h1.2v1.2h-1.2zM101.1 304.7h1.2v1.2h-1.2zM96.7 306.1h1.2v1.2h-1.2zM91.8 305.1h1.2v1.2h-1.2zM95.6 310.1h1.2v1.2h-1.2zM88.4 310.8h1.2v1.2h-1.2zM95.5 306.9h1.2v1.2h-1.2zM93.2 307.1h1.2v1.2h-1.2zM89.0 308.9h1.2v1.2h-1.2zM97.8 310.4h1.2v1.2h-1.2zM101.0 309.8h1.2v1.2h-1.2zM92.1 310.3h1.2v1.2h-1.2zM90.6 307.6h1.2v1.2h-1.2zM88.2 303.8h1.2v1.2h-1.2zM90.3 312.7h1.2v1.2h-1.2zM102.8 301.0h1.2v1.2h-1.2zM92.0 305.4h1.2v1.2h-1.2zM101.5 312.3h1.2v1.2h-1.2zM101.9 308.1h1.2v1.2h-1.2zM89.4 306.0h1.2v1.2h-1.2zM95.4 307.8h1.2v1.2h-1.2zM94.8 305.5h1.2v1.2h-1.2zM94.6 306.0h1.2v1.2h-1.2zM100.1 305.0h1.2v1.2h-1.2zM101.9 309.3h1.2v1.2h-1.2zM88.8 306.5h1.2v1.2h-1.2zM92.5 303.4h1.2v1.2h-1.2zM98.5 301.7h1.2v1.2h-1.2zM91.6 304.9h1.2v1.2h-1.2zM99.0 304.3h1.2v1.2h-1.2zM97.0 305.9h1.2v1.2h-1.2zM97.5 304.4h1.2v1.2h-1.2zM92.6 304.8h1.2v1.2h-1.2zM97.9 306.3h1.2v1.2h-1.2zM100.2 307.2h1.2v1.2h-1.2zM99.0 307.3h1.2v1.2h-1.2zM105.1 306.5h1.2v1.2h-1.2zM102.4 300.5h1.2v1.2h-1.2zM95.9 313.5h1.2v1.2h-1.2zM97.0 305.2h1.2v1.2h-1.2zM93.2 311.3h1.2v1.2h-1.2zM89.4 305.0h1.2v1.2h-1.2zM99.0 298.2h1.2v1.2h-1.2zM98.2 311.3h1.2v1.2h-1.2zM91.6 306.3h1.2v1.2h-1.2zM98.8 305.9h1.2v1.2h-1.2zM99.3 309.2h1.2v1.2h-1.2zM99.0 299.2h1.2v1.2h-1.2zM93.2 307.1h1.2v1.2h-1.2zM99.9 304.9h1.2v1.2h-1.2zM94.8 315.0h1.2v1.2h-1.2zM98.4 311.1h1.2v1.2h-1.2zM99.7 309.4h1.2v1.2h-1.2zM99.8 312.4h1.2v1.2h-1.2zM96.0 311.0h1.2v1.2h-1.2zM99.5 308.6h1.2v1.2h-1.2zM89.5 310.9h1.2v1.2h-1.2zM90.6 307.7h1.2v1.2h-1.2zM98.6 302.4h1.2v1.2h-1.2zM98.7 305.7h1.2v1.2h-1.2zM89.7 310.0h1.2v1.2h-1.2zM96.2 311.7h1.2v1.2h-1.2zM95.8 312.7h1.2v1.2h-1.2zM89.7 305.1h1.2v1.2h-1.2zM97.7 307.0h1.2v1.2h-1.2zM98.3 306.4h1.2v1.2h-1.2zM90.0 313.8h1.2v1.2h-1.2zM104.1 307.4h1.2v1.2h-1.2zM91.1 307.8h1.2v1.2h-1.2zM91.7 306.8h1.2v1.2h-1.2zM95.6 311.0h1.2v1.2h-1.2zM99.0 317.5h1.2v1.2h-1.2zM99.3 309.2h1.2v1.2h-1.2zM101.2 310.0h1.2v1.2h-1.2zM95.5 308.7h1.2v1.2h-1.2zM93.6 307.7h1.2v1.2h-1.2zM93.1 307.2h1.2v1.2h-1.2zM98.8 306.8h1.2v1.2h-1.2zM95.0 308.6h1.2v1.2h-1.2zM94.3 309.8h1.2v1.2h-1.2zM93.1 307.7h1.2v1.2h-1.2zM90.8 309.6h1.2v1.2h-1.2zM97.3 308.7h1.2v1.2h-1.2zM98.6 306.5h1.2v1.2h-1.2zM96.5 312.8h1.2v1.2h-1.2zM96.7 297.9h1.2v1.2h-1.2zM94.3 307.9h1.2v1.2h-1.2zM98.7 310.2h1.2v1.2h-1.2zM96.8 305.1h1.2v1.2h-1.2zM97.3 308.5h1.2v1.2h-1.2zM95.4 306.2h1.2v1.2h-1.2z" fill="#fae632"/>
<path d="M96.0 306.3h1.2v1.2h-1.2zM92.6 309.8h1.2v1.2h-1.2zM91.7 305.4h1.2v1.2h-1.2zM95.7 301.1h1.2v1.2h-1.2zM96.7 303.7h1.2v1.2h-1.2zM99.9 308.2h1.2v1.2h-1.2zM94.9 307.2h1.2v1.2h-1.2zM94.1 309.2h1.2v1.2h-1.2zM97.5 306.2h1.2v1.2h-1.2zM92.7 309.4h1.2v1.2h-1.2zM98.9 307.4h1.2v1.2h-1.2zM93.3 319.9h1.2v1.2h-1.2z" fill="#fad232"/>
<path d="M102.1 306.0h1.2v1.2h-1.2zM92.2 307.6h1.2v1.2h-1.2zM91.6 299.5h1.2v1.2h-1.2zM88.7 311.0h1.2v1.2h-1.2zM94.1 306.8h1.2v1.2h-1.2zM104.0 308.0h1.2v1.2h-1.2zM93.8 306.2h1.2v1.2h-1.2zM81.4 304.3h1.2v1.2h-1.2zM99.4 315.2h1.2v1.2h-1.2zM78.2 310.4h1.2v1.2h-1.2zM92.3 312.9h1.2v1.2h-1.2zM99.1 316.8h1.2v1.2h-1.2zM94.0 309.0h1.2v1.2h-1.2zM43.5 340.0h1.2v1.2h-1.2zM55.9 332.7h1.2v1.2h-1.2zM44.6 323.0h1.2v1.2h-1.2zM63.0 308.6h1.2v1.2h-1.2zM62.8 318.8h1.2v1.2h-1.2zM62.3 316.1h1.2v1.2h-1.2zM48.9 320.6h1.2v1.2h-1.2zM64.0 317.4h1.2v1.2h-1.2z" fill="#e6fa32"/>
<path d="M94.7 297.8h1.2v1.2h-1.2zM82.3 326.1h1.2v1.2h-1.2zM94.2 307.7h1.2v1.2h-1.2zM93.0 320.2h1.2v1.2h-1.2zM91.2 312.0h1.2v1.2h-1.2zM104.2 318.5h1.2v1.2h-1.2zM96.6 316.1h1.2v1.2h-1.2zM95.2 314.4h1.2v1.2h-1.2zM82.6 317.1h1.2v1.2h-1.2zM90.0 316.8h1.2v1.2h-1.2zM89.3 315.3h1.2v1.2h-1.2zM107.8 334.9h1.2v1.2h-1.2zM98.6 347.6h1.2v1.2h-1.2zM99.7 332.8h1.2v1.2h-1.2zM42.2 347.7h1.2v1.2h-1.2zM56.6 350.7h1.2v1.2h-1.2zM65.6 356.9h1.2v1.2h-1.2zM60.5 338.6h1.2v1.2h-1.2zM57.2 345.8h1.2v1.2h-1.2zM60.4 341.5h1.2v1.2h-1.2zM52.9 340.2h1.2v1.2h-1.2zM58.3 368.8h1.2v1.2h-1.2zM63.1 358.8h1.2v1.2h-1.2zM63.8 355.8h1.2v1.2h-1.2zM51.1 345.7h1.2v1.2h-1.2zM71.0 330.6h1.2v1.2h-1.2zM56.7 346.9h1.2v1.2h-1.2zM73.1 345.0h1.2v1.2h-1.2zM64.2 327.1h1.2v1.2h-1.2zM48.0 319.4h1.2v1.2h-1.2z" fill="#82fa32"/>
<path d="M95.2 317.0h1.2v1.2h-1.2zM88.8 319.9h1.2v1.2h-1.2zM85.5 309.9h1.2v1.2h-1.2zM89.9 304.7h1.2v1.2h-1.2zM88.7 313.6h1.2v1.2h-1.2zM88.3 323.5h1.2v1.2h-1.2zM92.2 310.9h1.2v1.2h-1.2zM93.9 310.2h1.2v1.2h-1.2zM80.5 310.2h1.2v1.2h-1.2zM93.2 295.3h1.2v1.2h-1.2zM83.0 312.4h1.2v1.2h-1.2zM63.7 351.2h1.2v1.2h-1.2zM49.6 344.6h1.2v1.2h-1.2zM48.6 344.0h1.2v1.2h-1.2zM57.2 344.5h1.2v1.2h-1.2zM54.9 351.2h1.2v1.2h-1.2zM68.6 351.9h1.2v1.2h-1.2zM48.3 340.2h1.2v1.2h-1.2zM66.7 341.9h1.2v1.2h-1.2zM55.3 332.2h1.2v1.2h-1.2zM65.7 348.9h1.2v1.2h-1.2zM53.1 327.9h1.2v1.2h-1.2zM50.6 342.1h1.2v1.2h-1.2zM57.7 339.0h1.2v1.2h-1.2zM58.6 326.9h1.2v1.2h-1.2zM66.7 351.9h1.2v1.2h-1.2zM52.0 320.1h1.2v1.2h-1.2zM40.2 314.1h1.2v1.2h-1.2zM48.4 314.9h1.2v1.2h-1.2zM42.9 317.3h1.2v1.2h-1.2zM65.0 322.7h1.2v1.2h-1.2z" fill="#aafa32"/>
<path d="M87.9 314.8h1.2v1.2h-1.2zM92.0 297.0h1.2v1.2h-1.2zM91.2 305.8h1.2v1.2h-1.2zM97.0 310.4h1.2v1.2h-1.2zM90.9 319.7h1.2v1.2h-1.2zM93.5 316.4h1.2v1.2h-1.2zM93.1 313.3h1.2v1.2h-1.2zM91.6 316.3h1.2v1.2h-1.2zM64.7 347.1h1.2v1.2h-1.2zM51.6 331.3h1.2v1.2h-1.2zM65.5 341.3h1.2v1.2h-1.2zM54.0 354.2h1.2v1.2h-1.2zM55.5 361.8h1.2v1.2h-1.2zM76.1 334.4h1.2v1.2h-1.2zM68.1 338.0h1.2v1.2h-1.2zM68.4 316.2h1.2v1.2h-1.2zM60.9 317.6h1.2v1.2h-1.2zM60.9 322.3h1.2v1.2h-1.2zM51.7 324.1h1.2v1.2h-1.2zM71.8 321.0h1.2v1.2h-1.2zM54.3 320.6h1.2v1.2h-1.2zM68.5 321.4h1.2v1.2h-1.2zM65.8 321.6h1.2v1.2h-1.2zM48.4 317.2h1.2v1.2h-1.2zM56.6 322.8h1.2v1.2h-1.2z" fill="#d2fa32"/>
<path d="M91.4 320.2h1.2v1.2h-1.2zM100.8 304.7h1.2v1.2h-1.2zM97.8 306.7h1.2v1.2h-1.2zM80.8 318.0h1.2v1.2h-1.2zM80.3 320.8h1.2v1.2h-1.2zM82.8 310.8h1.2v1.2h-1.2zM93.4 325.7h1.2v1.2h-1.2zM89.4 299.9h1.2v1.2h-1.2zM87.7 310.3h1.2v1.2h-1.2zM79.9 301.3h1.2v1.2h-1.2zM94.6 356.8h1.2v1.2h-1.2zM108.6 341.6h1.2v1.2h-1.2zM100.0 347.0h1.2v1.2h-1.2zM98.9 345.0h1.2v1.2h-1.2zM91.4 346.4h1.2v1.2h-1.2zM99.1 334.3h1.2v1.2h-1.2zM106.2 330.1h1.2v1.2h-1.2zM99.2 341.8h1.2v1.2h-1.2zM102.8 336.4h1.2v1.2h-1.2zM96.8 345.4h1.2v1.2h-1.2zM95.7 339.3h1.2v1.2h-1.2zM98.8 346.0h1.2v1.2h-1.2zM98.5 340.1h1.2v1.2h-1.2zM88.9 335.6h1.2v1.2h-1.2zM108.1 332.2h1.2v1.2h-1.2zM84.1 356.5h1.2v1.2h-1.2zM85.0 357.9h1.2v1.2h-1.2zM107.6 351.8h1.2v1.2h-1.2zM96.1 346.4h1.2v1.2h-1.2zM101.3 349.5h1.2v1.2h-1.2zM101.3 338.9h1.2v1.2h-1.2zM97.8 351.8h1.2v1.2h-1.2zM105.1 342.2h1.2v1.2h-1.2zM96.7 355.1h1.2v1.2h-1.2zM91.6 361.7h1.2v1.2h-1.2zM103.4 342.2h1.2v1.2h-1.2zM90.0 345.7h1.2v1.2h-1.2zM102.7 335.4h1.2v1.2h-1.2zM103.0 348.1h1.2v1.2h-1.2zM90.7 363.4h1.2v1.2h-1.2zM101.8 342.8h1.2v1.2h-1.2zM99.5 350.0h1.2v1.2h-1.2zM99.3 335.0h1.2v1.2h-1.2zM96.1 347.3h1.2v1.2h-1.2zM91.8 347.5h1.2v1.2h-1.2zM94.6 355.7h1.2v1.2h-1.2zM98.5 351.8h1.2v1.2h-1.2zM107.1 335.3h1.2v1.2h-1.2zM103.2 351.5h1.2v1.2h-1.2zM101.8 344.6h1.2v1.2h-1.2zM95.4 350.7h1.2v1.2h-1.2zM104.3 330.6h1.2v1.2h-1.2zM87.9 352.4h1.2v1.2h-1.2zM107.6 332.1h1.2v1.2h-1.2zM98.6 340.6h1.2v1.2h-1.2zM100.1 349.1h1.2v1.2h-1.2zM102.4 345.1h1.2v1.2h-1.2zM96.7 363.5h1.2v1.2h-1.2zM89.8 361.4h1.2v1.2h-1.2zM94.6 347.8h1.2v1.2h-1.2zM90.1 343.2h1.2v1.2h-1.2zM100.7 341.9h1.2v1.2h-1.2zM95.6 339.9h1.2v1.2h-1.2zM94.9 340.7h1.2v1.2h-1.2zM90.5 367.1h1.2v1.2h-1.2zM95.8 356.0h1.2v1.2h-1.2zM105.7 349.6h1.2v1.2h-1.2zM93.2 355.9h1.2v1.2h-1.2zM91.4 355.1h1.2v1.2h-1.2zM97.4 349.8h1.2v1.2h-1.2zM94.9 356.3h1.2v1.2h-1.2zM104.0 354.3h1.2v1.2h-1.2zM99.8 345.0h1.2v1.2h-1.2zM96.1 350.6h1.2v1.2h-1.2zM101.4 339.0h1.2v1.2h-1.2zM97.7 338.4h1.2v1.2h-1.2zM95.4 341.0h1.2v1.2h-1.2zM98.5 341.8h1.2v1.2h-1.2zM94.5 342.3h1.2v1.2h-1.2zM95.0 356.2h1.2v1.2h-1.2zM101.4 335.4h1.2v1.2h-1.2zM98.1 357.6h1.2v1.2h-1.2zM107.1 350.5h1.2v1.2h-1.2zM93.5 353.5h1.2v1.2h-1.2zM100.6 338.7h1.2v1.2h-1.2zM97.9 366.1h1.2v1.2h-1.2zM104.7 330.0h1.2v1.2h-1.2zM103.4 339.2h1.2v1.2h-1.2zM97.1 333.9h1.2v1.2h-1.2zM99.0 351.4h1.2v1.2h-1.2zM104.8 346.9h1.2v1.2h-1.2zM105.6 360.5h1.2v1.2h-1.2zM97.8 343.2h1.2v1.2h-1.2zM93.5 342.5h1.2v1.2h-1.2zM99.7 337.0h1.2v1.2h-1.2zM106.7 336.1h1.2v1.2h-1.2zM107.5 344.2h1.2v1.2h-1.2zM92.3 358.8h1.2v1.2h-1.2zM104.0 348.0h1.2v1.2h-1.2zM99.3 334.3h1.2v1.2h-1.2zM98.6 355.5h1.2v1.2h-1.2zM100.4 342.6h1.2v1.2h-1.2zM95.3 359.4h1.2v1.2h-1.2zM96.2 355.1h1.2v1.2h-1.2zM95.8 325.2h1.2v1.2h-1.2zM99.5 344.3h1.2v1.2h-1.2zM88.7 352.3h1.2v1.2h-1.2zM97.4 355.4h1.2v1.2h-1.2zM90.2 342.1h1.2v1.2h-1.2zM97.4 358.3h1.2v1.2h-1.2zM93.8 340.8h1.2v1.2h-1.2zM104.7 338.4h1.2v1.2h-1.2zM97.6 343.8h1.2v1.2h-1.2zM102.6 358.6h1.2v1.2h-1.2zM105.6 344.3h1.2v1.2h-1.2zM104.5 331.5h1.2v1.2h-1.2zM88.9 347.3h1.2v1.2h-1.2zM89.0 366.2h1.2v1.2h-1.2zM92.1 344.9h1.2v1.2h-1.2zM90.6 355.6h1.2v1.2h-1.2zM90.3 359.3h1.2v1.2h-1.2zM79.3 326.1h1.2v1.2h-1.2zM86.9 361.6h1.2v1.2h-1.2zM82.0 337.4h1.2v1.2h-1.2zM82.6 342.8h1.2v1.2h-1.2zM84.2 333.8h1.2v1.2h-1.2zM85.0 338.1h1.2v1.2h-1.2zM83.5 359.5h1.2v1.2h-1.2zM83.6 365.1h1.2v1.2h-1.2zM88.9 346.7h1.2v1.2h-1.2zM67.3 356.4h1.2v1.2h-1.2zM57.8 344.4h1.2v1.2h-1.2zM76.2 359.0h1.2v1.2h-1.2zM54.5 339.6h1.2v1.2h-1.2zM54.9 344.8h1.2v1.2h-1.2zM69.2 356.0h1.2v1.2h-1.2zM58.4 352.4h1.2v1.2h-1.2zM62.0 356.2h1.2v1.2h-1.2zM58.6 344.4h1.2v1.2h-1.2zM63.9 348.5h1.2v1.2h-1.2zM63.8 342.8h1.2v1.2h-1.2zM54.7 344.3h1.2v1.2h-1.2zM56.2 346.3h1.2v1.2h-1.2zM49.4 344.3h1.2v1.2h-1.2zM50.7 347.8h1.2v1.2h-1.2zM67.9 345.4h1.2v1.2h-1.2zM45.0 361.6h1.2v1.2h-1.2zM62.6 326.5h1.2v1.2h-1.2zM64.4 349.8h1.2v1.2h-1.2zM43.8 334.4h1.2v1.2h-1.2zM52.3 351.0h1.2v1.2h-1.2zM43.9 333.7h1.2v1.2h-1.2zM57.2 349.8h1.2v1.2h-1.2zM62.8 333.1h1.2v1.2h-1.2zM54.5 338.5h1.2v1.2h-1.2zM64.7 342.9h1.2v1.2h-1.2zM72.5 348.9h1.2v1.2h-1.2zM59.5 349.3h1.2v1.2h-1.2zM58.1 353.5h1.2v1.2h-1.2zM53.1 345.2h1.2v1.2h-1.2zM60.1 330.8h1.2v1.2h-1.2zM56.0 348.8h1.2v1.2h-1.2zM62.7 325.3h1.2v1.2h-1.2zM60.3 343.9h1.2v1.2h-1.2zM52.0 359.7h1.2v1.2h-1.2zM57.1 344.8h1.2v1.2h-1.2zM49.9 349.4h1.2v1.2h-1.2zM62.6 321.0h1.2v1.2h-1.2zM71.4 321.4h1.2v1.2h-1.2zM58.6 318.1h1.2v1.2h-1.2zM55.8 310.3h1.2v1.2h-1.2z" fill="#46fa32"/>
<path d="M101.7 317.5h1.2v1.2h-1.2zM98.5 316.4h1.2v1.2h-1.2zM81.2 307.7h1.2v1.2h-1.2zM92.7 302.0h1.2v1.2h-1.2zM94.0 313.8h1.2v1.2h-1.2zM99.0 306.6h1.2v1.2h-1.2zM82.2 312.6h1.2v1.2h-1.2zM93.7 319.8h1.2v1.2h-1.2zM93.2 319.2h1.2v1.2h-1.2zM97.2 315.4h1.2v1.2h-1.2zM84.6 309.0h1.2v1.2h-1.2zM106.9 309.0h1.2v1.2h-1.2zM85.0 315.0h1.2v1.2h-1.2zM43.9 343.5h1.2v1.2h-1.2zM55.0 333.3h1.2v1.2h-1.2zM58.4 345.6h1.2v1.2h-1.2zM72.4 362.0h1.2v1.2h-1.2zM63.6 365.9h1.2v1.2h-1.2zM59.0 341.9h1.2v1.2h-1.2zM44.6 342.7h1.2v1.2h-1.2zM75.4 361.6h1.2v1.2h-1.2zM46.9 336.5h1.2v1.2h-1.2zM43.2 347.2h1.2v1.2h-1.2zM61.0 322.9h1.2v1.2h-1.2zM60.9 314.1h1.2v1.2h-1.2zM64.1 319.6h1.2v1.2h-1.2zM62.2 325.2h1.2v1.2h-1.2zM66.0 314.3h1.2v1.2h-1.2zM65.2 322.4h1.2v1.2h-1.2zM57.6 320.7h1.2v1.2h-1.2z" fill="#befa32"/>
<path d="M82.7 302.7h1.2v1.2h-1.2zM91.4 311.9h1.2v1.2h-1.2zM90.8 312.6h1.2v1.2h-1.2zM95.7 308.4h1.2v1.2h-1.2zM62.1 345.6h1.2v1.2h-1.2zM63.4 363.1h1.2v1.2h-1.2zM59.6 333.9h1.2v1.2h-1.2zM45.9 353.8h1.2v1.2h-1.2zM50.9 325.1h1.2v1.2h-1.2zM55.0 348.2h1.2v1.2h-1.2zM41.2 343.9h1.2v1.2h-1.2zM45.0 328.3h1.2v1.2h-1.2zM47.7 342.9h1.2v1.2h-1.2zM49.2 344.5h1.2v1.2h-1.2zM76.0 332.0h1.2v1.2h-1.2zM52.1 320.4h1.2v1.2h-1.2zM48.5 318.0h1.2v1.2h-1.2zM60.8 316.8h1.2v1.2h-1.2zM51.8 326.2h1.2v1.2h-1.2zM71.2 321.9h1.2v1.2h-1.2z" fill="#96fa32"/>
<path d="M96.5 318.8h1.2v1.2h-1.2zM83.3 304.2h1.2v1.2h-1.2zM84.8 318.2h1.2v1.2h-1.2zM99.7 315.7h1.2v1.2h-1.2zM93.0 307.6h1.2v1.2h-1.2zM89.8 306.1h1.2v1.2h-1.2zM99.1 306.3h1.2v1.2h-1.2zM94.8 308.0h1.2v1.2h-1.2zM90.3 306.4h1.2v1.2h-1.2zM90.9 313.3h1.2v1.2h-1.2zM95.9 313.3h1.2v1.2h-1.2zM93.9 354.2h1.2v1.2h-1.2zM101.5 350.2h1.2v1.2h-1.2zM102.2 339.5h1.2v1.2h-1.2zM99.6 349.6h1.2v1.2h-1.2zM96.2 348.0h1.2v1.2h-1.2zM101.6 345.2h1.2v1.2h-1.2zM92.8 354.1h1.2v1.2h-1.2zM95.2 355.7h1.2v1.2h-1.2zM99.4 333.4h1.2v1.2h-1.2zM89.7 350.5h1.2v1.2h-1.2zM91.4 350.9h1.2v1.2h-1.2zM103.5 337.7h1.2v1.2h-1.2zM94.8 354.1h1.2v1.2h-1.2zM94.7 342.4h1.2v1.2h-1.2zM103.6 326.1h1.2v1.2h-1.2zM96.1 360.4h1.2v1.2h-1.2zM95.7 343.4h1.2v1.2h-1.2zM100.3 352.5h1.2v1.2h-1.2zM103.9 343.9h1.2v1.2h-1.2zM90.5 355.4h1.2v1.2h-1.2zM50.4 344.3h1.2v1.2h-1.2zM55.0 361.9h1.2v1.2h-1.2zM60.1 364.5h1.2v1.2h-1.2zM56.7 354.4h1.2v1.2h-1.2zM45.6 346.7h1.2v1.2h-1.2zM50.9 345.5h1.2v1.2h-1.2zM42.5 341.7h1.2v1.2h-1.2zM49.5 356.4h1.2v1.2h-1.2zM50.0 345.5h1.2v1.2h-1.2zM77.4 345.2h1.2v1.2h-1.2zM58.6 348.8h1.2v1.2h-1.2zM52.8 341.7h1.2v1.2h-1.2zM60.1 355.1h1.2v1.2h-1.2zM67.6 352.0h1.2v1.2h-1.2zM39.5 359.8h1.2v1.2h-1.2zM50.2 343.3h1.2v1.2h-1.2zM48.4 341.8h1.2v1.2h-1.2zM58.5 326.8h1.2v1.2h-1.2zM46.7 332.6h1.2v1.2h-1.2zM64.0 365.0h1.2v1.2h-1.2zM60.2 346.5h1.2v1.2h-1.2zM57.3 353.2h1.2v1.2h-1.2zM70.8 358.5h1.2v1.2h-1.2zM53.6 325.5h1.2v1.2h-1.2zM62.9 318.5h1.2v1.2h-1.2zM43.9 320.3h1.2v1.2h-1.2zM66.9 321.6h1.2v1.2h-1.2zM55.9 319.3h1.2v1.2h-1.2zM66.1 317.7h1.2v1.2h-1.2z" fill="#6efa32"/>
<path d="M81.0 310.6h1.2v1.2h-1.2zM86.7 307.4h1.2v1.2h-1.2zM105.4 307.4h1.2v1.2h-1.2zM93.2 317.6h1.2v1.2h-1.2zM89.4 306.6h1.2v1.2h-1.2zM102.9 332.6h1.2v1.2h-1.2zM105.0 333.2h1.2v1.2h-1.2zM92.6 348.0h1.2v1.2h-1.2zM92.5 344.5h1.2v1.2h-1.2zM88.6 359.0h1.2v1.2h-1.2zM94.5 362.6h1.2v1.2h-1.2zM108.6 355.9h1.2v1.2h-1.2zM108.0 343.2h1.2v1.2h-1.2zM104.0 340.9h1.2v1.2h-1.2zM102.7 331.8h1.2v1.2h-1.2zM96.8 352.2h1.2v1.2h-1.2zM94.4 346.6h1.2v1.2h-1.2zM102.5 341.8h1.2v1.2h-1.2zM108.1 335.9h1.2v1.2h-1.2zM93.7 349.1h1.2v1.2h-1.2zM100.0 342.9h1.2v1.2h-1.2zM100.6 331.6h1.2v1.2h-1.2zM99.6 329.8h1.2v1.2h-1.2zM102.6 330.0h1.2v1.2h-1.2zM88.1 363.1h1.2v1.2h-1.2zM96.2 354.2h1.2v1.2h-1.2zM98.5 348.9h1.2v1.2h-1.2zM102.8 332.3h1.2v1.2h-1.2zM91.3 353.6h1.2v1.2h-1.2zM103.1 333.1h1.2v1.2h-1.2zM88.2 357.0h1.2v1.2h-1.2zM106.7 348.9h1.2v1.2h-1.2zM99.1 342.9h1.2v1.2h-1.2zM88.6 356.2h1.2v1.2h-1.2zM82.0 357.4h1.2v1.2h-1.2zM45.8 353.5h1.2v1.2h-1.2zM65.8 339.1h1.2v1.2h-1.2zM68.7 343.7h1.2v1.2h-1.2zM68.7 343.4h1.2v1.2h-1.2zM44.0 341.7h1.2v1.2h-1.2zM54.9 343.5h1.2v1.2h-1.2zM57.3 346.8h1.2v1.2h-1.2zM36.2 345.5h1.2v1.2h-1.2zM67.7 338.4h1.2v1.2h-1.2zM56.3 339.6h1.2v1.2h-1.2zM42.5 355.3h1.2v1.2h-1.2zM60.6 353.1h1.2v1.2h-1.2zM72.5 366.5h1.2v1.2h-1.2zM50.5 369.0h1.2v1.2h-1.2zM62.6 344.7h1.2v1.2h-1.2zM71.6 355.1h1.2v1.2h-1.2zM51.3 345.7h1.2v1.2h-1.2zM71.9 344.6h1.2v1.2h-1.2zM54.9 344.3h1.2v1.2h-1.2z" fill="#5afa32"/>
<path d="M87.1 315.2h1.2v1.2h-1.2zM94.7 346.8h1.2v1.2h-1.2zM91.9 350.3h1.2v1.2h-1.2zM99.1 337.1h1.2v1.2h-1.2zM100.5 342.3h1.2v1.2h-1.2zM99.1 349.9h1.2v1.2h-1.2zM99.3 338.3h1.2v1.2h-1.2zM88.2 347.3h1.2v1.2h-1.2zM103.3 338.4h1.2v1.2h-1.2zM98.4 353.4h1.2v1.2h-1.2zM96.3 368.6h1.2v1.2h-1.2zM99.3 331.9h1.2v1.2h-1.2zM93.3 354.0h1.2v1.2h-1.2zM99.2 341.5h1.2v1.2h-1.2zM100.6 344.2h1.2v1.2h-1.2zM107.2 340.8h1.2v1.2h-1.2zM104.9 333.8h1.2v1.2h-1.2zM97.1 350.6h1.2v1.2h-1.2zM94.0 332.4h1.2v1.2h-1.2zM99.3 353.8h1.2v1.2h-1.2zM105.4 331.2h1.2v1.2h-1.2zM100.4 351.4h1.2v1.2h-1.2zM103.1 333.1h1.2v1.2h-1.2zM91.0 352.9h1.2v1.2h-1.2zM99.6 355.9h1.2v1.2h-1.2zM102.3 345.4h1.2v1.2h-1.2zM82.1 352.5h1.2v1.2h-1.2zM83.5 353.3h1.2v1.2h-1.2zM85.4 354.2h1.2v1.2h-1.2zM88.5 353.2h1.2v1.2h-1.2zM86.1 335.2h1.2v1.2h-1.2zM80.4 357.5h1.2v1.2h-1.2zM61.5 339.8h1.2v1.2h-1.2zM71.6 353.0h1.2v1.2h-1.2zM76.5 357.0h1.2v1.2h-1.2zM57.0 341.1h1.2v1.2h-1.2zM53.1 346.2h1.2v1.2h-1.2z" fill="#46e632"/>
<path d="M95.5 313.3h1.2v1.2h-1.2zM99.7 339.6h1.2v1.2h-1.2zM92.1 342.4h1.2v1.2h-1.2zM98.0 353.7h1.2v1.2h-1.2zM94.0 351.6h1.2v1.2h-1.2zM99.5 349.0h1.2v1.2h-1.2zM102.3 332.1h1.2v1.2h-1.2zM88.1 345.1h1.2v1.2h-1.2zM107.7 338.2h1.2v1.2h-1.2zM102.9 342.1h1.2v1.2h-1.2zM98.8 337.8h1.2v1.2h-1.2zM103.8 329.9h1.2v1.2h-1.2zM97.9 344.3h1.2v1.2h-1.2zM100.5 343.2h1.2v1.2h-1.2zM91.7 348.2h1.2v1.2h-1.2zM96.8 340.6h1.2v1.2h-1.2zM107.4 337.7h1.2v1.2h-1.2zM97.2 350.1h1.2v1.2h-1.2zM101.6 347.2h1.2v1.2h-1.2zM98.9 359.6h1.2v1.2h-1.2zM94.4 343.9h1.2v1.2h-1.2zM100.1 335.5h1.2v1.2h-1.2zM97.9 351.2h1.2v1.2h-1.2zM95.4 347.3h1.2v1.2h-1.2zM91.4 352.0h1.2v1.2h-1.2zM102.6 335.5h1.2v1.2h-1.2zM85.9 354.6h1.2v1.2h-1.2zM87.9 355.3h1.2v1.2h-1.2zM97.8 345.9h1.2v1.2h-1.2zM100.0 343.3h1.2v1.2h-1.2zM102.1 335.6h1.2v1.2h-1.2zM93.6 353.5h1.2v1.2h-1.2zM101.2 356.3h1.2v1.2h-1.2zM96.8 339.8h1.2v1.2h-1.2zM95.6 354.4h1.2v1.2h-1.2zM96.1 352.8h1.2v1.2h-1.2zM98.0 356.9h1.2v1.2h-1.2zM93.5 363.0h1.2v1.2h-1.2zM95.7 333.3h1.2v1.2h-1.2zM107.4 346.3h1.2v1.2h-1.2zM98.9 357.0h1.2v1.2h-1.2zM94.1 356.4h1.2v1.2h-1.2zM90.8 359.9h1.2v1.2h-1.2zM93.5 348.9h1.2v1.2h-1.2zM98.3 336.5h1.2v1.2h-1.2zM96.0 345.8h1.2v1.2h-1.2zM102.5 329.3h1.2v1.2h-1.2zM89.1 352.8h1.2v1.2h-1.2zM99.4 346.3h1.2v1.2h-1.2zM105.2 340.5h1.2v1.2h-1.2zM102.6 342.6h1.2v1.2h-1.2zM94.9 357.4h1.2v1.2h-1.2zM85.2 360.9h1.2v1.2h-1.2zM104.0 339.8h1.2v1.2h-1.2zM99.1 345.4h1.2v1.2h-1.2zM102.8 349.5h1.2v1.2h-1.2zM93.6 351.3h1.2v1.2h-1.2zM100.4 342.5h1.2v1.2h-1.2zM97.2 358.5h1.2v1.2h-1.2zM106.3 344.5h1.2v1.2h-1.2zM93.5 341.4h1.2v1.2h-1.2zM94.7 345.8h1.2v1.2h-1.2zM87.5 359.2h1.2v1.2h-1.2zM104.1 334.9h1.2v1.2h-1.2zM103.7 326.4h1.2v1.2h-1.2zM96.0 347.2h1.2v1.2h-1.2zM91.8 357.3h1.2v1.2h-1.2zM92.3 362.2h1.2v1.2h-1.2zM95.9 358.1h1.2v1.2h-1.2zM100.7 345.7h1.2v1.2h-1.2zM96.1 347.2h1.2v1.2h-1.2zM84.0 359.2h1.2v1.2h-1.2zM103.4 348.9h1.2v1.2h-1.2zM102.6 348.8h1.2v1.2h-1.2zM92.7 344.1h1.2v1.2h-1.2zM99.3 350.2h1.2v1.2h-1.2zM93.7 352.1h1.2v1.2h-1.2zM97.1 336.2h1.2v1.2h-1.2zM105.8 340.9h1.2v1.2h-1.2zM93.4 339.5h1.2v1.2h-1.2zM102.0 348.7h1.2v1.2h-1.2zM98.1 346.2h1.2v1.2h-1.2zM99.9 341.6h1.2v1.2h-1.2zM98.8 350.9h1.2v1.2h-1.2zM95.9 347.9h1.2v1.2h-1.2zM94.2 339.9h1.2v1.2h-1.2zM98.4 338.1h1.2v1.2h-1.2zM108.8 338.2h1.2v1.2h-1.2zM103.2 333.7h1.2v1.2h-1.2zM99.2 338.9h1.2v1.2h-1.2zM94.9 345.8h1.2v1.2h-1.2zM103.9 344.5h1.2v1.2h-1.2zM106.9 336.4h1.2v1.2h-1.2zM91.4 349.4h1.2v1.2h-1.2zM102.2 354.1h1.2v1.2h-1.2zM95.0 350.9h1.2v1.2h-1.2zM92.9 354.8h1.2v1.2h-1.2zM97.2 353.7h1.2v1.2h-1.2zM97.8 345.9h1.2v1.2h-1.2zM99.8 348.9h1.2v1.2h-1.2zM88.6 354.3h1.2v1.2h-1.2zM98.7 343.1h1.2v1.2h-1.2zM103.0 336.1h1.2v1.2h-1.2zM96.7 359.0h1.2v1.2h-1.2zM95.5 355.4h1.2v1.2h-1.2zM94.5 351.4h1.2v1.2h-1.2zM105.3 338.5h1.2v1.2h-1.2zM94.1 350.7h1.2v1.2h-1.2zM93.6 340.3h1.2v1.2h-1.2zM100.6 344.0h1.2v1.2h-1.2zM107.4 332.9h1.2v1.2h-1.2zM99.3 340.1h1.2v1.2h-1.2zM104.0 343.4h1.2v1.2h-1.2zM103.3 344.1h1.2v1.2h-1.2zM103.4 350.3h1.2v1.2h-1.2zM100.1 335.3h1.2v1.2h-1.2zM101.1 350.8h1.2v1.2h-1.2zM96.2 349.6h1.2v1.2h-1.2zM96.1 349.1h1.2v1.2h-1.2zM95.4 349.7h1.2v1.2h-1.2zM103.3 340.2h1.2v1.2h-1.2zM95.6 357.8h1.2v1.2h-1.2zM88.2 354.9h1.2v1.2h-1.2zM93.4 355.7h1.2v1.2h-1.2zM97.3 342.0h1.2v1.2h-1.2zM97.9 332.0h1.2v1.2h-1.2zM91.4 356.8h1.2v1.2h-1.2zM98.6 351.2h1.2v1.2h-1.2zM93.4 352.7h1.2v1.2h-1.2zM102.0 359.4h1.2v1.2h-1.2zM95.2 354.6h1.2v1.2h-1.2zM99.2 349.4h1.2v1.2h-1.2zM99.2 361.7h1.2v1.2h-1.2zM95.0 352.7h1.2v1.2h-1.2zM89.8 352.9h1.2v1.2h-1.2zM105.4 342.0h1.2v1.2h-1.2zM98.3 349.1h1.2v1.2h-1.2zM93.7 347.4h1.2v1.2h-1.2zM103.7 334.6h1.2v1.2h-1.2zM92.5 362.9h1.2v1.2h-1.2zM90.1 345.5h1.2v1.2h-1.2zM99.8 344.0h1.2v1.2h-1.2zM101.1 349.7h1.2v1.2h-1.2zM105.8 347.7h1.2v1.2h-1.2zM88.4 335.5h1.2v1.2h-1.2zM83.2 347.3h1.2v1.2h-1.2zM86.5 354.7h1.2v1.2h-1.2zM88.8 359.6h1.2v1.2h-1.2zM92.4 329.2h1.2v1.2h-1.2zM93.9 343.5h1.2v1.2h-1.2zM88.9 339.4h1.2v1.2h-1.2zM79.7 341.9h1.2v1.2h-1.2zM85.3 335.4h1.2v1.2h-1.2zM83.5 345.7h1.2v1.2h-1.2zM85.6 337.6h1.2v1.2h-1.2zM80.1 360.9h1.2v1.2h-1.2zM79.3 348.1h1.2v1.2h-1.2zM85.6 341.6h1.2v1.2h-1.2zM80.4 362.9h1.2v1.2h-1.2zM84.6 340.9h1.2v1.2h-1.2zM95.7 351.1h1.2v1.2h-1.2zM95.2 349.4h1.2v1.2h-1.2zM87.5 351.9h1.2v1.2h-1.2zM83.3 331.2h1.2v1.2h-1.2zM81.8 343.4h1.2v1.2h-1.2zM80.3 360.3h1.2v1.2h-1.2zM49.1 329.4h1.2v1.2h-1.2zM48.7 356.1h1.2v1.2h-1.2zM57.4 347.8h1.2v1.2h-1.2zM56.6 343.1h1.2v1.2h-1.2zM52.8 345.3h1.2v1.2h-1.2zM41.2 340.7h1.2v1.2h-1.2zM47.3 335.9h1.2v1.2h-1.2zM50.5 356.7h1.2v1.2h-1.2zM55.6 362.2h1.2v1.2h-1.2zM61.2 340.1h1.2v1.2h-1.2zM52.4 346.3h1.2v1.2h-1.2zM67.1 346.6h1.2v1.2h-1.2zM65.0 346.8h1.2v1.2h-1.2zM49.4 351.6h1.2v1.2h-1.2zM60.2 349.2h1.2v1.2h-1.2zM45.4 355.4h1.2v1.2h-1.2zM74.1 365.9h1.2v1.2h-1.2zM58.3 351.4h1.2v1.2h-1.2zM60.8 355.7h1.2v1.2h-1.2zM63.4 330.3h1.2v1.2h-1.2zM48.9 340.3h1.2v1.2h-1.2zM64.5 332.3h1.2v1.2h-1.2zM46.1 342.7h1.2v1.2h-1.2zM65.0 360.6h1.2v1.2h-1.2zM48.2 354.0h1.2v1.2h-1.2zM57.7 337.4h1.2v1.2h-1.2zM55.4 356.1h1.2v1.2h-1.2zM67.8 334.7h1.2v1.2h-1.2zM61.2 352.2h1.2v1.2h-1.2zM64.3 336.5h1.2v1.2h-1.2zM57.6 353.9h1.2v1.2h-1.2zM56.6 310.1h1.2v1.2h-1.2zM69.1 320.5h1.2v1.2h-1.2zM77.3 320.8h1.2v1.2h-1.2zM53.7 316.8h1.2v1.2h-1.2zM47.4 321.2h1.2v1.2h-1.2z" fill="#46e646"/>
<path d="M102.2 331.4h1.2v1.2h-1.2zM92.8 336.3h1.2v1.2h-1.2zM82.2 359.4h1.2v1.2h-1.2zM105.7 349.8h1.2v1.2h-1.2zM101.7 345.4h1.2v1.2h-1.2zM100.1 355.0h1.2v1.2h-1.2zM89.4 338.9h1.2v1.2h-1.2zM60.7 343.8h1.2v1.2h-1.2z" fill="#32be6e"/>
<path d="M98.1 323.5h1.2v1.2h-1.2zM99.3 347.0h1.2v1.2h-1.2zM100.2 352.6h1.2v1.2h-1.2zM92.7 342.1h1.2v1.2h-1.2zM93.7 352.2h1.2v1.2h-1.2zM102.9 351.5h1.2v1.2h-1.2zM99.1 337.6h1.2v1.2h-1.2zM93.1 343.2h1.2v1.2h-1.2zM103.6 330.1h1.2v1.2h-1.2zM103.9 342.8h1.2v1.2h-1.2zM96.5 356.6h1.2v1.2h-1.2zM105.6 355.2h1.2v1.2h-1.2zM100.1 334.1h1.2v1.2h-1.2zM93.2 342.4h1.2v1.2h-1.2zM101.8 349.4h1.2v1.2h-1.2zM93.3 359.4h1.2v1.2h-1.2zM95.7 332.3h1.2v1.2h-1.2zM99.5 347.3h1.2v1.2h-1.2zM95.4 338.1h1.2v1.2h-1.2zM96.1 343.9h1.2v1.2h-1.2zM96.3 341.4h1.2v1.2h-1.2zM94.3 358.1h1.2v1.2h-1.2zM103.7 331.5h1.2v1.2h-1.2zM99.6 336.3h1.2v1.2h-1.2zM98.1 343.8h1.2v1.2h-1.2zM102.2 332.3h1.2v1.2h-1.2zM94.9 351.3h1.2v1.2h-1.2zM102.3 339.2h1.2v1.2h-1.2zM102.8 331.4h1.2v1.2h-1.2zM92.6 347.8h1.2v1.2h-1.2zM93.5 355.0h1.2v1.2h-1.2zM103.9 344.0h1.2v1.2h-1.2zM103.5 350.2h1.2v1.2h-1.2zM90.8 356.1h1.2v1.2h-1.2zM102.1 338.9h1.2v1.2h-1.2zM85.3 364.2h1.2v1.2h-1.2zM98.6 323.0h1.2v1.2h-1.2zM99.1 334.4h1.2v1.2h-1.2zM103.5 341.9h1.2v1.2h-1.2zM99.3 346.5h1.2v1.2h-1.2zM84.5 362.0h1.2v1.2h-1.2zM104.8 347.1h1.2v1.2h-1.2zM91.6 348.5h1.2v1.2h-1.2zM93.2 342.9h1.2v1.2h-1.2zM105.4 338.1h1.2v1.2h-1.2zM99.5 346.3h1.2v1.2h-1.2zM102.2 351.7h1.2v1.2h-1.2zM98.4 351.0h1.2v1.2h-1.2zM102.3 342.9h1.2v1.2h-1.2zM85.7 359.8h1.2v1.2h-1.2zM91.3 357.0h1.2v1.2h-1.2zM101.0 346.7h1.2v1.2h-1.2zM98.7 358.2h1.2v1.2h-1.2zM95.3 350.9h1.2v1.2h-1.2zM83.8 366.2h1.2v1.2h-1.2zM92.0 360.2h1.2v1.2h-1.2zM97.0 340.6h1.2v1.2h-1.2zM92.3 342.4h1.2v1.2h-1.2zM90.1 352.7h1.2v1.2h-1.2zM107.1 326.4h1.2v1.2h-1.2zM100.8 342.4h1.2v1.2h-1.2zM102.6 347.8h1.2v1.2h-1.2zM97.9 369.0h1.2v1.2h-1.2zM105.2 337.5h1.2v1.2h-1.2zM101.5 323.3h1.2v1.2h-1.2zM90.5 359.3h1.2v1.2h-1.2zM98.1 352.6h1.2v1.2h-1.2zM93.0 349.0h1.2v1.2h-1.2zM99.6 344.6h1.2v1.2h-1.2zM103.8 335.4h1.2v1.2h-1.2zM101.6 338.3h1.2v1.2h-1.2zM99.0 343.8h1.2v1.2h-1.2zM85.2 348.4h1.2v1.2h-1.2zM103.2 348.1h1.2v1.2h-1.2zM96.0 354.9h1.2v1.2h-1.2zM92.4 356.2h1.2v1.2h-1.2zM100.5 348.3h1.2v1.2h-1.2zM96.1 345.5h1.2v1.2h-1.2zM98.5 353.1h1.2v1.2h-1.2zM102.5 330.5h1.2v1.2h-1.2zM94.6 351.6h1.2v1.2h-1.2zM102.3 351.6h1.2v1.2h-1.2zM99.5 347.1h1.2v1.2h-1.2zM89.5 350.3h1.2v1.2h-1.2zM103.3 344.8h1.2v1.2h-1.2zM103.1 341.7h1.2v1.2h-1.2zM95.3 358.5h1.2v1.2h-1.2zM103.3 349.0h1.2v1.2h-1.2zM104.6 337.2h1.2v1.2h-1.2zM95.4 355.5h1.2v1.2h-1.2zM95.6 359.8h1.2v1.2h-1.2zM97.6 361.7h1.2v1.2h-1.2zM96.1 343.9h1.2v1.2h-1.2zM91.2 351.6h1.2v1.2h-1.2zM95.7 348.6h1.2v1.2h-1.2zM97.5 343.1h1.2v1.2h-1.2zM102.2 335.1h1.2v1.2h-1.2zM95.8 341.9h1.2v1.2h-1.2zM96.6 362.2h1.2v1.2h-1.2zM96.2 348.3h1.2v1.2h-1.2zM90.0 346.5h1.2v1.2h-1.2zM89.1 361.5h1.2v1.2h-1.2zM90.2 348.6h1.2v1.2h-1.2zM87.6 358.4h1.2v1.2h-1.2zM103.2 344.3h1.2v1.2h-1.2zM105.0 336.4h1.2v1.2h-1.2zM97.7 325.4h1.2v1.2h-1.2zM89.2 352.0h1.2v1.2h-1.2zM105.0 339.2h1.2v1.2h-1.2zM94.3 346.0h1.2v1.2h-1.2zM107.8 335.6h1.2v1.2h-1.2zM95.8 348.3h1.2v1.2h-1.2zM91.1 365.9h1.2v1.2h-1.2zM94.1 346.3h1.2v1.2h-1.2zM91.9 343.5h1.2v1.2h-1.2zM105.0 334.2h1.2v1.2h-1.2zM91.7 354.4h1.2v1.2h-1.2zM97.9 340.7h1.2v1.2h-1.2zM99.9 350.8h1.2v1.2h-1.2zM95.7 335.3h1.2v1.2h-1.2zM99.7 352.6h1.2v1.2h-1.2zM99.0 342.4h1.2v1.2h-1.2zM105.9 343.5h1.2v1.2h-1.2zM102.1 334.8h1.2v1.2h-1.2zM96.7 354.7h1.2v1.2h-1.2zM91.6 351.6h1.2v1.2h-1.2zM98.5 332.0h1.2v1.2h-1.2zM98.6 336.3h1.2v1.2h-1.2zM91.6 345.6h1.2v1.2h-1.2zM88.0 357.1h1.2v1.2h-1.2zM106.3 349.4h1.2v1.2h-1.2zM102.2 337.1h1.2v1.2h-1.2zM92.2 344.5h1.2v1.2h-1.2zM87.3 343.8h1.2v1.2h-1.2zM104.4 336.4h1.2v1.2h-1.2zM94.4 352.5h1.2v1.2h-1.2zM98.4 350.5h1.2v1.2h-1.2zM89.6 338.4h1.2v1.2h-1.2zM97.3 334.8h1.2v1.2h-1.2zM102.7 343.5h1.2v1.2h-1.2zM97.4 351.4h1.2v1.2h-1.2zM101.5 352.5h1.2v1.2h-1.2zM95.9 353.4h1.2v1.2h-1.2zM101.1 332.8h1.2v1.2h-1.2zM102.5 339.5h1.2v1.2h-1.2zM102.0 346.3h1.2v1.2h-1.2zM98.8 344.3h1.2v1.2h-1.2zM105.6 351.8h1.2v1.2h-1.2zM97.2 344.4h1.2v1.2h-1.2zM95.7 345.1h1.2v1.2h-1.2zM99.8 349.4h1.2v1.2h-1.2zM87.9 337.5h1.2v1.2h-1.2zM96.7 338.2h1.2v1.2h-1.2zM101.8 344.1h1.2v1.2h-1.2zM99.4 333.0h1.2v1.2h-1.2zM103.0 339.5h1.2v1.2h-1.2zM98.5 355.4h1.2v1.2h-1.2zM108.3 335.4h1.2v1.2h-1.2zM99.7 329.9h1.2v1.2h-1.2zM98.9 351.5h1.2v1.2h-1.2zM97.3 338.4h1.2v1.2h-1.2zM87.2 348.6h1.2v1.2h-1.2zM94.6 352.0h1.2v1.2h-1.2zM97.2 353.8h1.2v1.2h-1.2zM101.8 341.2h1.2v1.2h-1.2zM96.2 356.0h1.2v1.2h-1.2zM101.6 340.8h1.2v1.2h-1.2zM102.9 336.9h1.2v1.2h-1.2zM87.6 344.6h1.2v1.2h-1.2zM92.9 349.7h1.2v1.2h-1.2zM86.9 344.3h1.2v1.2h-1.2zM87.8 354.0h1.2v1.2h-1.2zM82.2 363.5h1.2v1.2h-1.2zM94.6 340.3h1.2v1.2h-1.2zM79.3 346.4h1.2v1.2h-1.2zM87.1 358.5h1.2v1.2h-1.2zM86.7 359.8h1.2v1.2h-1.2zM83.5 354.0h1.2v1.2h-1.2zM87.9 339.3h1.2v1.2h-1.2zM94.8 350.8h1.2v1.2h-1.2zM78.4 352.7h1.2v1.2h-1.2zM80.1 339.7h1.2v1.2h-1.2zM86.1 339.5h1.2v1.2h-1.2zM99.8 358.8h1.2v1.2h-1.2zM87.3 336.7h1.2v1.2h-1.2zM92.1 351.3h1.2v1.2h-1.2zM87.4 353.5h1.2v1.2h-1.2zM82.3 360.5h1.2v1.2h-1.2zM87.2 327.1h1.2v1.2h-1.2zM82.6 338.7h1.2v1.2h-1.2zM81.9 353.0h1.2v1.2h-1.2zM82.8 342.7h1.2v1.2h-1.2zM90.7 341.6h1.2v1.2h-1.2zM91.4 330.1h1.2v1.2h-1.2zM83.7 357.4h1.2v1.2h-1.2zM84.4 351.2h1.2v1.2h-1.2zM90.9 340.9h1.2v1.2h-1.2zM89.6 342.4h1.2v1.2h-1.2zM79.2 338.7h1.2v1.2h-1.2zM92.0 358.2h1.2v1.2h-1.2zM83.5 362.0h1.2v1.2h-1.2zM96.6 348.8h1.2v1.2h-1.2zM90.2 361.1h1.2v1.2h-1.2zM49.3 354.5h1.2v1.2h-1.2zM57.3 347.6h1.2v1.2h-1.2zM60.9 343.0h1.2v1.2h-1.2zM54.9 346.7h1.2v1.2h-1.2zM52.7 344.8h1.2v1.2h-1.2zM60.3 346.9h1.2v1.2h-1.2zM45.6 354.4h1.2v1.2h-1.2zM54.2 355.1h1.2v1.2h-1.2zM62.4 339.4h1.2v1.2h-1.2zM59.6 355.2h1.2v1.2h-1.2zM57.0 352.4h1.2v1.2h-1.2zM65.3 352.5h1.2v1.2h-1.2zM61.7 349.3h1.2v1.2h-1.2zM44.5 336.6h1.2v1.2h-1.2zM55.1 347.4h1.2v1.2h-1.2zM58.7 351.9h1.2v1.2h-1.2zM64.1 346.9h1.2v1.2h-1.2zM56.4 355.4h1.2v1.2h-1.2zM57.4 325.7h1.2v1.2h-1.2zM65.8 363.3h1.2v1.2h-1.2zM49.9 329.7h1.2v1.2h-1.2zM37.6 348.1h1.2v1.2h-1.2zM66.9 342.5h1.2v1.2h-1.2zM62.3 360.0h1.2v1.2h-1.2zM50.6 354.7h1.2v1.2h-1.2zM56.3 348.5h1.2v1.2h-1.2zM49.7 331.6h1.2v1.2h-1.2zM56.4 348.9h1.2v1.2h-1.2zM48.3 333.8h1.2v1.2h-1.2zM68.6 320.1h1.2v1.2h-1.2zM67.6 326.5h1.2v1.2h-1.2zM56.7 320.9h1.2v1.2h-1.2zM43.0 315.7h1.2v1.2h-1.2zM68.6 315.6h1.2v1.2h-1.2zM50.6 320.4h1.2v1.2h-1.2z" fill="#32d246"/>
<path d="M99.1 352.2h1.2v1.2h-1.2zM100.0 338.6h1.2v1.2h-1.2zM97.8 344.7h1.2v1.2h-1.2zM101.4 343.6h1.2v1.2h-1.2zM100.1 329.4h1.2v1.2h-1.2zM96.5 355.1h1.2v1.2h-1.2zM92.5 354.5h1.2v1.2h-1.2zM98.2 352.7h1.2v1.2h-1.2zM100.2 337.6h1.2v1.2h-1.2zM97.9 351.0h1.2v1.2h-1.2zM91.8 365.0h1.2v1.2h-1.2zM95.4 354.0h1.2v1.2h-1.2zM102.7 346.7h1.2v1.2h-1.2zM103.3 352.0h1.2v1.2h-1.2zM98.4 347.1h1.2v1.2h-1.2zM90.3 352.1h1.2v1.2h-1.2zM99.7 359.8h1.2v1.2h-1.2zM100.1 350.9h1.2v1.2h-1.2zM91.4 361.5h1.2v1.2h-1.2zM94.9 332.0h1.2v1.2h-1.2zM91.0 354.5h1.2v1.2h-1.2zM103.8 340.3h1.2v1.2h-1.2zM102.7 337.6h1.2v1.2h-1.2zM106.4 333.6h1.2v1.2h-1.2zM91.7 356.4h1.2v1.2h-1.2zM88.7 370.8h1.2v1.2h-1.2zM102.1 334.7h1.2v1.2h-1.2zM94.1 359.1h1.2v1.2h-1.2zM103.0 351.4h1.2v1.2h-1.2zM92.1 353.2h1.2v1.2h-1.2zM95.7 350.2h1.2v1.2h-1.2zM91.9 347.6h1.2v1.2h-1.2zM97.4 337.7h1.2v1.2h-1.2zM92.3 358.5h1.2v1.2h-1.2zM96.6 351.2h1.2v1.2h-1.2zM103.1 342.7h1.2v1.2h-1.2zM97.6 341.0h1.2v1.2h-1.2zM99.9 345.6h1.2v1.2h-1.2zM92.3 339.6h1.2v1.2h-1.2zM93.2 343.2h1.2v1.2h-1.2zM103.8 342.4h1.2v1.2h-1.2zM87.7 359.5h1.2v1.2h-1.2zM94.3 365.8h1.2v1.2h-1.2zM102.9 341.0h1.2v1.2h-1.2zM97.5 348.6h1.2v1.2h-1.2zM81.7 345.0h1.2v1.2h-1.2zM95.4 351.4h1.2v1.2h-1.2zM82.3 356.4h1.2v1.2h-1.2zM83.5 358.3h1.2v1.2h-1.2zM89.3 334.9h1.2v1.2h-1.2zM96.1 333.5h1.2v1.2h-1.2zM85.4 355.6h1.2v1.2h-1.2zM78.2 346.8h1.2v1.2h-1.2zM86.3 335.2h1.2v1.2h-1.2zM93.6 347.2h1.2v1.2h-1.2zM89.3 349.8h1.2v1.2h-1.2zM88.4 359.2h1.2v1.2h-1.2zM56.9 341.6h1.2v1.2h-1.2zM54.1 344.9h1.2v1.2h-1.2zM36.5 348.4h1.2v1.2h-1.2z" fill="#329682"/>
<path d="M89.8 363.9h1.2v1.2h-1.2zM90.0 352.1h1.2v1.2h-1.2zM98.0 346.0h1.2v1.2h-1.2zM98.8 349.5h1.2v1.2h-1.2zM98.1 340.8h1.2v1.2h-1.2zM95.1 334.5h1.2v1.2h-1.2zM88.9 354.4h1.2v1.2h-1.2zM97.1 344.4h1.2v1.2h-1.2zM90.5 352.6h1.2v1.2h-1.2zM100.4 339.1h1.2v1.2h-1.2zM100.2 345.4h1.2v1.2h-1.2zM97.4 336.6h1.2v1.2h-1.2zM90.4 349.7h1.2v1.2h-1.2zM90.3 358.9h1.2v1.2h-1.2zM93.5 352.2h1.2v1.2h-1.2zM97.8 339.2h1.2v1.2h-1.2zM102.8 346.9h1.2v1.2h-1.2zM101.1 340.7h1.2v1.2h-1.2zM105.6 351.8h1.2v1.2h-1.2zM95.8 364.8h1.2v1.2h-1.2zM95.0 351.1h1.2v1.2h-1.2zM89.3 346.7h1.2v1.2h-1.2zM88.3 340.5h1.2v1.2h-1.2zM90.6 343.0h1.2v1.2h-1.2zM90.9 346.8h1.2v1.2h-1.2zM89.0 346.7h1.2v1.2h-1.2zM85.1 360.0h1.2v1.2h-1.2zM60.3 343.7h1.2v1.2h-1.2z" fill="#328296"/>
<path d="M106.4 326.3h1.2v1.2h-1.2zM103.2 334.8h1.2v1.2h-1.2zM97.1 348.7h1.2v1.2h-1.2zM98.2 350.5h1.2v1.2h-1.2zM102.6 344.1h1.2v1.2h-1.2zM95.3 346.8h1.2v1.2h-1.2zM95.2 334.4h1.2v1.2h-1.2zM101.1 349.5h1.2v1.2h-1.2zM102.9 330.1h1.2v1.2h-1.2zM82.8 354.3h1.2v1.2h-1.2zM100.8 357.4h1.2v1.2h-1.2zM98.2 347.1h1.2v1.2h-1.2zM94.8 348.1h1.2v1.2h-1.2zM93.9 344.1h1.2v1.2h-1.2zM98.4 358.4h1.2v1.2h-1.2zM95.1 343.8h1.2v1.2h-1.2zM103.0 343.8h1.2v1.2h-1.2zM92.4 346.4h1.2v1.2h-1.2zM104.3 326.6h1.2v1.2h-1.2zM106.8 339.2h1.2v1.2h-1.2zM95.5 346.4h1.2v1.2h-1.2zM103.3 344.8h1.2v1.2h-1.2zM96.8 345.6h1.2v1.2h-1.2zM103.1 350.2h1.2v1.2h-1.2zM89.4 350.3h1.2v1.2h-1.2zM90.4 342.5h1.2v1.2h-1.2zM100.9 345.3h1.2v1.2h-1.2zM96.6 352.6h1.2v1.2h-1.2zM95.0 352.4h1.2v1.2h-1.2zM92.7 351.6h1.2v1.2h-1.2zM96.6 348.7h1.2v1.2h-1.2zM104.9 341.2h1.2v1.2h-1.2zM100.6 341.8h1.2v1.2h-1.2zM102.3 343.7h1.2v1.2h-1.2zM95.4 344.3h1.2v1.2h-1.2zM91.7 355.6h1.2v1.2h-1.2zM102.5 335.7h1.2v1.2h-1.2zM91.3 361.7h1.2v1.2h-1.2zM100.5 340.4h1.2v1.2h-1.2zM85.3 354.5h1.2v1.2h-1.2zM103.1 355.3h1.2v1.2h-1.2zM92.2 366.9h1.2v1.2h-1.2zM98.5 330.7h1.2v1.2h-1.2zM86.1 356.9h1.2v1.2h-1.2zM88.5 345.5h1.2v1.2h-1.2zM86.9 367.0h1.2v1.2h-1.2zM82.1 335.2h1.2v1.2h-1.2zM71.2 337.6h1.2v1.2h-1.2zM36.7 342.3h1.2v1.2h-1.2zM47.8 339.8h1.2v1.2h-1.2zM61.9 332.1h1.2v1.2h-1.2zM56.1 339.6h1.2v1.2h-1.2zM67.5 360.7h1.2v1.2h-1.2zM50.0 348.8h1.2v1.2h-1.2zM50.9 351.9h1.2v1.2h-1.2zM52.4 349.4h1.2v1.2h-1.2zM60.7 356.8h1.2v1.2h-1.2zM64.9 344.3h1.2v1.2h-1.2zM53.4 331.8h1.2v1.2h-1.2zM46.6 354.1h1.2v1.2h-1.2z" fill="#3246fa"/>
<path d="M96.1 340.0h1.2v1.2h-1.2zM94.6 342.2h1.2v1.2h-1.2zM99.4 352.2h1.2v1.2h-1.2zM98.4 338.8h1.2v1.2h-1.2zM96.5 339.6h1.2v1.2h-1.2zM104.3 337.9h1.2v1.2h-1.2zM102.7 352.5h1.2v1.2h-1.2zM96.0 348.8h1.2v1.2h-1.2zM95.3 346.4h1.2v1.2h-1.2zM106.6 340.5h1.2v1.2h-1.2zM100.6 337.3h1.2v1.2h-1.2zM101.9 339.7h1.2v1.2h-1.2zM99.4 348.4h1.2v1.2h-1.2zM100.2 339.3h1.2v1.2h-1.2zM100.7 350.2h1.2v1.2h-1.2zM97.4 356.2h1.2v1.2h-1.2zM97.8 344.3h1.2v1.2h-1.2zM97.7 334.7h1.2v1.2h-1.2zM97.2 336.3h1.2v1.2h-1.2zM96.4 334.7h1.2v1.2h-1.2zM99.8 339.6h1.2v1.2h-1.2zM101.1 335.3h1.2v1.2h-1.2zM101.5 331.4h1.2v1.2h-1.2zM95.5 366.0h1.2v1.2h-1.2zM99.1 354.1h1.2v1.2h-1.2zM94.5 347.4h1.2v1.2h-1.2zM90.9 356.9h1.2v1.2h-1.2zM96.3 346.5h1.2v1.2h-1.2zM104.6 334.8h1.2v1.2h-1.2zM94.1 353.0h1.2v1.2h-1.2zM98.1 339.9h1.2v1.2h-1.2zM93.6 344.1h1.2v1.2h-1.2zM91.8 333.4h1.2v1.2h-1.2zM88.1 348.3h1.2v1.2h-1.2zM108.4 326.3h1.2v1.2h-1.2zM93.0 336.2h1.2v1.2h-1.2zM91.5 358.0h1.2v1.2h-1.2zM89.2 344.3h1.2v1.2h-1.2zM88.6 348.4h1.2v1.2h-1.2zM107.2 337.2h1.2v1.2h-1.2zM90.6 361.0h1.2v1.2h-1.2zM97.3 342.8h1.2v1.2h-1.2zM100.9 345.3h1.2v1.2h-1.2zM96.1 353.1h1.2v1.2h-1.2zM99.2 347.0h1.2v1.2h-1.2zM101.4 339.5h1.2v1.2h-1.2zM100.5 342.4h1.2v1.2h-1.2zM86.6 358.7h1.2v1.2h-1.2zM99.2 334.6h1.2v1.2h-1.2zM94.4 350.3h1.2v1.2h-1.2zM100.9 348.1h1.2v1.2h-1.2zM92.7 357.5h1.2v1.2h-1.2zM95.8 329.7h1.2v1.2h-1.2zM88.7 359.2h1.2v1.2h-1.2zM100.7 348.3h1.2v1.2h-1.2zM94.8 348.2h1.2v1.2h-1.2zM96.3 354.1h1.2v1.2h-1.2zM99.3 336.2h1.2v1.2h-1.2zM85.7 369.5h1.2v1.2h-1.2zM100.2 343.0h1.2v1.2h-1.2zM92.3 343.8h1.2v1.2h-1.2zM98.3 347.2h1.2v1.2h-1.2zM102.7 346.3h1.2v1.2h-1.2zM101.4 337.3h1.2v1.2h-1.2zM94.7 338.8h1.2v1.2h-1.2zM93.1 353.0h1.2v1.2h-1.2zM100.3 353.1h1.2v1.2h-1.2zM107.8 330.2h1.2v1.2h-1.2zM106.6 344.8h1.2v1.2h-1.2zM100.8 338.8h1.2v1.2h-1.2zM90.4 348.2h1.2v1.2h-1.2zM102.5 340.7h1.2v1.2h-1.2zM93.0 345.0h1.2v1.2h-1.2zM96.5 352.6h1.2v1.2h-1.2zM95.3 345.2h1.2v1.2h-1.2zM91.6 367.3h1.2v1.2h-1.2zM98.9 342.3h1.2v1.2h-1.2zM94.3 344.8h1.2v1.2h-1.2zM89.6 365.1h1.2v1.2h-1.2zM91.7 357.8h1.2v1.2h-1.2zM85.4 338.5h1.2v1.2h-1.2zM90.0 355.0h1.2v1.2h-1.2zM87.3 347.5h1.2v1.2h-1.2zM90.7 366.4h1.2v1.2h-1.2zM87.5 341.4h1.2v1.2h-1.2zM86.9 339.3h1.2v1.2h-1.2zM88.6 347.5h1.2v1.2h-1.2zM84.8 354.9h1.2v1.2h-1.2zM82.9 352.3h1.2v1.2h-1.2zM81.3 357.0h1.2v1.2h-1.2zM86.6 342.4h1.2v1.2h-1.2zM86.9 359.8h1.2v1.2h-1.2zM89.2 347.4h1.2v1.2h-1.2zM93.3 340.7h1.2v1.2h-1.2zM90.9 351.7h1.2v1.2h-1.2zM86.5 341.3h1.2v1.2h-1.2zM86.6 353.2h1.2v1.2h-1.2zM80.7 359.0h1.2v1.2h-1.2zM90.4 332.3h1.2v1.2h-1.2zM35.3 348.4h1.2v1.2h-1.2zM44.7 339.5h1.2v1.2h-1.2zM38.0 327.2h1.2v1.2h-1.2z" fill="#32aa6e"/>
<path d="M96.2 347.2h1.2v1.2h-1.2zM102.4 351.4h1.2v1.2h-1.2zM97.1 352.8h1.2v1.2h-1.2zM104.6 331.1h1.2v1.2h-1.2zM95.5 350.8h1.2v1.2h-1.2zM103.8 340.2h1.2v1.2h-1.2zM95.6 337.1h1.2v1.2h-1.2zM91.9 356.4h1.2v1.2h-1.2zM100.6 331.6h1.2v1.2h-1.2zM96.1 344.7h1.2v1.2h-1.2zM91.8 344.7h1.2v1.2h-1.2zM88.5 357.3h1.2v1.2h-1.2zM96.1 337.7h1.2v1.2h-1.2zM102.1 353.6h1.2v1.2h-1.2zM91.9 356.5h1.2v1.2h-1.2zM108.7 333.4h1.2v1.2h-1.2zM93.4 344.1h1.2v1.2h-1.2zM108.2 328.1h1.2v1.2h-1.2zM106.8 334.7h1.2v1.2h-1.2zM91.5 365.6h1.2v1.2h-1.2zM101.2 337.5h1.2v1.2h-1.2zM99.4 351.4h1.2v1.2h-1.2zM99.6 328.0h1.2v1.2h-1.2zM79.4 351.9h1.2v1.2h-1.2zM89.0 347.9h1.2v1.2h-1.2zM92.5 337.4h1.2v1.2h-1.2zM86.5 341.2h1.2v1.2h-1.2zM85.9 340.1h1.2v1.2h-1.2zM79.8 355.7h1.2v1.2h-1.2zM38.9 339.6h1.2v1.2h-1.2zM47.8 326.2h1.2v1.2h-1.2zM70.3 339.1h1.2v1.2h-1.2zM55.0 353.2h1.2v1.2h-1.2zM49.1 331.1h1.2v1.2h-1.2zM55.9 332.8h1.2v1.2h-1.2zM65.5 322.2h1.2v1.2h-1.2zM73.9 324.1h1.2v1.2h-1.2zM49.3 311.5h1.2v1.2h-1.2z" fill="#32e646"/>
<path d="M99.8 362.5h1.2v1.2h-1.2zM98.8 344.7h1.2v1.2h-1.2zM88.3 347.9h1.2v1.2h-1.2zM102.7 341.1h1.2v1.2h-1.2zM103.3 348.6h1.2v1.2h-1.2zM103.4 348.8h1.2v1.2h-1.2zM101.3 331.6h1.2v1.2h-1.2zM97.7 352.3h1.2v1.2h-1.2zM104.4 331.0h1.2v1.2h-1.2zM92.8 367.9h1.2v1.2h-1.2zM96.0 348.0h1.2v1.2h-1.2zM97.5 343.9h1.2v1.2h-1.2zM97.9 343.9h1.2v1.2h-1.2zM99.0 353.2h1.2v1.2h-1.2zM97.6 339.3h1.2v1.2h-1.2zM96.3 348.2h1.2v1.2h-1.2zM105.8 327.2h1.2v1.2h-1.2zM105.0 339.1h1.2v1.2h-1.2zM86.8 358.2h1.2v1.2h-1.2zM96.2 347.3h1.2v1.2h-1.2zM96.2 340.7h1.2v1.2h-1.2zM98.4 348.8h1.2v1.2h-1.2zM88.0 355.8h1.2v1.2h-1.2zM99.7 341.8h1.2v1.2h-1.2zM98.0 366.5h1.2v1.2h-1.2zM91.9 352.3h1.2v1.2h-1.2zM93.7 352.4h1.2v1.2h-1.2zM97.3 349.9h1.2v1.2h-1.2zM85.3 359.6h1.2v1.2h-1.2zM93.8 351.1h1.2v1.2h-1.2zM108.3 337.1h1.2v1.2h-1.2zM100.7 348.5h1.2v1.2h-1.2zM94.6 361.0h1.2v1.2h-1.2zM98.2 344.1h1.2v1.2h-1.2zM91.0 357.6h1.2v1.2h-1.2zM96.4 342.9h1.2v1.2h-1.2zM97.7 354.6h1.2v1.2h-1.2zM92.3 353.3h1.2v1.2h-1.2zM98.7 345.2h1.2v1.2h-1.2zM94.5 342.0h1.2v1.2h-1.2zM96.3 347.6h1.2v1.2h-1.2zM105.4 330.5h1.2v1.2h-1.2zM103.3 348.8h1.2v1.2h-1.2zM103.7 340.4h1.2v1.2h-1.2zM101.3 347.7h1.2v1.2h-1.2zM103.4 338.3h1.2v1.2h-1.2zM99.1 347.4h1.2v1.2h-1.2zM97.7 352.8h1.2v1.2h-1.2zM91.8 344.3h1.2v1.2h-1.2zM93.7 354.2h1.2v1.2h-1.2zM90.2 360.1h1.2v1.2h-1.2zM92.6 349.0h1.2v1.2h-1.2zM94.3 353.7h1.2v1.2h-1.2zM95.3 345.8h1.2v1.2h-1.2zM97.2 341.4h1.2v1.2h-1.2zM103.7 331.2h1.2v1.2h-1.2zM101.0 345.5h1.2v1.2h-1.2zM95.2 343.5h1.2v1.2h-1.2zM94.4 354.5h1.2v1.2h-1.2zM103.8 346.4h1.2v1.2h-1.2zM107.4 338.4h1.2v1.2h-1.2zM99.5 346.2h1.2v1.2h-1.2zM87.0 367.3h1.2v1.2h-1.2zM96.1 347.4h1.2v1.2h-1.2zM89.7 344.7h1.2v1.2h-1.2zM87.7 342.9h1.2v1.2h-1.2zM95.4 335.8h1.2v1.2h-1.2zM90.2 361.5h1.2v1.2h-1.2zM88.1 352.1h1.2v1.2h-1.2zM105.1 346.5h1.2v1.2h-1.2zM97.9 339.4h1.2v1.2h-1.2zM95.8 335.0h1.2v1.2h-1.2zM104.9 346.2h1.2v1.2h-1.2zM98.3 338.4h1.2v1.2h-1.2zM99.9 337.4h1.2v1.2h-1.2zM100.5 358.9h1.2v1.2h-1.2zM102.9 327.9h1.2v1.2h-1.2zM99.3 345.1h1.2v1.2h-1.2zM107.3 327.4h1.2v1.2h-1.2zM97.2 343.0h1.2v1.2h-1.2zM108.8 333.7h1.2v1.2h-1.2zM93.0 355.4h1.2v1.2h-1.2zM100.5 349.0h1.2v1.2h-1.2zM105.1 329.7h1.2v1.2h-1.2zM97.1 353.4h1.2v1.2h-1.2zM105.1 341.6h1.2v1.2h-1.2zM101.2 345.5h1.2v1.2h-1.2zM93.2 338.5h1.2v1.2h-1.2zM87.9 353.8h1.2v1.2h-1.2zM82.5 359.7h1.2v1.2h-1.2zM87.1 346.5h1.2v1.2h-1.2zM81.6 327.4h1.2v1.2h-1.2zM83.8 350.2h1.2v1.2h-1.2zM85.3 351.3h1.2v1.2h-1.2zM83.2 360.0h1.2v1.2h-1.2zM83.1 345.6h1.2v1.2h-1.2zM85.2 345.1h1.2v1.2h-1.2zM87.8 341.1h1.2v1.2h-1.2zM83.3 335.9h1.2v1.2h-1.2zM90.3 330.3h1.2v1.2h-1.2zM80.0 347.6h1.2v1.2h-1.2zM83.1 343.6h1.2v1.2h-1.2zM84.0 323.2h1.2v1.2h-1.2zM97.1 352.9h1.2v1.2h-1.2zM87.5 340.6h1.2v1.2h-1.2zM82.7 347.9h1.2v1.2h-1.2zM43.5 355.5h1.2v1.2h-1.2zM48.1 352.9h1.2v1.2h-1.2zM56.7 351.4h1.2v1.2h-1.2zM47.9 349.0h1.2v1.2h-1.2zM56.7 346.8h1.2v1.2h-1.2zM66.9 338.3h1.2v1.2h-1.2zM62.9 331.1h1.2v1.2h-1.2zM51.2 347.9h1.2v1.2h-1.2zM61.4 329.9h1.2v1.2h-1.2zM54.5 341.8h1.2v1.2h-1.2zM57.2 353.4h1.2v1.2h-1.2zM50.0 352.9h1.2v1.2h-1.2zM57.6 345.9h1.2v1.2h-1.2zM52.2 341.4h1.2v1.2h-1.2zM69.7 332.7h1.2v1.2h-1.2zM49.6 337.7h1.2v1.2h-1.2z" fill="#325ad2"/>
<path d="M97.7 341.2h1.2v1.2h-1.2zM86.4 370.3h1.2v1.2h-1.2zM95.9 352.0h1.2v1.2h-1.2zM91.1 356.3h1.2v1.2h-1.2zM94.7 351.6h1.2v1.2h-1.2zM99.7 333.6h1.2v1.2h-1.2zM100.5 353.7h1.2v1.2h-1.2zM100.1 349.7h1.2v1.2h-1.2zM96.2 332.7h1.2v1.2h-1.2zM98.4 340.8h1.2v1.2h-1.2zM95.1 345.5h1.2v1.2h-1.2zM101.6 354.1h1.2v1.2h-1.2zM97.8 342.8h1.2v1.2h-1.2zM107.4 341.3h1.2v1.2h-1.2zM90.2 359.5h1.2v1.2h-1.2zM93.2 348.5h1.2v1.2h-1.2zM89.1 361.5h1.2v1.2h-1.2zM101.4 347.9h1.2v1.2h-1.2zM103.1 345.3h1.2v1.2h-1.2zM91.1 336.3h1.2v1.2h-1.2zM95.1 346.6h1.2v1.2h-1.2zM90.3 364.4h1.2v1.2h-1.2zM98.6 344.1h1.2v1.2h-1.2zM92.0 362.9h1.2v1.2h-1.2zM95.9 338.9h1.2v1.2h-1.2zM96.8 361.5h1.2v1.2h-1.2zM101.6 331.8h1.2v1.2h-1.2zM99.9 357.7h1.2v1.2h-1.2zM95.7 363.7h1.2v1.2h-1.2zM103.9 344.7h1.2v1.2h-1.2zM101.3 346.7h1.2v1.2h-1.2zM101.6 352.2h1.2v1.2h-1.2zM99.9 335.2h1.2v1.2h-1.2zM95.8 356.1h1.2v1.2h-1.2zM96.9 352.9h1.2v1.2h-1.2zM96.9 365.2h1.2v1.2h-1.2zM93.9 342.2h1.2v1.2h-1.2zM88.2 348.6h1.2v1.2h-1.2zM86.6 363.2h1.2v1.2h-1.2zM92.3 347.9h1.2v1.2h-1.2zM99.0 343.6h1.2v1.2h-1.2zM94.4 345.7h1.2v1.2h-1.2zM98.7 362.7h1.2v1.2h-1.2zM103.8 322.9h1.2v1.2h-1.2zM105.0 343.6h1.2v1.2h-1.2zM99.9 343.8h1.2v1.2h-1.2zM98.3 348.9h1.2v1.2h-1.2zM101.7 341.6h1.2v1.2h-1.2zM95.2 347.0h1.2v1.2h-1.2zM94.6 325.2h1.2v1.2h-1.2zM99.6 332.6h1.2v1.2h-1.2zM90.1 358.4h1.2v1.2h-1.2zM102.6 343.2h1.2v1.2h-1.2zM104.4 333.8h1.2v1.2h-1.2zM101.3 347.2h1.2v1.2h-1.2zM82.7 330.8h1.2v1.2h-1.2zM86.5 355.7h1.2v1.2h-1.2zM96.6 356.4h1.2v1.2h-1.2zM83.0 330.0h1.2v1.2h-1.2zM88.4 343.5h1.2v1.2h-1.2zM87.2 346.6h1.2v1.2h-1.2zM85.9 349.6h1.2v1.2h-1.2zM96.0 349.0h1.2v1.2h-1.2zM82.0 363.6h1.2v1.2h-1.2zM88.5 366.4h1.2v1.2h-1.2zM87.3 349.5h1.2v1.2h-1.2zM90.5 355.9h1.2v1.2h-1.2zM90.1 358.8h1.2v1.2h-1.2zM87.3 343.4h1.2v1.2h-1.2zM87.7 342.4h1.2v1.2h-1.2zM82.0 343.3h1.2v1.2h-1.2zM85.5 342.1h1.2v1.2h-1.2zM90.6 362.7h1.2v1.2h-1.2zM68.8 345.7h1.2v1.2h-1.2zM65.1 339.9h1.2v1.2h-1.2zM65.4 336.0h1.2v1.2h-1.2zM61.3 331.8h1.2v1.2h-1.2zM55.2 348.1h1.2v1.2h-1.2zM63.8 332.3h1.2v1.2h-1.2zM53.4 355.2h1.2v1.2h-1.2zM64.5 344.1h1.2v1.2h-1.2zM74.1 356.3h1.2v1.2h-1.2zM47.0 335.0h1.2v1.2h-1.2z" fill="#326ebe"/>
<path d="M86.9 349.0h1.2v1.2h-1.2zM104.3 340.2h1.2v1.2h-1.2zM94.8 353.8h1.2v1.2h-1.2zM94.1 345.5h1.2v1.2h-1.2zM100.5 344.0h1.2v1.2h-1.2zM97.1 356.7h1.2v1.2h-1.2zM105.5 341.8h1.2v1.2h-1.2zM106.6 330.7h1.2v1.2h-1.2zM102.6 340.3h1.2v1.2h-1.2zM85.9 350.2h1.2v1.2h-1.2zM102.1 336.6h1.2v1.2h-1.2zM107.7 327.6h1.2v1.2h-1.2zM99.1 352.5h1.2v1.2h-1.2zM99.5 344.8h1.2v1.2h-1.2zM96.6 340.3h1.2v1.2h-1.2zM98.4 349.9h1.2v1.2h-1.2zM98.6 336.5h1.2v1.2h-1.2zM86.9 352.3h1.2v1.2h-1.2zM103.5 343.9h1.2v1.2h-1.2zM106.8 323.1h1.2v1.2h-1.2zM101.2 344.4h1.2v1.2h-1.2zM93.0 365.3h1.2v1.2h-1.2zM90.7 353.7h1.2v1.2h-1.2zM88.6 344.7h1.2v1.2h-1.2zM90.1 367.7h1.2v1.2h-1.2zM84.6 339.1h1.2v1.2h-1.2zM88.2 347.3h1.2v1.2h-1.2zM79.2 344.9h1.2v1.2h-1.2zM64.9 348.2h1.2v1.2h-1.2zM74.0 343.5h1.2v1.2h-1.2zM55.3 358.4h1.2v1.2h-1.2zM57.9 354.3h1.2v1.2h-1.2zM58.5 335.9h1.2v1.2h-1.2zM53.3 353.5h1.2v1.2h-1.2zM62.7 352.8h1.2v1.2h-1.2zM53.3 341.7h1.2v1.2h-1.2zM67.7 336.7h1.2v1.2h-1.2zM66.1 326.4h1.2v1.2h-1.2zM72.8 345.9h1.2v1.2h-1.2zM58.0 341.9h1.2v1.2h-1.2zM66.4 314.9h1.2v1.2h-1.2z" fill="#326eaa"/>
<path d="M84.7 355.0h1.2v1.2h-1.2zM96.2 335.1h1.2v1.2h-1.2zM99.1 359.7h1.2v1.2h-1.2zM82.1 354.8h1.2v1.2h-1.2zM92.2 360.0h1.2v1.2h-1.2zM97.4 348.7h1.2v1.2h-1.2zM98.3 342.8h1.2v1.2h-1.2zM82.9 362.8h1.2v1.2h-1.2zM95.2 353.5h1.2v1.2h-1.2zM100.0 347.2h1.2v1.2h-1.2zM100.8 348.7h1.2v1.2h-1.2zM91.3 350.5h1.2v1.2h-1.2zM97.5 343.4h1.2v1.2h-1.2zM97.5 347.1h1.2v1.2h-1.2zM87.6 352.6h1.2v1.2h-1.2zM98.2 354.9h1.2v1.2h-1.2zM103.5 334.0h1.2v1.2h-1.2zM87.0 346.9h1.2v1.2h-1.2zM100.0 339.6h1.2v1.2h-1.2zM96.8 367.7h1.2v1.2h-1.2zM100.1 344.5h1.2v1.2h-1.2zM107.1 334.9h1.2v1.2h-1.2zM92.4 333.8h1.2v1.2h-1.2zM102.6 331.1h1.2v1.2h-1.2zM96.6 329.4h1.2v1.2h-1.2zM100.9 349.3h1.2v1.2h-1.2zM100.7 354.5h1.2v1.2h-1.2zM99.8 347.1h1.2v1.2h-1.2zM90.3 358.5h1.2v1.2h-1.2zM99.5 344.2h1.2v1.2h-1.2zM104.5 333.7h1.2v1.2h-1.2zM99.5 329.6h1.2v1.2h-1.2zM95.8 355.9h1.2v1.2h-1.2zM94.8 342.0h1.2v1.2h-1.2zM103.8 343.1h1.2v1.2h-1.2zM103.2 338.2h1.2v1.2h-1.2zM98.5 342.5h1.2v1.2h-1.2zM101.4 343.7h1.2v1.2h-1.2zM94.6 351.7h1.2v1.2h-1.2zM105.7 327.9h1.2v1.2h-1.2zM108.7 334.0h1.2v1.2h-1.2zM101.6 338.1h1.2v1.2h-1.2zM104.1 357.2h1.2v1.2h-1.2zM87.9 353.3h1.2v1.2h-1.2zM92.1 345.7h1.2v1.2h-1.2zM93.3 348.1h1.2v1.2h-1.2zM99.3 342.4h1.2v1.2h-1.2zM98.9 336.0h1.2v1.2h-1.2zM91.9 357.1h1.2v1.2h-1.2zM90.5 356.4h1.2v1.2h-1.2zM89.6 332.8h1.2v1.2h-1.2zM87.5 343.2h1.2v1.2h-1.2zM92.7 342.0h1.2v1.2h-1.2zM84.3 354.1h1.2v1.2h-1.2zM82.4 335.7h1.2v1.2h-1.2zM86.7 351.3h1.2v1.2h-1.2zM83.2 347.1h1.2v1.2h-1.2zM95.0 363.3h1.2v1.2h-1.2zM47.4 330.7h1.2v1.2h-1.2zM53.1 346.4h1.2v1.2h-1.2zM65.6 346.4h1.2v1.2h-1.2zM54.2 368.7h1.2v1.2h-1.2zM54.7 342.0h1.2v1.2h-1.2zM53.9 333.8h1.2v1.2h-1.2zM63.9 350.9h1.2v1.2h-1.2zM57.0 350.1h1.2v1.2h-1.2z" fill="#325ae6"/>
<path d="M98.8 344.9h1.2v1.2h-1.2zM101.6 338.9h1.2v1.2h-1.2zM91.8 346.6h1.2v1.2h-1.2zM97.0 348.9h1.2v1.2h-1.2zM97.5 345.2h1.2v1.2h-1.2zM82.2 365.1h1.2v1.2h-1.2zM92.1 362.7h1.2v1.2h-1.2zM90.4 361.2h1.2v1.2h-1.2zM100.1 347.3h1.2v1.2h-1.2zM104.6 325.2h1.2v1.2h-1.2zM96.4 350.4h1.2v1.2h-1.2zM93.9 340.7h1.2v1.2h-1.2zM84.0 339.2h1.2v1.2h-1.2zM95.4 360.7h1.2v1.2h-1.2zM96.2 351.2h1.2v1.2h-1.2zM99.2 354.0h1.2v1.2h-1.2zM95.9 346.4h1.2v1.2h-1.2zM88.8 349.1h1.2v1.2h-1.2zM97.0 358.8h1.2v1.2h-1.2zM103.0 349.8h1.2v1.2h-1.2zM105.8 341.0h1.2v1.2h-1.2zM107.4 335.2h1.2v1.2h-1.2zM97.3 352.5h1.2v1.2h-1.2zM86.8 345.9h1.2v1.2h-1.2zM93.2 327.5h1.2v1.2h-1.2zM105.7 341.6h1.2v1.2h-1.2zM95.1 347.3h1.2v1.2h-1.2zM92.9 363.1h1.2v1.2h-1.2zM94.6 344.1h1.2v1.2h-1.2zM95.8 345.3h1.2v1.2h-1.2zM108.8 332.6h1.2v1.2h-1.2zM94.3 354.5h1.2v1.2h-1.2zM99.0 346.7h1.2v1.2h-1.2zM99.9 341.2h1.2v1.2h-1.2zM105.4 352.8h1.2v1.2h-1.2zM96.0 347.1h1.2v1.2h-1.2zM101.0 332.4h1.2v1.2h-1.2zM94.1 340.3h1.2v1.2h-1.2zM100.7 349.8h1.2v1.2h-1.2zM97.0 345.2h1.2v1.2h-1.2zM101.2 339.8h1.2v1.2h-1.2zM96.6 348.0h1.2v1.2h-1.2zM106.0 343.8h1.2v1.2h-1.2zM93.7 346.4h1.2v1.2h-1.2zM95.4 358.3h1.2v1.2h-1.2zM100.8 340.4h1.2v1.2h-1.2zM97.8 358.6h1.2v1.2h-1.2zM102.6 340.0h1.2v1.2h-1.2zM100.7 327.4h1.2v1.2h-1.2zM97.6 344.1h1.2v1.2h-1.2zM94.6 349.8h1.2v1.2h-1.2zM100.0 345.5h1.2v1.2h-1.2zM95.7 347.5h1.2v1.2h-1.2zM103.3 347.5h1.2v1.2h-1.2zM84.2 357.7h1.2v1.2h-1.2zM98.4 336.6h1.2v1.2h-1.2zM103.2 344.7h1.2v1.2h-1.2zM106.1 340.4h1.2v1.2h-1.2zM99.6 342.3h1.2v1.2h-1.2zM95.0 356.9h1.2v1.2h-1.2zM96.3 357.0h1.2v1.2h-1.2zM103.8 345.0h1.2v1.2h-1.2zM95.9 342.1h1.2v1.2h-1.2zM94.3 346.3h1.2v1.2h-1.2zM96.9 343.5h1.2v1.2h-1.2zM96.1 354.8h1.2v1.2h-1.2zM101.7 350.0h1.2v1.2h-1.2zM105.8 336.7h1.2v1.2h-1.2zM94.2 364.8h1.2v1.2h-1.2zM98.1 337.2h1.2v1.2h-1.2zM98.0 341.4h1.2v1.2h-1.2zM101.3 347.7h1.2v1.2h-1.2zM101.5 331.5h1.2v1.2h-1.2zM90.0 348.1h1.2v1.2h-1.2zM86.5 347.5h1.2v1.2h-1.2zM106.2 338.5h1.2v1.2h-1.2zM99.4 343.3h1.2v1.2h-1.2zM99.3 336.8h1.2v1.2h-1.2zM94.9 324.9h1.2v1.2h-1.2zM94.0 350.8h1.2v1.2h-1.2zM90.6 339.5h1.2v1.2h-1.2zM98.8 359.5h1.2v1.2h-1.2zM94.7 341.9h1.2v1.2h-1.2zM88.5 353.5h1.2v1.2h-1.2zM94.5 359.9h1.2v1.2h-1.2zM95.3 351.2h1.2v1.2h-1.2zM96.4 350.2h1.2v1.2h-1.2zM101.9 343.4h1.2v1.2h-1.2zM96.2 339.4h1.2v1.2h-1.2zM108.3 330.3h1.2v1.2h-1.2zM90.8 352.4h1.2v1.2h-1.2zM107.8 338.5h1.2v1.2h-1.2zM97.6 337.1h1.2v1.2h-1.2zM99.0 350.2h1.2v1.2h-1.2zM107.0 329.8h1.2v1.2h-1.2zM98.0 357.4h1.2v1.2h-1.2zM93.6 342.4h1.2v1.2h-1.2zM103.1 347.1h1.2v1.2h-1.2zM93.5 344.4h1.2v1.2h-1.2zM92.0 354.0h1.2v1.2h-1.2zM81.4 331.9h1.2v1.2h-1.2zM84.0 342.1h1.2v1.2h-1.2zM88.5 348.4h1.2v1.2h-1.2zM81.7 335.3h1.2v1.2h-1.2zM82.4 330.7h1.2v1.2h-1.2zM80.9 361.4h1.2v1.2h-1.2zM78.2 330.4h1.2v1.2h-1.2zM82.6 355.2h1.2v1.2h-1.2zM86.7 328.4h1.2v1.2h-1.2zM89.1 336.2h1.2v1.2h-1.2zM85.0 347.7h1.2v1.2h-1.2zM89.0 356.9h1.2v1.2h-1.2zM81.1 358.2h1.2v1.2h-1.2zM84.0 331.5h1.2v1.2h-1.2zM88.2 353.3h1.2v1.2h-1.2zM87.1 338.8h1.2v1.2h-1.2zM85.4 352.5h1.2v1.2h-1.2zM84.4 346.5h1.2v1.2h-1.2zM91.8 361.5h1.2v1.2h-1.2zM84.3 354.5h1.2v1.2h-1.2zM78.8 347.4h1.2v1.2h-1.2zM88.4 336.3h1.2v1.2h-1.2zM80.8 364.7h1.2v1.2h-1.2zM86.2 333.1h1.2v1.2h-1.2zM56.1 352.4h1.2v1.2h-1.2zM74.1 339.5h1.2v1.2h-1.2zM58.2 345.3h1.2v1.2h-1.2zM68.9 338.8h1.2v1.2h-1.2zM66.8 350.5h1.2v1.2h-1.2zM50.0 348.1h1.2v1.2h-1.2zM47.4 362.6h1.2v1.2h-1.2zM56.4 335.3h1.2v1.2h-1.2zM64.6 321.2h1.2v1.2h-1.2zM49.9 318.6h1.2v1.2h-1.2zM66.2 314.4h1.2v1.2h-1.2z" fill="#32be5a"/>
<path d="M91.8 355.5h1.2v1.2h-1.2zM82.3 345.0h1.2v1.2h-1.2zM103.8 349.9h1.2v1.2h-1.2zM97.5 345.4h1.2v1.2h-1.2zM101.3 341.3h1.2v1.2h-1.2zM106.3 330.6h1.2v1.2h-1.2zM89.2 354.0h1.2v1.2h-1.2zM89.8 345.2h1.2v1.2h-1.2zM105.2 340.1h1.2v1.2h-1.2zM101.4 337.7h1.2v1.2h-1.2zM103.0 328.8h1.2v1.2h-1.2zM94.0 368.3h1.2v1.2h-1.2zM101.6 342.1h1.2v1.2h-1.2zM92.0 348.9h1.2v1.2h-1.2zM101.2 343.6h1.2v1.2h-1.2zM97.5 356.2h1.2v1.2h-1.2zM93.7 349.2h1.2v1.2h-1.2zM99.4 346.0h1.2v1.2h-1.2zM97.7 343.4h1.2v1.2h-1.2zM94.0 353.8h1.2v1.2h-1.2zM97.7 347.0h1.2v1.2h-1.2zM98.6 352.4h1.2v1.2h-1.2zM99.4 349.2h1.2v1.2h-1.2zM98.3 351.1h1.2v1.2h-1.2zM87.7 359.5h1.2v1.2h-1.2zM95.2 347.7h1.2v1.2h-1.2zM91.7 350.2h1.2v1.2h-1.2zM107.4 339.5h1.2v1.2h-1.2zM97.0 337.3h1.2v1.2h-1.2zM92.8 354.4h1.2v1.2h-1.2zM87.3 349.2h1.2v1.2h-1.2zM103.5 341.4h1.2v1.2h-1.2zM103.7 349.8h1.2v1.2h-1.2zM97.0 346.4h1.2v1.2h-1.2zM103.3 346.2h1.2v1.2h-1.2zM97.0 341.9h1.2v1.2h-1.2zM92.6 335.5h1.2v1.2h-1.2zM95.0 336.9h1.2v1.2h-1.2zM104.8 341.2h1.2v1.2h-1.2zM92.8 352.5h1.2v1.2h-1.2zM93.1 342.6h1.2v1.2h-1.2zM93.0 352.6h1.2v1.2h-1.2zM93.2 356.9h1.2v1.2h-1.2zM99.5 352.8h1.2v1.2h-1.2zM104.8 341.1h1.2v1.2h-1.2zM99.1 342.5h1.2v1.2h-1.2zM91.9 340.6h1.2v1.2h-1.2zM94.3 339.7h1.2v1.2h-1.2zM102.4 348.3h1.2v1.2h-1.2zM87.1 359.6h1.2v1.2h-1.2zM105.7 336.4h1.2v1.2h-1.2zM87.1 346.2h1.2v1.2h-1.2zM101.2 324.9h1.2v1.2h-1.2zM91.7 329.9h1.2v1.2h-1.2zM83.3 342.8h1.2v1.2h-1.2zM89.7 335.0h1.2v1.2h-1.2zM85.7 339.3h1.2v1.2h-1.2zM88.8 350.6h1.2v1.2h-1.2zM86.4 363.3h1.2v1.2h-1.2zM84.9 349.6h1.2v1.2h-1.2zM87.3 338.9h1.2v1.2h-1.2zM88.7 337.5h1.2v1.2h-1.2zM86.0 337.2h1.2v1.2h-1.2zM81.7 330.4h1.2v1.2h-1.2zM88.1 355.7h1.2v1.2h-1.2zM83.7 349.6h1.2v1.2h-1.2zM81.0 346.0h1.2v1.2h-1.2zM65.1 325.1h1.2v1.2h-1.2zM74.2 351.1h1.2v1.2h-1.2zM64.7 350.2h1.2v1.2h-1.2zM59.4 344.3h1.2v1.2h-1.2zM65.8 335.8h1.2v1.2h-1.2zM66.7 346.7h1.2v1.2h-1.2zM62.9 345.0h1.2v1.2h-1.2zM57.4 345.4h1.2v1.2h-1.2zM61.9 334.9h1.2v1.2h-1.2zM56.1 337.4h1.2v1.2h-1.2z" fill="#3246e6"/>
<path d="M103.0 340.1h1.2v1.2h-1.2zM99.0 360.8h1.2v1.2h-1.2zM102.4 359.3h1.2v1.2h-1.2zM104.4 349.4h1.2v1.2h-1.2zM93.4 353.9h1.2v1.2h-1.2zM102.0 339.7h1.2v1.2h-1.2zM101.4 349.0h1.2v1.2h-1.2zM83.8 331.2h1.2v1.2h-1.2zM48.9 329.2h1.2v1.2h-1.2z" fill="#325abe"/>
<path d="M98.9 355.7h1.2v1.2h-1.2zM105.0 327.6h1.2v1.2h-1.2zM101.6 330.6h1.2v1.2h-1.2zM94.2 346.0h1.2v1.2h-1.2z" fill="#32aa82"/>
<path d="M98.9 338.4h1.2v1.2h-1.2zM82.8 351.3h1.2v1.2h-1.2zM97.7 349.7h1.2v1.2h-1.2zM93.8 356.7h1.2v1.2h-1.2zM92.9 348.1h1.2v1.2h-1.2zM55.1 347.7h1.2v1.2h-1.2zM54.7 341.6h1.2v1.2h-1.2zM53.9 341.0h1.2v1.2h-1.2z" fill="#3282aa"/>
<path d="M90.2 358.8h1.2v1.2h-1.2zM95.6 343.8h1.2v1.2h-1.2zM97.2 343.2h1.2v1.2h-1.2z" fill="#32d25a"/>
<path d="M94.2 342.9h1.2v1.2h-1.2zM96.0 351.4h1.2v1.2h-1.2zM92.1 356.0h1.2v1.2h-1.2zM93.4 360.0h1.2v1.2h-1.2zM85.1 353.8h1.2v1.2h-1.2z" fill="#3232fa"/>
<path d="M99.0 345.3h1.2v1.2h-1.2z" fill="#329696"/>
<rect x="19.5" y="254.8" width="120.3" height="119.8" fill="none" stroke="#808080" stroke-width="1"/>
<line x1="77.8" y1="254.8" x2="77.8" y2="374.6" stroke="#000" stroke-width="1.8"/>
<line x1="19.5" y1="328.6" x2="139.8" y2="328.6" stroke="#000" stroke-width="1.8"/>
<text transform="translate(26.50,273.00) scale(1,1.03)" font-size="14.94">T<tspan font-size="9.99" dy="3.20">CM</tspan></text>
<text transform="translate(117.70,273.00) scale(1,1.03)" font-size="14.94">T<tspan font-size="9.99" dy="3.20">N</tspan></text>
<text transform="translate(25.50,368.00) scale(1,1.03)" font-size="14.94">T<tspan font-size="9.99" dy="3.59">EM</tspan></text>
<text transform="translate(99.80,368.00) scale(1,1.03)" font-size="14.94">T<tspan font-size="9.99" dy="3.59">EMRA</tspan></text>
<line x1="19" y1="391.6" x2="51.4" y2="391.6" stroke="#000" stroke-width="1.6"/>
<path d="M50.4,387.8 L69,391.6 L50.4,395.40000000000003 Z" fill="#000"/>
<text transform="translate(74.10,396.20) scale(1,1.03)" font-size="15.14">CD45RA</text>
<text transform="translate(177.40,299.50) rotate(-90) scale(1,1.03)" font-size="14.83">Count</text>
<line x1="173.7" y1="374.8" x2="173.7" y2="325.7" stroke="#000" stroke-width="1.6"/>
<path d="M170.0,326.7 L173.7,308.4 L177.39999999999998,326.7 Z" fill="#000"/>
<line x1="187.1" y1="372.7" x2="191.4" y2="372.7" stroke="#000" stroke-width="1"/>
<line x1="189.5" y1="365.1" x2="191.4" y2="365.1" stroke="#444" stroke-width="0.8"/>
<line x1="189.5" y1="357.5" x2="191.4" y2="357.5" stroke="#444" stroke-width="0.8"/>
<line x1="189.5" y1="349.9" x2="191.4" y2="349.9" stroke="#444" stroke-width="0.8"/>
<line x1="187.1" y1="342.3" x2="191.4" y2="342.3" stroke="#000" stroke-width="1"/>
<line x1="189.5" y1="334.7" x2="191.4" y2="334.7" stroke="#444" stroke-width="0.8"/>
<line x1="189.5" y1="327.1" x2="191.4" y2="327.1" stroke="#444" stroke-width="0.8"/>
<line x1="189.5" y1="319.5" x2="191.4" y2="319.5" stroke="#444" stroke-width="0.8"/>
<line x1="187.1" y1="311.9" x2="191.4" y2="311.9" stroke="#000" stroke-width="1"/>
<line x1="189.5" y1="304.3" x2="191.4" y2="304.3" stroke="#444" stroke-width="0.8"/>
<line x1="189.5" y1="296.7" x2="191.4" y2="296.7" stroke="#444" stroke-width="0.8"/>
<line x1="189.5" y1="289.1" x2="191.4" y2="289.1" stroke="#444" stroke-width="0.8"/>
<line x1="187.1" y1="281.5" x2="191.4" y2="281.5" stroke="#000" stroke-width="1"/>
<line x1="189.5" y1="273.9" x2="191.4" y2="273.9" stroke="#444" stroke-width="0.8"/>
<line x1="189.5" y1="266.3" x2="191.4" y2="266.3" stroke="#444" stroke-width="0.8"/>
<line x1="189.5" y1="258.7" x2="191.4" y2="258.7" stroke="#444" stroke-width="0.8"/>
<path d="M191.4,372.7 V254.4 H310.3 V372.7" fill="none" stroke="#777" stroke-width="1"/>
<path d="M199.5,372.6 L204.2,371.3 L208.0,367.5 L211.9,366.5 L214.7,366.9 L218.5,364.6 L221.4,365.0 L225.2,365.0 L229.0,363.1 L233.8,362.3 L237.2,358.9 L239.5,347.4 L242.4,336.0 L245.3,316.9 L248.1,299.7 L249.5,280.6 L250.6,276.8 L251.9,282.5 L253.8,295.9 L256.3,318.8 L259.6,336.0 L261.5,349.3 L263.4,362.7 L266.2,371.3 L270.1,372.6Z" fill="#999" stroke="#000" stroke-width="0.8" stroke-linejoin="round"/>
<line x1="191.4" y1="372.7" x2="310.3" y2="372.7" stroke="#000" stroke-width="1"/>
<line x1="197.8" y1="372.7" x2="197.8" y2="375.9" stroke="#000" stroke-width="0.9"/>
<line x1="237.2" y1="372.7" x2="237.2" y2="375.9" stroke="#000" stroke-width="0.9"/>
<line x1="270.4" y1="372.7" x2="270.4" y2="375.9" stroke="#000" stroke-width="0.9"/>
<line x1="298.9" y1="372.7" x2="298.9" y2="375.9" stroke="#000" stroke-width="0.9"/>
<line x1="200.8" y1="372.7" x2="200.8" y2="374.5" stroke="#444" stroke-width="0.7"/>
<line x1="203.8" y1="372.7" x2="203.8" y2="374.5" stroke="#444" stroke-width="0.7"/>
<line x1="206.8" y1="372.7" x2="206.8" y2="374.5" stroke="#444" stroke-width="0.7"/>
<line x1="209.8" y1="372.7" x2="209.8" y2="374.5" stroke="#444" stroke-width="0.7"/>
<line x1="212.8" y1="372.7" x2="212.8" y2="374.5" stroke="#444" stroke-width="0.7"/>
<line x1="221.9" y1="372.7" x2="221.9" y2="374.5" stroke="#444" stroke-width="0.7"/>
<line x1="224.9" y1="372.7" x2="224.9" y2="374.5" stroke="#444" stroke-width="0.7"/>
<line x1="227.9" y1="372.7" x2="227.9" y2="374.5" stroke="#444" stroke-width="0.7"/>
<line x1="230.9" y1="372.7" x2="230.9" y2="374.5" stroke="#444" stroke-width="0.7"/>
<line x1="233.9" y1="372.7" x2="233.9" y2="374.5" stroke="#444" stroke-width="0.7"/>
<line x1="247.2" y1="372.7" x2="247.2" y2="374.5" stroke="#444" stroke-width="0.7"/>
<line x1="253.0" y1="372.7" x2="253.0" y2="374.5" stroke="#444" stroke-width="0.7"/>
<line x1="257.2" y1="372.7" x2="257.2" y2="374.5" stroke="#444" stroke-width="0.7"/>
<line x1="260.4" y1="372.7" x2="260.4" y2="374.5" stroke="#444" stroke-width="0.7"/>
<line x1="263.0" y1="372.7" x2="263.0" y2="374.5" stroke="#444" stroke-width="0.7"/>
<line x1="265.3" y1="372.7" x2="265.3" y2="374.5" stroke="#444" stroke-width="0.7"/>
<line x1="267.2" y1="372.7" x2="267.2" y2="374.5" stroke="#444" stroke-width="0.7"/>
<line x1="268.9" y1="372.7" x2="268.9" y2="374.5" stroke="#444" stroke-width="0.7"/>
<line x1="279.0" y1="372.7" x2="279.0" y2="374.5" stroke="#444" stroke-width="0.7"/>
<line x1="284.0" y1="372.7" x2="284.0" y2="374.5" stroke="#444" stroke-width="0.7"/>
<line x1="287.6" y1="372.7" x2="287.6" y2="374.5" stroke="#444" stroke-width="0.7"/>
<line x1="290.3" y1="372.7" x2="290.3" y2="374.5" stroke="#444" stroke-width="0.7"/>
<line x1="292.6" y1="372.7" x2="292.6" y2="374.5" stroke="#444" stroke-width="0.7"/>
<line x1="294.5" y1="372.7" x2="294.5" y2="374.5" stroke="#444" stroke-width="0.7"/>
<line x1="296.1" y1="372.7" x2="296.1" y2="374.5" stroke="#444" stroke-width="0.7"/>
<line x1="297.6" y1="372.7" x2="297.6" y2="374.5" stroke="#444" stroke-width="0.7"/>
<line x1="307.5" y1="372.7" x2="307.5" y2="374.5" stroke="#444" stroke-width="0.7"/>
<rect x="214.9" y="372.7" width="5" height="2.6" fill="#000"/>
<line x1="233.2" y1="286.7" x2="306.7" y2="286.7" stroke="#000" stroke-width="1.8"/>
<line x1="233.2" y1="283.4" x2="233.2" y2="290.0" stroke="#000" stroke-width="1.6"/>
<line x1="306.7" y1="283.4" x2="306.7" y2="290.0" stroke="#000" stroke-width="1.6"/>
<text transform="translate(254.40,282.40) scale(1,1.03)" font-size="15.04">87.1%</text>
<text transform="translate(242.90,247.70) scale(1,1.03)" font-size="14.94">T<tspan font-size="9.79" dy="2.91">N</tspan></text>
<line x1="310.7" y1="372.7" x2="315.0" y2="372.7" stroke="#000" stroke-width="1"/>
<line x1="313.1" y1="366.7" x2="315.0" y2="366.7" stroke="#444" stroke-width="0.8"/>
<line x1="313.1" y1="360.8" x2="315.0" y2="360.8" stroke="#444" stroke-width="0.8"/>
<line x1="313.1" y1="354.8" x2="315.0" y2="354.8" stroke="#444" stroke-width="0.8"/>
<line x1="310.7" y1="348.8" x2="315.0" y2="348.8" stroke="#000" stroke-width="1"/>
<line x1="313.1" y1="342.8" x2="315.0" y2="342.8" stroke="#444" stroke-width="0.8"/>
<line x1="313.1" y1="336.9" x2="315.0" y2="336.9" stroke="#444" stroke-width="0.8"/>
<line x1="313.1" y1="330.9" x2="315.0" y2="330.9" stroke="#444" stroke-width="0.8"/>
<line x1="310.7" y1="324.9" x2="315.0" y2="324.9" stroke="#000" stroke-width="1"/>
<line x1="313.1" y1="318.9" x2="315.0" y2="318.9" stroke="#444" stroke-width="0.8"/>
<line x1="313.1" y1="312.9" x2="315.0" y2="312.9" stroke="#444" stroke-width="0.8"/>
<line x1="313.1" y1="307.0" x2="315.0" y2="307.0" stroke="#444" stroke-width="0.8"/>
<line x1="310.7" y1="301.0" x2="315.0" y2="301.0" stroke="#000" stroke-width="1"/>
<line x1="313.1" y1="295.0" x2="315.0" y2="295.0" stroke="#444" stroke-width="0.8"/>
<line x1="313.1" y1="289.1" x2="315.0" y2="289.1" stroke="#444" stroke-width="0.8"/>
<line x1="313.1" y1="283.1" x2="315.0" y2="283.1" stroke="#444" stroke-width="0.8"/>
<line x1="310.7" y1="277.1" x2="315.0" y2="277.1" stroke="#000" stroke-width="1"/>
<line x1="313.1" y1="271.1" x2="315.0" y2="271.1" stroke="#444" stroke-width="0.8"/>
<line x1="313.1" y1="265.2" x2="315.0" y2="265.2" stroke="#444" stroke-width="0.8"/>
<line x1="313.1" y1="259.2" x2="315.0" y2="259.2" stroke="#444" stroke-width="0.8"/>
<path d="M315.0,372.7 V254.4 H435.0 V372.7" fill="none" stroke="#777" stroke-width="1"/>
<path d="M316.8,372.6 L319.6,368.4 L322.5,358.9 L325.4,345.5 L328.2,326.4 L331.1,309.3 L333.0,303.5 L334.5,307.3 L335.9,309.3 L337.4,295.9 L338.7,291.1 L340.6,294.0 L343.5,305.4 L346.0,322.6 L348.3,320.7 L350.2,328.3 L352.5,350.3 L354.4,349.3 L356.3,343.6 L358.2,347.4 L360.7,351.2 L363.5,349.3 L366.4,343.6 L368.9,334.1 L371.2,334.1 L373.5,333.1 L375.5,336.9 L377.5,340.7 L379.7,337.9 L381.7,343.6 L383.6,351.2 L386.4,352.2 L388.3,356.0 L390.2,362.7 L393.1,369.4 L396.0,372.6Z" fill="#999" stroke="#000" stroke-width="0.8" stroke-linejoin="round"/>
<line x1="315.0" y1="372.7" x2="435.0" y2="372.7" stroke="#000" stroke-width="1"/>
<line x1="321.4" y1="372.7" x2="321.4" y2="375.9" stroke="#000" stroke-width="0.9"/>
<line x1="360.8" y1="372.7" x2="360.8" y2="375.9" stroke="#000" stroke-width="0.9"/>
<line x1="394.0" y1="372.7" x2="394.0" y2="375.9" stroke="#000" stroke-width="0.9"/>
<line x1="422.5" y1="372.7" x2="422.5" y2="375.9" stroke="#000" stroke-width="0.9"/>
<line x1="324.4" y1="372.7" x2="324.4" y2="374.5" stroke="#444" stroke-width="0.7"/>
<line x1="327.4" y1="372.7" x2="327.4" y2="374.5" stroke="#444" stroke-width="0.7"/>
<line x1="330.4" y1="372.7" x2="330.4" y2="374.5" stroke="#444" stroke-width="0.7"/>
<line x1="333.4" y1="372.7" x2="333.4" y2="374.5" stroke="#444" stroke-width="0.7"/>
<line x1="336.4" y1="372.7" x2="336.4" y2="374.5" stroke="#444" stroke-width="0.7"/>
<line x1="345.5" y1="372.7" x2="345.5" y2="374.5" stroke="#444" stroke-width="0.7"/>
<line x1="348.5" y1="372.7" x2="348.5" y2="374.5" stroke="#444" stroke-width="0.7"/>
<line x1="351.5" y1="372.7" x2="351.5" y2="374.5" stroke="#444" stroke-width="0.7"/>
<line x1="354.5" y1="372.7" x2="354.5" y2="374.5" stroke="#444" stroke-width="0.7"/>
<line x1="357.5" y1="372.7" x2="357.5" y2="374.5" stroke="#444" stroke-width="0.7"/>
<line x1="370.8" y1="372.7" x2="370.8" y2="374.5" stroke="#444" stroke-width="0.7"/>
<line x1="376.6" y1="372.7" x2="376.6" y2="374.5" stroke="#444" stroke-width="0.7"/>
<line x1="380.8" y1="372.7" x2="380.8" y2="374.5" stroke="#444" stroke-width="0.7"/>
<line x1="384.0" y1="372.7" x2="384.0" y2="374.5" stroke="#444" stroke-width="0.7"/>
<line x1="386.6" y1="372.7" x2="386.6" y2="374.5" stroke="#444" stroke-width="0.7"/>
<line x1="388.9" y1="372.7" x2="388.9" y2="374.5" stroke="#444" stroke-width="0.7"/>
<line x1="390.8" y1="372.7" x2="390.8" y2="374.5" stroke="#444" stroke-width="0.7"/>
<line x1="392.5" y1="372.7" x2="392.5" y2="374.5" stroke="#444" stroke-width="0.7"/>
<line x1="402.6" y1="372.7" x2="402.6" y2="374.5" stroke="#444" stroke-width="0.7"/>
<line x1="407.6" y1="372.7" x2="407.6" y2="374.5" stroke="#444" stroke-width="0.7"/>
<line x1="411.2" y1="372.7" x2="411.2" y2="374.5" stroke="#444" stroke-width="0.7"/>
<line x1="413.9" y1="372.7" x2="413.9" y2="374.5" stroke="#444" stroke-width="0.7"/>
<line x1="416.2" y1="372.7" x2="416.2" y2="374.5" stroke="#444" stroke-width="0.7"/>
<line x1="418.1" y1="372.7" x2="418.1" y2="374.5" stroke="#444" stroke-width="0.7"/>
<line x1="419.7" y1="372.7" x2="419.7" y2="374.5" stroke="#444" stroke-width="0.7"/>
<line x1="421.2" y1="372.7" x2="421.2" y2="374.5" stroke="#444" stroke-width="0.7"/>
<line x1="431.1" y1="372.7" x2="431.1" y2="374.5" stroke="#444" stroke-width="0.7"/>
<rect x="338.5" y="372.7" width="5" height="2.6" fill="#000"/>
<line x1="357.2" y1="286.7" x2="430.3" y2="286.7" stroke="#000" stroke-width="1.8"/>
<line x1="357.2" y1="283.4" x2="357.2" y2="290.0" stroke="#000" stroke-width="1.6"/>
<line x1="430.3" y1="283.4" x2="430.3" y2="290.0" stroke="#000" stroke-width="1.6"/>
<text transform="translate(372.90,282.40) scale(1,1.03)" font-size="15.04">38.2%</text>
<text transform="translate(362.80,247.70) scale(1,1.03)" font-size="14.94">T<tspan font-size="9.79" dy="2.91">CM</tspan></text>
<line x1="435.09999999999997" y1="372.7" x2="439.4" y2="372.7" stroke="#000" stroke-width="1"/>
<line x1="437.5" y1="365.6" x2="439.4" y2="365.6" stroke="#444" stroke-width="0.8"/>
<line x1="437.5" y1="358.6" x2="439.4" y2="358.6" stroke="#444" stroke-width="0.8"/>
<line x1="437.5" y1="351.6" x2="439.4" y2="351.6" stroke="#444" stroke-width="0.8"/>
<line x1="435.09999999999997" y1="344.5" x2="439.4" y2="344.5" stroke="#000" stroke-width="1"/>
<line x1="437.5" y1="337.4" x2="439.4" y2="337.4" stroke="#444" stroke-width="0.8"/>
<line x1="437.5" y1="330.4" x2="439.4" y2="330.4" stroke="#444" stroke-width="0.8"/>
<line x1="437.5" y1="323.4" x2="439.4" y2="323.4" stroke="#444" stroke-width="0.8"/>
<line x1="435.09999999999997" y1="316.3" x2="439.4" y2="316.3" stroke="#000" stroke-width="1"/>
<line x1="437.5" y1="309.2" x2="439.4" y2="309.2" stroke="#444" stroke-width="0.8"/>
<line x1="437.5" y1="302.2" x2="439.4" y2="302.2" stroke="#444" stroke-width="0.8"/>
<line x1="437.5" y1="295.2" x2="439.4" y2="295.2" stroke="#444" stroke-width="0.8"/>
<line x1="435.09999999999997" y1="288.1" x2="439.4" y2="288.1" stroke="#000" stroke-width="1"/>
<line x1="437.5" y1="281.1" x2="439.4" y2="281.1" stroke="#444" stroke-width="0.8"/>
<line x1="437.5" y1="274.0" x2="439.4" y2="274.0" stroke="#444" stroke-width="0.8"/>
<line x1="437.5" y1="267.0" x2="439.4" y2="267.0" stroke="#444" stroke-width="0.8"/>
<line x1="435.09999999999997" y1="259.9" x2="439.4" y2="259.9" stroke="#000" stroke-width="1"/>
<path d="M439.4,372.7 V254.4 H558.4 V372.7" fill="none" stroke="#777" stroke-width="1"/>
<path d="M440.8,372.6 L444.6,369.4 L448.4,359.8 L451.3,343.6 L454.1,328.3 L457.0,315.0 L458.9,299.7 L460.8,288.3 L462.7,278.7 L464.1,290.2 L465.2,302.0 L466.5,288.3 L467.5,288.3 L468.8,299.7 L470.4,315.9 L473.2,324.5 L475.1,330.2 L477.0,343.6 L479.5,351.2 L482.8,351.6 L485.6,354.1 L487.1,348.4 L488.7,346.5 L490.4,350.3 L492.9,344.6 L494.8,343.6 L496.7,341.7 L499.0,336.4 L501.8,338.8 L504.3,339.4 L505.7,341.7 L507.6,349.3 L510.4,356.0 L513.3,359.8 L516.2,364.6 L520.0,370.3 L525.7,372.6Z" fill="#999" stroke="#000" stroke-width="0.8" stroke-linejoin="round"/>
<line x1="439.4" y1="372.7" x2="558.4" y2="372.7" stroke="#000" stroke-width="1"/>
<line x1="445.79999999999995" y1="372.7" x2="445.79999999999995" y2="375.9" stroke="#000" stroke-width="0.9"/>
<line x1="485.2" y1="372.7" x2="485.2" y2="375.9" stroke="#000" stroke-width="0.9"/>
<line x1="518.4" y1="372.7" x2="518.4" y2="375.9" stroke="#000" stroke-width="0.9"/>
<line x1="546.9" y1="372.7" x2="546.9" y2="375.9" stroke="#000" stroke-width="0.9"/>
<line x1="448.8" y1="372.7" x2="448.8" y2="374.5" stroke="#444" stroke-width="0.7"/>
<line x1="451.8" y1="372.7" x2="451.8" y2="374.5" stroke="#444" stroke-width="0.7"/>
<line x1="454.8" y1="372.7" x2="454.8" y2="374.5" stroke="#444" stroke-width="0.7"/>
<line x1="457.8" y1="372.7" x2="457.8" y2="374.5" stroke="#444" stroke-width="0.7"/>
<line x1="460.8" y1="372.7" x2="460.8" y2="374.5" stroke="#444" stroke-width="0.7"/>
<line x1="469.9" y1="372.7" x2="469.9" y2="374.5" stroke="#444" stroke-width="0.7"/>
<line x1="472.9" y1="372.7" x2="472.9" y2="374.5" stroke="#444" stroke-width="0.7"/>
<line x1="475.9" y1="372.7" x2="475.9" y2="374.5" stroke="#444" stroke-width="0.7"/>
<line x1="478.9" y1="372.7" x2="478.9" y2="374.5" stroke="#444" stroke-width="0.7"/>
<line x1="481.9" y1="372.7" x2="481.9" y2="374.5" stroke="#444" stroke-width="0.7"/>
<line x1="495.2" y1="372.7" x2="495.2" y2="374.5" stroke="#444" stroke-width="0.7"/>
<line x1="501.0" y1="372.7" x2="501.0" y2="374.5" stroke="#444" stroke-width="0.7"/>
<line x1="505.2" y1="372.7" x2="505.2" y2="374.5" stroke="#444" stroke-width="0.7"/>
<line x1="508.4" y1="372.7" x2="508.4" y2="374.5" stroke="#444" stroke-width="0.7"/>
<line x1="511.0" y1="372.7" x2="511.0" y2="374.5" stroke="#444" stroke-width="0.7"/>
<line x1="513.3" y1="372.7" x2="513.3" y2="374.5" stroke="#444" stroke-width="0.7"/>
<line x1="515.2" y1="372.7" x2="515.2" y2="374.5" stroke="#444" stroke-width="0.7"/>
<line x1="516.9" y1="372.7" x2="516.9" y2="374.5" stroke="#444" stroke-width="0.7"/>
<line x1="527.0" y1="372.7" x2="527.0" y2="374.5" stroke="#444" stroke-width="0.7"/>
<line x1="532.0" y1="372.7" x2="532.0" y2="374.5" stroke="#444" stroke-width="0.7"/>
<line x1="535.6" y1="372.7" x2="535.6" y2="374.5" stroke="#444" stroke-width="0.7"/>
<line x1="538.3" y1="372.7" x2="538.3" y2="374.5" stroke="#444" stroke-width="0.7"/>
<line x1="540.6" y1="372.7" x2="540.6" y2="374.5" stroke="#444" stroke-width="0.7"/>
<line x1="542.5" y1="372.7" x2="542.5" y2="374.5" stroke="#444" stroke-width="0.7"/>
<line x1="544.1" y1="372.7" x2="544.1" y2="374.5" stroke="#444" stroke-width="0.7"/>
<line x1="545.6" y1="372.7" x2="545.6" y2="374.5" stroke="#444" stroke-width="0.7"/>
<line x1="555.5" y1="372.7" x2="555.5" y2="374.5" stroke="#444" stroke-width="0.7"/>
<rect x="462.9" y="372.7" width="5" height="2.6" fill="#000"/>
<line x1="482.8" y1="286.7" x2="556.2" y2="286.7" stroke="#000" stroke-width="1.8"/>
<line x1="482.8" y1="283.4" x2="482.8" y2="290.0" stroke="#000" stroke-width="1.6"/>
<line x1="556.2" y1="283.4" x2="556.2" y2="290.0" stroke="#000" stroke-width="1.6"/>
<text transform="translate(501.40,282.40) scale(1,1.03)" font-size="15.04">35.2%</text>
<text transform="translate(488.60,247.70) scale(1,1.03)" font-size="14.94">T<tspan font-size="9.79" dy="2.91">EM</tspan></text>
<line x1="558.3000000000001" y1="372.7" x2="562.6" y2="372.7" stroke="#000" stroke-width="1"/>
<line x1="560.7" y1="365.7" x2="562.6" y2="365.7" stroke="#444" stroke-width="0.8"/>
<line x1="560.7" y1="358.8" x2="562.6" y2="358.8" stroke="#444" stroke-width="0.8"/>
<line x1="560.7" y1="351.8" x2="562.6" y2="351.8" stroke="#444" stroke-width="0.8"/>
<line x1="560.7" y1="344.9" x2="562.6" y2="344.9" stroke="#444" stroke-width="0.8"/>
<line x1="558.3000000000001" y1="337.9" x2="562.6" y2="337.9" stroke="#000" stroke-width="1"/>
<line x1="560.7" y1="330.9" x2="562.6" y2="330.9" stroke="#444" stroke-width="0.8"/>
<line x1="560.7" y1="324.0" x2="562.6" y2="324.0" stroke="#444" stroke-width="0.8"/>
<line x1="560.7" y1="317.0" x2="562.6" y2="317.0" stroke="#444" stroke-width="0.8"/>
<line x1="560.7" y1="310.1" x2="562.6" y2="310.1" stroke="#444" stroke-width="0.8"/>
<line x1="558.3000000000001" y1="303.1" x2="562.6" y2="303.1" stroke="#000" stroke-width="1"/>
<line x1="560.7" y1="296.1" x2="562.6" y2="296.1" stroke="#444" stroke-width="0.8"/>
<line x1="560.7" y1="289.2" x2="562.6" y2="289.2" stroke="#444" stroke-width="0.8"/>
<line x1="560.7" y1="282.2" x2="562.6" y2="282.2" stroke="#444" stroke-width="0.8"/>
<line x1="560.7" y1="275.3" x2="562.6" y2="275.3" stroke="#444" stroke-width="0.8"/>
<line x1="558.3000000000001" y1="268.3" x2="562.6" y2="268.3" stroke="#000" stroke-width="1"/>
<line x1="560.7" y1="261.3" x2="562.6" y2="261.3" stroke="#444" stroke-width="0.8"/>
<path d="M562.6,372.7 V254.4 H682.0 V372.7" fill="none" stroke="#777" stroke-width="1"/>
<path d="M564.8,372.6 L567.6,370.3 L570.5,361.7 L573.4,347.4 L576.2,336.0 L578.1,332.2 L579.1,315.0 L580.6,293.0 L581.9,292.1 L583.3,293.0 L585.2,287.3 L586.7,294.9 L588.6,307.3 L590.5,300.7 L592.4,297.4 L594.4,298.8 L596.3,311.2 L598.2,320.7 L600.1,334.1 L602.9,339.8 L605.4,347.0 L608.7,346.5 L611.1,353.1 L613.4,352.8 L616.3,355.1 L619.2,353.1 L623.0,352.2 L625.8,355.1 L628.7,357.9 L632.5,364.6 L636.3,368.8 L641.1,372.6 L645.9,372.6Z" fill="#999" stroke="#000" stroke-width="0.8" stroke-linejoin="round"/>
<line x1="562.6" y1="372.7" x2="682.0" y2="372.7" stroke="#000" stroke-width="1"/>
<line x1="569.0" y1="372.7" x2="569.0" y2="375.9" stroke="#000" stroke-width="0.9"/>
<line x1="608.4" y1="372.7" x2="608.4" y2="375.9" stroke="#000" stroke-width="0.9"/>
<line x1="641.6" y1="372.7" x2="641.6" y2="375.9" stroke="#000" stroke-width="0.9"/>
<line x1="670.1" y1="372.7" x2="670.1" y2="375.9" stroke="#000" stroke-width="0.9"/>
<line x1="572.0" y1="372.7" x2="572.0" y2="374.5" stroke="#444" stroke-width="0.7"/>
<line x1="575.0" y1="372.7" x2="575.0" y2="374.5" stroke="#444" stroke-width="0.7"/>
<line x1="578.0" y1="372.7" x2="578.0" y2="374.5" stroke="#444" stroke-width="0.7"/>
<line x1="581.0" y1="372.7" x2="581.0" y2="374.5" stroke="#444" stroke-width="0.7"/>
<line x1="584.0" y1="372.7" x2="584.0" y2="374.5" stroke="#444" stroke-width="0.7"/>
<line x1="593.1" y1="372.7" x2="593.1" y2="374.5" stroke="#444" stroke-width="0.7"/>
<line x1="596.1" y1="372.7" x2="596.1" y2="374.5" stroke="#444" stroke-width="0.7"/>
<line x1="599.1" y1="372.7" x2="599.1" y2="374.5" stroke="#444" stroke-width="0.7"/>
<line x1="602.1" y1="372.7" x2="602.1" y2="374.5" stroke="#444" stroke-width="0.7"/>
<line x1="605.1" y1="372.7" x2="605.1" y2="374.5" stroke="#444" stroke-width="0.7"/>
<line x1="618.4" y1="372.7" x2="618.4" y2="374.5" stroke="#444" stroke-width="0.7"/>
<line x1="624.2" y1="372.7" x2="624.2" y2="374.5" stroke="#444" stroke-width="0.7"/>
<line x1="628.4" y1="372.7" x2="628.4" y2="374.5" stroke="#444" stroke-width="0.7"/>
<line x1="631.6" y1="372.7" x2="631.6" y2="374.5" stroke="#444" stroke-width="0.7"/>
<line x1="634.2" y1="372.7" x2="634.2" y2="374.5" stroke="#444" stroke-width="0.7"/>
<line x1="636.5" y1="372.7" x2="636.5" y2="374.5" stroke="#444" stroke-width="0.7"/>
<line x1="638.4" y1="372.7" x2="638.4" y2="374.5" stroke="#444" stroke-width="0.7"/>
<line x1="640.1" y1="372.7" x2="640.1" y2="374.5" stroke="#444" stroke-width="0.7"/>
<line x1="650.2" y1="372.7" x2="650.2" y2="374.5" stroke="#444" stroke-width="0.7"/>
<line x1="655.2" y1="372.7" x2="655.2" y2="374.5" stroke="#444" stroke-width="0.7"/>
<line x1="658.8" y1="372.7" x2="658.8" y2="374.5" stroke="#444" stroke-width="0.7"/>
<line x1="661.5" y1="372.7" x2="661.5" y2="374.5" stroke="#444" stroke-width="0.7"/>
<line x1="663.8" y1="372.7" x2="663.8" y2="374.5" stroke="#444" stroke-width="0.7"/>
<line x1="665.7" y1="372.7" x2="665.7" y2="374.5" stroke="#444" stroke-width="0.7"/>
<line x1="667.3" y1="372.7" x2="667.3" y2="374.5" stroke="#444" stroke-width="0.7"/>
<line x1="668.8" y1="372.7" x2="668.8" y2="374.5" stroke="#444" stroke-width="0.7"/>
<line x1="678.7" y1="372.7" x2="678.7" y2="374.5" stroke="#444" stroke-width="0.7"/>
<rect x="586.1" y="372.7" width="5" height="2.6" fill="#000"/>
<line x1="605.2" y1="286.7" x2="678.7" y2="286.7" stroke="#000" stroke-width="1.8"/>
<line x1="605.2" y1="283.4" x2="605.2" y2="290.0" stroke="#000" stroke-width="1.6"/>
<line x1="678.7" y1="283.4" x2="678.7" y2="290.0" stroke="#000" stroke-width="1.6"/>
<text transform="translate(623.40,282.40) scale(1,1.03)" font-size="15.04">26.1%</text>
<text transform="translate(604.60,247.70) scale(1,1.03)" font-size="14.94">T<tspan font-size="9.79" dy="2.91">EMRA</tspan></text>
<line x1="188" y1="391.7" x2="496.69999999999993" y2="391.7" stroke="#000" stroke-width="1.6"/>
<path d="M495.69999999999993,387.9 L514.3,391.7 L495.69999999999993,395.5 Z" fill="#000"/>
<text transform="translate(525.10,396.80) scale(1,1.03)" font-size="15.04">CD73</text>
<text transform="translate(0.30,430.60) scale(1,1.03)" font-size="18.13">B</text>
<line x1="98.3" y1="472.8" x2="98.3" y2="607.4" stroke="#000" stroke-width="1.5"/>
<line x1="90.4" y1="606.6" x2="98.3" y2="606.6" stroke="#000" stroke-width="1.5"/>
<text transform="translate(87.20,611.20) scale(1,1.03)" font-size="14.01" text-anchor="end">0</text>
<line x1="90.4" y1="562.2" x2="98.3" y2="562.2" stroke="#000" stroke-width="1.5"/>
<text transform="translate(87.20,566.80) scale(1,1.03)" font-size="14.01" text-anchor="end">50</text>
<line x1="90.4" y1="517.8" x2="98.3" y2="517.8" stroke="#000" stroke-width="1.5"/>
<text transform="translate(87.20,522.40) scale(1,1.03)" font-size="14.01" text-anchor="end">100</text>
<line x1="90.4" y1="473.4" x2="98.3" y2="473.4" stroke="#000" stroke-width="1.5"/>
<text transform="translate(87.20,478.00) scale(1,1.03)" font-size="14.01" text-anchor="end">150</text>
<line x1="97.6" y1="606.7" x2="365.5" y2="606.7" stroke="#000" stroke-width="1.5"/>
<line x1="120.8" y1="606.7" x2="120.8" y2="614" stroke="#000" stroke-width="1.5"/>
<line x1="149.6" y1="606.7" x2="149.6" y2="614" stroke="#000" stroke-width="1.5"/>
<line x1="178.3" y1="606.7" x2="178.3" y2="614" stroke="#000" stroke-width="1.5"/>
<line x1="207.0" y1="606.7" x2="207.0" y2="614" stroke="#000" stroke-width="1.5"/>
<line x1="252.6" y1="606.7" x2="252.6" y2="614" stroke="#000" stroke-width="1.5"/>
<line x1="281.5" y1="606.7" x2="281.5" y2="614" stroke="#000" stroke-width="1.5"/>
<line x1="310.1" y1="606.7" x2="310.1" y2="614" stroke="#000" stroke-width="1.5"/>
<line x1="338.7" y1="606.7" x2="338.7" y2="614" stroke="#000" stroke-width="1.5"/>
<text transform="translate(124.80,627.80) rotate(-45) scale(1,1.03)" text-anchor="end" font-size="14.32">T<tspan font-size="11.23">N</tspan></text>
<text transform="translate(153.60,627.80) rotate(-45) scale(1,1.03)" text-anchor="end" font-size="14.32">T<tspan font-size="11.23">CM</tspan></text>
<text transform="translate(182.30,627.80) rotate(-45) scale(1,1.03)" text-anchor="end" font-size="14.32">T<tspan font-size="11.23">EM</tspan></text>
<text transform="translate(211.00,627.80) rotate(-45) scale(1,1.03)" text-anchor="end" font-size="14.32">T<tspan font-size="11.23">EMRA</tspan></text>
<text transform="translate(256.60,627.80) rotate(-45) scale(1,1.03)" text-anchor="end" font-size="14.32">T<tspan font-size="11.23">N</tspan></text>
<text transform="translate(285.50,627.80) rotate(-45) scale(1,1.03)" text-anchor="end" font-size="14.32">T<tspan font-size="11.23">CM</tspan></text>
<text transform="translate(314.10,627.80) rotate(-45) scale(1,1.03)" text-anchor="end" font-size="14.32">T<tspan font-size="11.23">EM</tspan></text>
<text transform="translate(342.70,627.80) rotate(-45) scale(1,1.03)" text-anchor="end" font-size="14.32">T<tspan font-size="11.23">EMRA</tspan></text>
<text transform="translate(33.60,544.20) rotate(-90) scale(1,1.03)" text-anchor="middle" font-size="14.73">% of CD73<tspan font-size="10.30" dy="-7">+</tspan><tspan dy="7" dx="1.5"> cells</tspan></text>
<text transform="translate(53.10,543.40) rotate(-90) scale(1,1.03)" text-anchor="middle" font-size="14.73">among indicated cells</text>
<line x1="153.3" y1="450.2" x2="285.9" y2="450.2" stroke="#000" stroke-width="1.3"/>
<text x="224.3" y="451.7" font-size="15.50" text-anchor="middle" stroke="none">**</text>
<line x1="120.2" y1="466.6" x2="253.2" y2="466.6" stroke="#000" stroke-width="1.3"/>
<text x="187.6" y="468.1" font-size="15.50" text-anchor="middle" stroke="none">*</text>
<line x1="122.3" y1="487.4" x2="219.8" y2="487.4" stroke="#000" stroke-width="1.3"/>
<text x="171.3" y="488.9" font-size="15.50" text-anchor="middle" stroke="none">***</text>
<line x1="123.5" y1="504.6" x2="190" y2="504.6" stroke="#000" stroke-width="1.3"/>
<text x="157" y="506.1" font-size="15.50" text-anchor="middle" stroke="none">***</text>
<line x1="147.1" y1="525.2" x2="213.7" y2="525.2" stroke="#000" stroke-width="1.3"/>
<text x="179.8" y="526.7" font-size="15.50" text-anchor="middle" stroke="none">**</text>
<line x1="243.3" y1="487.4" x2="340.7" y2="487.4" stroke="#000" stroke-width="1.3"/>
<text x="294.5" y="488.9" font-size="15.50" text-anchor="middle" stroke="none">***</text>
<line x1="244.3" y1="504.8" x2="311.1" y2="504.8" stroke="#000" stroke-width="1.3"/>
<text x="275.5" y="506.3" font-size="15.50" text-anchor="middle" stroke="none">***</text>
<line x1="275.6" y1="523.3" x2="342" y2="523.3" stroke="#000" stroke-width="1.3"/>
<text x="302.3" y="524.8" font-size="15.50" text-anchor="middle" stroke="none">**</text>
<rect x="370.5" y="482.4" width="7.2" height="7.9" fill="none" stroke="#000" stroke-width="1.1"/>
<text transform="translate(384.30,490.50) scale(1,1.03)" font-size="14.73">HD</text>
<path d="M369.9,507.4 L374.05,499.1 L378.2,507.4 Z" fill="#000"/>
<text transform="translate(383.60,507.50) scale(1,1.03)" font-size="14.73">AML</text>
<line x1="109.7" y1="535.2" x2="132.7" y2="535.2" stroke="#000" stroke-width="1.5"/>
<line x1="121.2" y1="517.7" x2="121.2" y2="552.7" stroke="#000" stroke-width="1.4"/>
<line x1="117.4" y1="517.7" x2="125.0" y2="517.7" stroke="#000" stroke-width="1.4"/>
<line x1="117.4" y1="552.7" x2="125.0" y2="552.7" stroke="#000" stroke-width="1.4"/>
<rect x="111.3" y="517.3" width="7.9" height="7.9" fill="#fff" stroke="#000" stroke-width="1.0"/>
<rect x="122.2" y="516.5" width="7.9" height="7.9" fill="#fff" stroke="#000" stroke-width="1.0"/>
<rect x="121.0" y="518.2" width="7.9" height="7.9" fill="#fff" stroke="#000" stroke-width="1.0"/>
<rect x="113.0" y="520.8" width="7.9" height="7.9" fill="#fff" stroke="#000" stroke-width="1.0"/>
<rect x="115.5" y="521.5" width="7.9" height="7.9" fill="#fff" stroke="#000" stroke-width="1.0"/>
<rect x="117.6" y="523.8" width="7.9" height="7.9" fill="#fff" stroke="#000" stroke-width="1.0"/>
<rect x="111.3" y="527.2" width="7.9" height="7.9" fill="#fff" stroke="#000" stroke-width="1.0"/>
<rect x="122.5" y="528.3" width="7.9" height="7.9" fill="#fff" stroke="#000" stroke-width="1.0"/>
<rect x="119.8" y="533.2" width="7.9" height="7.9" fill="#fff" stroke="#000" stroke-width="1.0"/>
<rect x="117.0" y="537.5" width="7.9" height="7.9" fill="#fff" stroke="#000" stroke-width="1.0"/>
<rect x="111.3" y="541.3" width="7.9" height="7.9" fill="#fff" stroke="#000" stroke-width="1.0"/>
<rect x="123.3" y="552.0" width="7.9" height="7.9" fill="#fff" stroke="#000" stroke-width="1.0"/>
<rect x="117.3" y="583.6" width="7.9" height="7.9" fill="#fff" stroke="#000" stroke-width="1.0"/>
<line x1="138.4" y1="567.1" x2="161.4" y2="567.1" stroke="#000" stroke-width="1.5"/>
<line x1="149.9" y1="559.1" x2="149.9" y2="575.1" stroke="#000" stroke-width="1.4"/>
<line x1="146.1" y1="559.1" x2="153.70000000000002" y2="559.1" stroke="#000" stroke-width="1.4"/>
<line x1="146.1" y1="575.1" x2="153.70000000000002" y2="575.1" stroke="#000" stroke-width="1.4"/>
<rect x="151.7" y="545.2" width="7.9" height="7.9" fill="#fff" stroke="#000" stroke-width="1.0"/>
<rect x="140.2" y="549.5" width="7.9" height="7.9" fill="#fff" stroke="#000" stroke-width="1.0"/>
<rect x="140.2" y="552.5" width="7.9" height="7.9" fill="#fff" stroke="#000" stroke-width="1.0"/>
<rect x="148.7" y="555.3" width="7.9" height="7.9" fill="#fff" stroke="#000" stroke-width="1.0"/>
<rect x="151.6" y="552.8" width="7.9" height="7.9" fill="#fff" stroke="#000" stroke-width="1.0"/>
<rect x="143.2" y="562.4" width="7.9" height="7.9" fill="#fff" stroke="#000" stroke-width="1.0"/>
<rect x="152.5" y="562.4" width="7.9" height="7.9" fill="#fff" stroke="#000" stroke-width="1.0"/>
<rect x="139.5" y="567.5" width="7.9" height="7.9" fill="#fff" stroke="#000" stroke-width="1.0"/>
<rect x="152.6" y="569.4" width="7.9" height="7.9" fill="#fff" stroke="#000" stroke-width="1.0"/>
<rect x="141.4" y="573.3" width="7.9" height="7.9" fill="#fff" stroke="#000" stroke-width="1.0"/>
<rect x="140.6" y="576.5" width="7.9" height="7.9" fill="#fff" stroke="#000" stroke-width="1.0"/>
<rect x="147.9" y="575.8" width="7.9" height="7.9" fill="#fff" stroke="#000" stroke-width="1.0"/>
<line x1="167.0" y1="586.6" x2="190.0" y2="586.6" stroke="#000" stroke-width="1.5"/>
<line x1="178.5" y1="576.6" x2="178.5" y2="596.6" stroke="#000" stroke-width="1.4"/>
<line x1="174.7" y1="576.6" x2="182.3" y2="576.6" stroke="#000" stroke-width="1.4"/>
<line x1="174.7" y1="596.6" x2="182.3" y2="596.6" stroke="#000" stroke-width="1.4"/>
<rect x="174.4" y="557.4" width="7.9" height="7.9" fill="#fff" stroke="#000" stroke-width="1.0"/>
<rect x="180.8" y="566.1" width="7.9" height="7.9" fill="#fff" stroke="#000" stroke-width="1.0"/>
<rect x="168.5" y="570.2" width="7.9" height="7.9" fill="#fff" stroke="#000" stroke-width="1.0"/>
<rect x="171.7" y="573.4" width="7.9" height="7.9" fill="#fff" stroke="#000" stroke-width="1.0"/>
<rect x="178.5" y="573.4" width="7.9" height="7.9" fill="#fff" stroke="#000" stroke-width="1.0"/>
<rect x="166.6" y="584.4" width="7.9" height="7.9" fill="#fff" stroke="#000" stroke-width="1.0"/>
<rect x="180.4" y="581.8" width="7.9" height="7.9" fill="#fff" stroke="#000" stroke-width="1.0"/>
<rect x="169.4" y="589.0" width="7.9" height="7.9" fill="#fff" stroke="#000" stroke-width="1.0"/>
<rect x="176.7" y="592.2" width="7.9" height="7.9" fill="#fff" stroke="#000" stroke-width="1.0"/>
<rect x="179.4" y="589.4" width="7.9" height="7.9" fill="#fff" stroke="#000" stroke-width="1.0"/>
<rect x="174.9" y="600.0" width="7.9" height="7.9" fill="#fff" stroke="#000" stroke-width="1.0"/>
<rect x="174.4" y="584.0" width="7.9" height="7.9" fill="#fff" stroke="#000" stroke-width="1.0"/>
<line x1="195.8" y1="593.6" x2="218.8" y2="593.6" stroke="#000" stroke-width="1.5"/>
<line x1="207.3" y1="574.6" x2="207.3" y2="612.6" stroke="#000" stroke-width="1.4"/>
<line x1="203.5" y1="574.6" x2="211.10000000000002" y2="574.6" stroke="#000" stroke-width="1.4"/>
<line x1="203.5" y1="612.6" x2="211.10000000000002" y2="612.6" stroke="#000" stroke-width="1.4"/>
<rect x="197.5" y="565.6" width="7.9" height="7.9" fill="#fff" stroke="#000" stroke-width="1.0"/>
<rect x="197.5" y="576.2" width="7.9" height="7.9" fill="#fff" stroke="#000" stroke-width="1.0"/>
<rect x="208.5" y="573.0" width="7.9" height="7.9" fill="#fff" stroke="#000" stroke-width="1.0"/>
<rect x="209.4" y="587.2" width="7.9" height="7.9" fill="#fff" stroke="#000" stroke-width="1.0"/>
<rect x="197.1" y="596.3" width="7.9" height="7.9" fill="#fff" stroke="#000" stroke-width="1.0"/>
<rect x="201.2" y="603.2" width="7.9" height="7.9" fill="#fff" stroke="#000" stroke-width="1.0"/>
<rect x="208.8" y="594.5" width="7.9" height="7.9" fill="#fff" stroke="#000" stroke-width="1.0"/>
<rect x="204.6" y="600.5" width="7.9" height="7.9" fill="#fff" stroke="#000" stroke-width="1.0"/>
<path d="M243.0,533.2L247.3,525.0L251.6,533.2ZM255.1,533.7L259.4,525.5L263.7,533.7ZM245.7,543.9L250.0,535.7L254.3,543.9ZM252.1,543.5L256.4,535.3L260.7,543.5ZM245.5,545.6L249.8,537.4L254.1,545.6ZM249.4,547.1L253.7,538.9L258.0,547.1ZM254.0,547.4L258.3,539.2L262.6,547.4ZM241.2,551.6L245.5,543.4L249.8,551.6ZM248.1,554.5L252.4,546.3L256.7,554.5ZM255.0,551.5L259.3,543.3L263.6,551.5ZM242.6,555.5L246.9,547.3L251.2,555.5ZM247.9,555.7L252.2,547.5L256.5,555.7ZM255.6,555.8L259.9,547.6L264.2,555.8ZM243.8,560.0L248.1,551.8L252.4,560.0ZM249.0,561.4L253.3,553.2L257.6,561.4ZM255.7,559.8L260.0,551.6L264.3,559.8ZM243.3,564.8L247.6,556.6L251.9,564.8ZM250.9,564.2L255.2,556.0L259.5,564.2ZM254.2,565.2L258.5,557.0L262.8,565.2ZM243.3,568.4L247.6,560.2L251.9,568.4ZM249.9,569.1L254.2,560.9L258.5,569.1ZM253.9,569.1L258.2,560.9L262.5,569.1ZM242.9,588.9L247.2,580.7L251.5,588.9ZM245.8,592.3L250.1,584.1L254.4,592.3ZM255.1,585.5L259.4,577.3L263.7,585.5ZM252.5,592.7L256.8,584.5L261.1,592.7Z" fill="#000"/>
<line x1="241.7" y1="557.6" x2="264.7" y2="557.6" stroke="#000" stroke-width="1.5"/>
<line x1="253.2" y1="539.6" x2="253.2" y2="575.6" stroke="#000" stroke-width="1.4"/>
<line x1="249.39999999999998" y1="539.6" x2="257.0" y2="539.6" stroke="#000" stroke-width="1.4"/>
<line x1="249.39999999999998" y1="575.6" x2="257.0" y2="575.6" stroke="#000" stroke-width="1.4"/>
<path d="M272.1,563.3L276.4,555.1L280.7,563.3ZM283.1,566.0L287.4,557.8L291.7,566.0ZM276.7,570.6L281.0,562.4L285.3,570.6ZM269.7,574.4L274.0,566.2L278.3,574.4ZM276.0,572.3L280.3,564.1L284.6,572.3ZM281.8,574.2L286.1,566.0L290.4,574.2ZM271.7,576.9L276.0,568.7L280.3,576.9ZM277.0,577.8L281.3,569.6L285.6,577.8ZM283.3,578.4L287.6,570.2L291.9,578.4ZM271.9,582.9L276.2,574.7L280.5,582.9ZM276.8,581.3L281.1,573.1L285.4,581.3ZM282.9,582.5L287.2,574.3L291.5,582.5ZM271.1,585.6L275.4,577.4L279.7,585.6ZM277.2,584.2L281.5,576.0L285.8,584.2ZM283.3,586.6L287.6,578.4L291.9,586.6ZM269.8,590.4L274.1,582.2L278.4,590.4ZM276.0,591.0L280.3,582.8L284.6,591.0ZM280.5,589.7L284.8,581.5L289.1,589.7ZM272.7,595.5L277.0,587.3L281.3,595.5ZM274.8,594.2L279.1,586.0L283.4,594.2ZM282.4,594.1L286.7,585.9L291.0,594.1ZM274.0,597.8L278.3,589.6L282.6,597.8ZM277.4,598.0L281.7,589.8L286.0,598.0ZM283.0,598.8L287.3,590.6L291.6,598.8Z" fill="#000"/>
<line x1="270.0" y1="579.3" x2="293.0" y2="579.3" stroke="#000" stroke-width="1.5"/>
<line x1="281.5" y1="569.3" x2="281.5" y2="589.3" stroke="#000" stroke-width="1.4"/>
<line x1="277.7" y1="569.3" x2="285.3" y2="569.3" stroke="#000" stroke-width="1.4"/>
<line x1="277.7" y1="589.3" x2="285.3" y2="589.3" stroke="#000" stroke-width="1.4"/>
<path d="M300.2,580.1L304.5,571.9L308.8,580.1ZM312.4,584.9L316.7,576.7L321.0,584.9ZM300.1,589.2L304.4,581.0L308.7,589.2ZM307.7,591.2L312.0,583.0L316.3,591.2ZM312.3,591.5L316.6,583.3L320.9,591.5ZM300.4,594.3L304.7,586.1L309.0,594.3ZM305.2,594.2L309.5,586.0L313.8,594.2ZM313.3,593.6L317.6,585.4L321.9,593.6ZM299.4,598.7L303.7,590.5L308.0,598.7ZM306.2,599.5L310.5,591.3L314.8,599.5ZM310.8,597.6L315.1,589.4L319.4,597.6ZM301.0,604.2L305.3,596.0L309.6,604.2ZM306.8,603.4L311.1,595.2L315.4,603.4ZM310.7,603.4L315.0,595.2L319.3,603.4Z" fill="#000"/>
<line x1="298.6" y1="592" x2="321.6" y2="592" stroke="#000" stroke-width="1.5"/>
<line x1="310.1" y1="585" x2="310.1" y2="599" stroke="#000" stroke-width="1.4"/>
<line x1="306.3" y1="585" x2="313.90000000000003" y2="585" stroke="#000" stroke-width="1.4"/>
<line x1="306.3" y1="599" x2="313.90000000000003" y2="599" stroke="#000" stroke-width="1.4"/>
<path d="M334.7,584.4L339.0,576.2L343.3,584.4ZM340.4,587.9L344.7,579.7L349.0,587.9ZM328.7,597.3L333.0,589.1L337.3,597.3ZM333.6,596.7L337.9,588.5L342.2,596.7ZM339.8,597.0L344.1,588.8L348.4,597.0ZM328.4,602.8L332.7,594.6L337.0,602.8ZM335.9,602.0L340.2,593.8L344.5,602.0ZM338.6,600.5L342.9,592.3L347.2,600.5ZM327.1,605.4L331.4,597.2L335.7,605.4ZM332.1,605.9L336.4,597.7L340.7,605.9ZM342.1,604.0L346.4,595.8L350.7,604.0ZM327.7,608.6L332.0,600.4L336.3,608.6ZM334.4,609.7L338.7,601.5L343.0,609.7ZM342.1,609.0L346.4,600.8L350.7,609.0Z" fill="#000"/>
<line x1="327.2" y1="597" x2="350.2" y2="597" stroke="#000" stroke-width="1.5"/>
<line x1="338.7" y1="591" x2="338.7" y2="603" stroke="#000" stroke-width="1.4"/>
<line x1="334.9" y1="591" x2="342.5" y2="591" stroke="#000" stroke-width="1.4"/>
<line x1="334.9" y1="603" x2="342.5" y2="603" stroke="#000" stroke-width="1.4"/>
</svg></body></html>
